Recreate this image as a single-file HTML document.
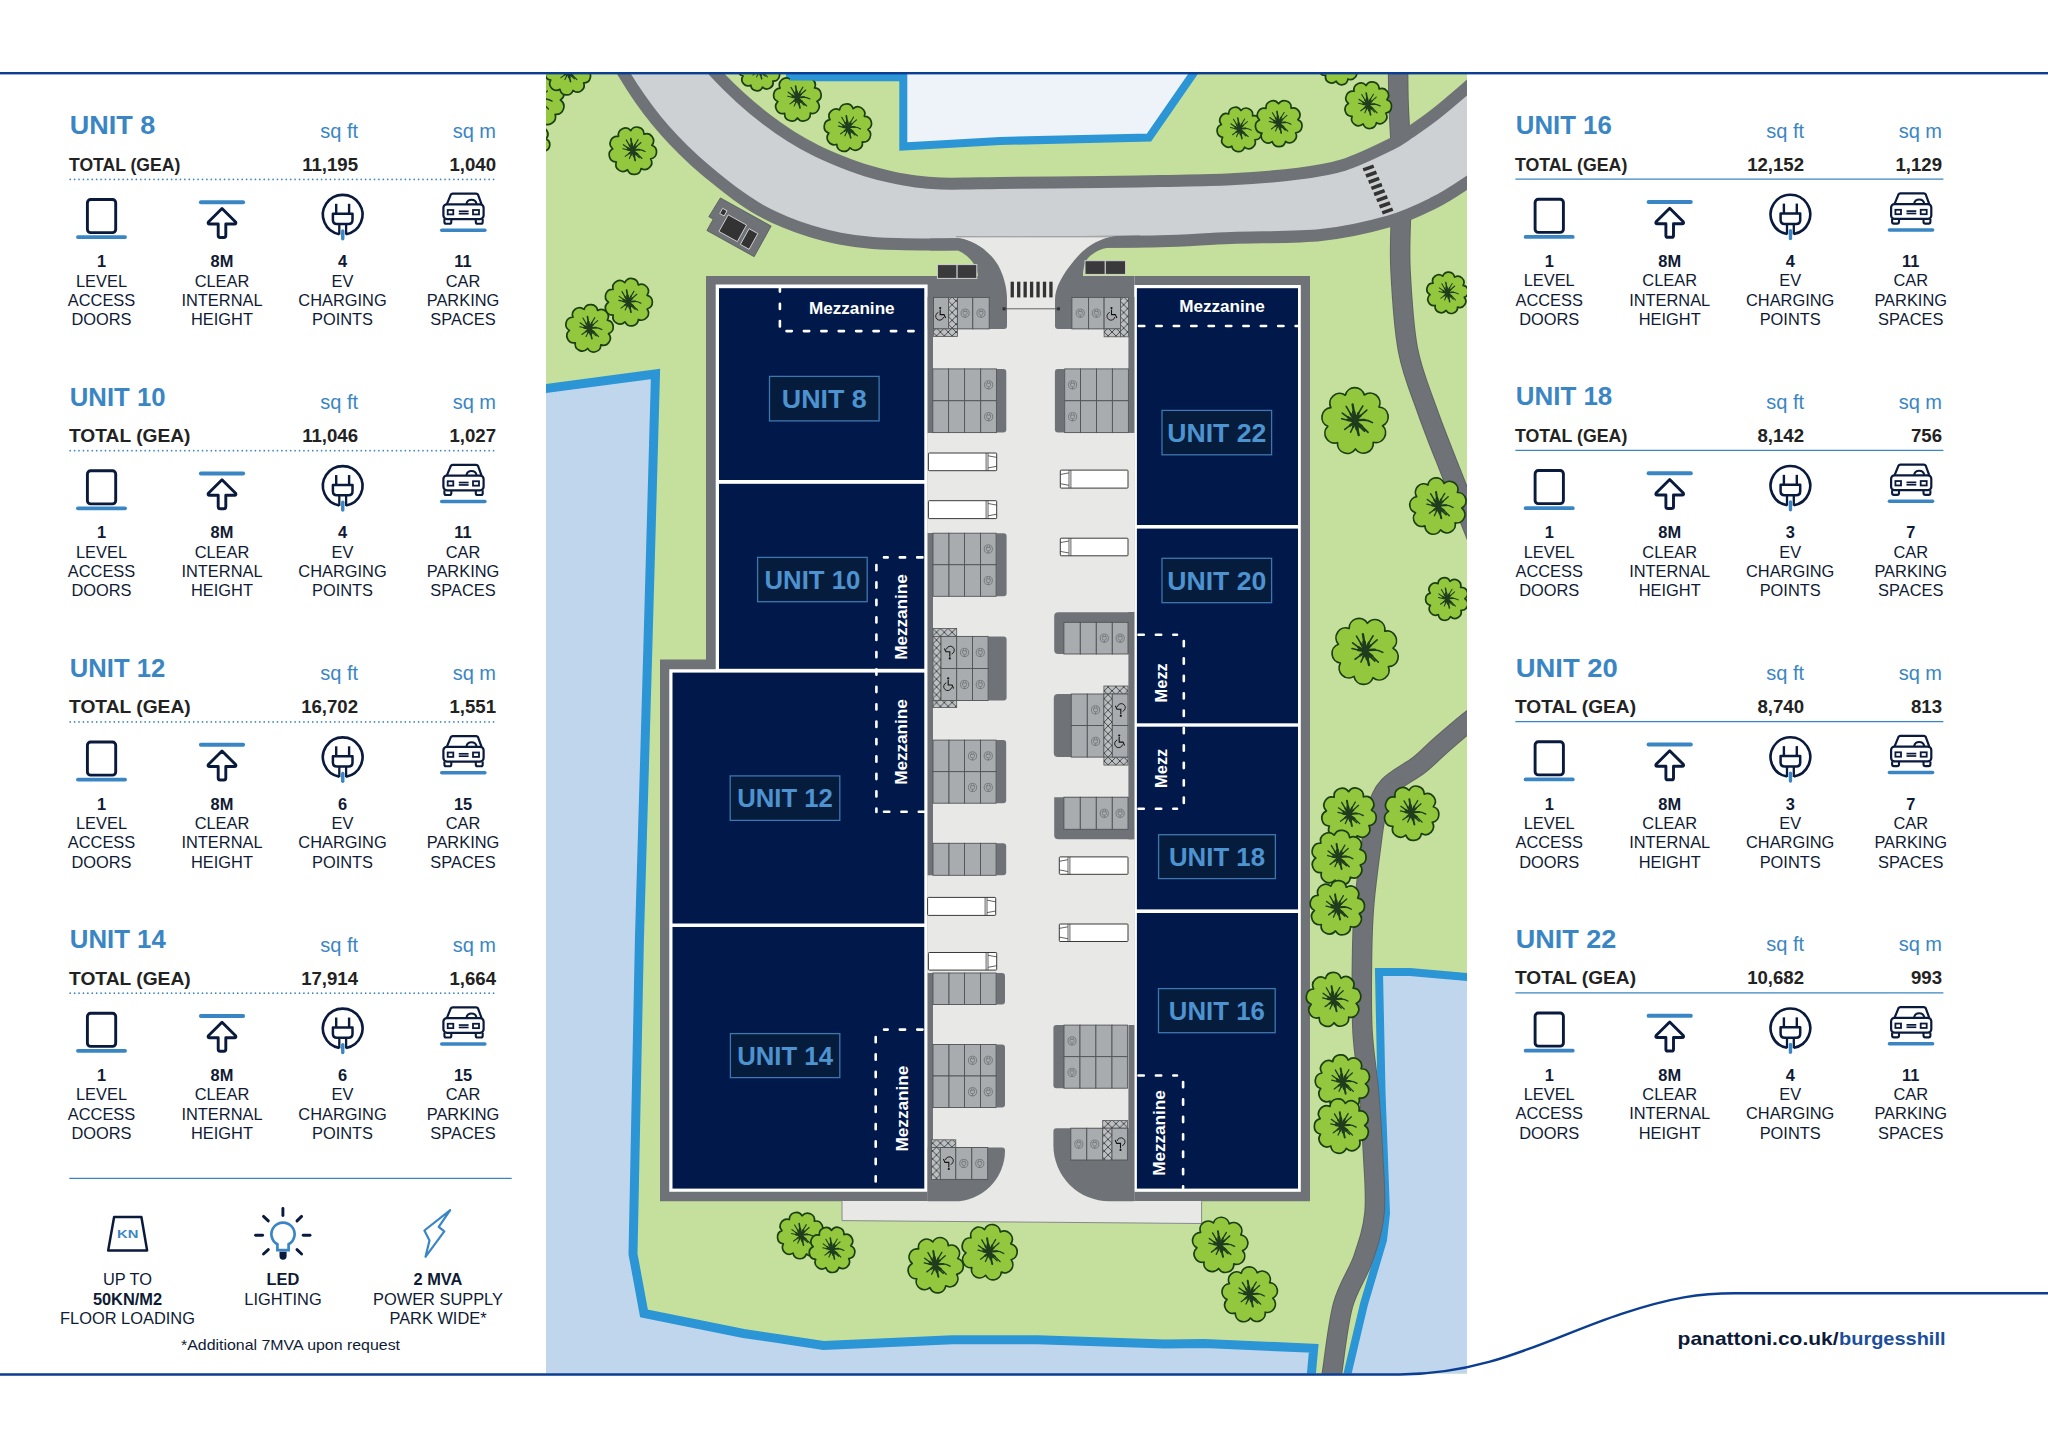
<!DOCTYPE html><html><head><meta charset="utf-8"><title>Panattoni Burgess Hill - Site Plan</title>
<style>html,body{margin:0;padding:0;background:#fff;}body{width:2048px;height:1448px;overflow:hidden;}svg{display:block;font-family:"Liberation Sans", sans-serif;}</style></head><body>
<svg width="2048" height="1448" viewBox="0 0 2048 1448">
<rect width="2048" height="1448" fill="#fff"/>
<defs><clipPath id="mapclip"><rect x="546" y="74" width="921" height="1299.5"/></clipPath><pattern id="hatch" patternUnits="userSpaceOnUse" width="7.8" height="7.8" x="0.5" y="0.5"><rect width="7.8" height="7.8" fill="#bdc0c2"/><path d="M0,0 L7.8,7.8 M7.8,0 L0,7.8" stroke="#3a3c3e" stroke-width="0.9"/></pattern></defs><g clip-path="url(#mapclip)"><rect x="546" y="74" width="921" height="1300" fill="#c5e09c"/><polygon points="520,392 655.5,374 647.5,660 639.4,940 633,1254 644,1313.4 743.5,1333.5 776.8,1338.4 823.5,1345.5 952.4,1339.8 1037.4,1339.8 1164.8,1344.1 1204.5,1343.5 1313.7,1348.3 1309,1400 520,1400" fill="#c0d6ec" stroke="#2b95d6" stroke-width="9" stroke-linejoin="miter"/><polygon points="1379,972 1410,972 1490,979 1490,1400 1345,1400 1346,1380 1364,1304 1383,1240 1386,1213 1381.5,1092" fill="#c0d6ec" stroke="#2b95d6" stroke-width="8" stroke-linejoin="miter"/><polygon points="790,40 790,77.2 903.3,77.2 903.3,146.5 1000,141 1149,137.5 1193,74 1215,40" fill="#eef3f9" stroke="#2b95d6" stroke-width="8" stroke-linejoin="miter"/><path d="M1398,50 C1398.08,58.33 1398,83.33 1398.5,100 C1399,116.67 1400.58,141.67 1401,150" fill="none" stroke="#5e6265" stroke-width="20.5"/><path d="M1398,50 C1398.08,58.33 1398,83.33 1398.5,100 C1399,116.67 1400.58,141.67 1401,150" fill="none" stroke="#6f7377" stroke-width="18.5"/><path d="M1401,215 C1400.92,224.17 1399.33,247.5 1400.5,270 C1401.67,292.5 1403.58,326.67 1408,350 C1412.42,373.33 1420,390 1427,410 C1434,430 1441.17,447.5 1450,470 C1458.83,492.5 1475,532.5 1480,545" fill="none" stroke="#5e6265" stroke-width="20.5"/><path d="M1401,215 C1400.92,224.17 1399.33,247.5 1400.5,270 C1401.67,292.5 1403.58,326.67 1408,350 C1412.42,373.33 1420,390 1427,410 C1434,430 1441.17,447.5 1450,470 C1458.83,492.5 1475,532.5 1480,545" fill="none" stroke="#6f7377" stroke-width="18.5"/><path d="M1490,706 C1486.17,708.83 1475.33,716.33 1467,723 C1458.67,729.67 1448,739 1440,746 C1432,753 1427.5,758.33 1419,765 C1410.5,771.67 1396,778.5 1389,786 C1382,793.5 1380,799.83 1377,810 C1374,820.17 1373.17,830.83 1371,847 C1368.83,863.17 1365.5,888.17 1364,907 C1362.5,925.83 1362.25,939.33 1362,960 C1361.75,980.67 1361.33,1009 1362.5,1031 C1363.67,1053 1367.25,1071.67 1369,1092 C1370.75,1112.33 1372.08,1132.83 1373,1153 C1373.92,1173.17 1376.17,1195.33 1374.5,1213 C1372.83,1230.67 1368.25,1243.67 1363,1259 C1357.75,1274.33 1348.17,1286 1343,1305 C1337.83,1324 1334.33,1358.5 1332,1373 C1329.67,1387.5 1329.5,1388.83 1329,1392" fill="none" stroke="#5e6265" stroke-width="20.5"/><path d="M1490,706 C1486.17,708.83 1475.33,716.33 1467,723 C1458.67,729.67 1448,739 1440,746 C1432,753 1427.5,758.33 1419,765 C1410.5,771.67 1396,778.5 1389,786 C1382,793.5 1380,799.83 1377,810 C1374,820.17 1373.17,830.83 1371,847 C1368.83,863.17 1365.5,888.17 1364,907 C1362.5,925.83 1362.25,939.33 1362,960 C1361.75,980.67 1361.33,1009 1362.5,1031 C1363.67,1053 1367.25,1071.67 1369,1092 C1370.75,1112.33 1372.08,1132.83 1373,1153 C1373.92,1173.17 1376.17,1195.33 1374.5,1213 C1372.83,1230.67 1368.25,1243.67 1363,1259 C1357.75,1274.33 1348.17,1286 1343,1305 C1337.83,1324 1334.33,1358.5 1332,1373 C1329.67,1387.5 1329.5,1388.83 1329,1392" fill="none" stroke="#6f7377" stroke-width="18.5"/><path d="M612,52 C614,55.67 619.42,66.33 624,74 C628.58,81.67 634.17,90.33 639.5,98 C644.83,105.67 650.25,112.93 656,120 C661.75,127.07 667.67,133.73 674,140.4 C680.33,147.07 687.17,153.75 694,160 C700.83,166.25 707.83,172.07 715,177.9 C722.17,183.73 729.5,189.65 737,195 C744.5,200.35 752,205.5 760,210 C768,214.5 776.67,218.5 785,222 C793.33,225.5 800.83,228.23 810,231 C819.17,233.77 829.5,236.6 840,238.6 C850.5,240.6 859.17,242.02 873,243 C886.83,243.98 909.17,244.28 923,244.5 C936.83,244.72 931.33,244.72 956,244.3 C980.67,243.88 1037,242.5 1071,242 C1105,241.5 1133.33,241.97 1160,241.3 C1186.67,240.63 1204.17,239.05 1231,238 C1257.83,236.95 1294.73,237.75 1321,235 C1347.27,232.25 1369.83,226.83 1388.6,221.5 C1407.37,216.17 1420.53,209.47 1433.6,203 C1446.67,196.53 1455.93,190.2 1467,182.7 C1478.07,175.2 1494.5,162.12 1500,158 L1500,58 C1494.5,62.92 1477.92,78.03 1467,87.5 C1456.08,96.97 1444,107.33 1434.5,114.8 C1425,122.27 1417.47,127.28 1410,132.3 C1402.53,137.32 1400.77,139.45 1389.7,144.9 C1378.63,150.35 1358.78,160.22 1343.6,165 C1328.42,169.78 1317.37,171.22 1298.6,173.6 C1279.83,175.98 1254.1,178.07 1231,179.3 C1207.9,180.53 1181.83,180.55 1160,181 C1138.17,181.45 1126.67,181.67 1100,182 C1073.33,182.33 1021.67,182.75 1000,183 C978.33,183.25 979.83,183.42 970,183.5 C960.17,183.58 950,183.83 941,183.5 C932,183.17 924.33,182.58 916,181.5 C907.67,180.42 899.33,178.83 891,177 C882.67,175.17 874.33,173.08 866,170.5 C857.67,167.92 849.33,164.83 841,161.5 C832.67,158.17 824.33,154.67 816,150.5 C807.67,146.33 799.33,141.75 791,136.5 C782.67,131.25 774.27,125.33 766,119 C757.73,112.67 749.67,106 741.4,98.5 C733.13,91 723.3,81.42 716.4,74 C709.5,66.58 702.73,57.33 700,54 Z" fill="#cdd1d4" stroke="#6f7377" stroke-width="12" stroke-linejoin="round"/><rect x="1362.9" y="166.2" width="11.2" height="3.6" fill="#333" transform="rotate(-20 1368.5 168)"/><rect x="1365.61" y="172.34" width="11.2" height="3.6" fill="#333" transform="rotate(-20 1371.21 174.14)"/><rect x="1368.33" y="178.49" width="11.2" height="3.6" fill="#333" transform="rotate(-20 1373.93 180.29)"/><rect x="1371.04" y="184.63" width="11.2" height="3.6" fill="#333" transform="rotate(-20 1376.64 186.43)"/><rect x="1373.76" y="190.77" width="11.2" height="3.6" fill="#333" transform="rotate(-20 1379.36 192.57)"/><rect x="1376.47" y="196.91" width="11.2" height="3.6" fill="#333" transform="rotate(-20 1382.07 198.71)"/><rect x="1379.19" y="203.06" width="11.2" height="3.6" fill="#333" transform="rotate(-20 1384.79 204.86)"/><rect x="1381.9" y="209.2" width="11.2" height="3.6" fill="#333" transform="rotate(-20 1387.5 211)"/><g transform="translate(738,226) rotate(29)"><path d="M-29,-16 L29,-16 L29,19 L-25,19 L-25,6 L-30,6 Z" fill="#6f7377" stroke="#5a5d60" stroke-width="0.8"/><rect x="-22" y="-8" width="5" height="6" fill="#333" stroke="#ddd" stroke-width="0.8"/><rect x="-14" y="-5" width="21" height="19" fill="#333" stroke="#ddd" stroke-width="0.8"/><rect x="11" y="-3" width="10" height="18" fill="#333" stroke="#ddd" stroke-width="0.8"/></g><polygon points="706,276 1310,276 1310,1201.3 660,1201.3 660,659.5 706,659.5" fill="#6f7377"/><path d="M842,1201 L1201.6,1201 L1201.6,1223.5 L842,1220.6 Z" fill="#e8e8e6"/><path d="M842,1201.3 L842,1220.6 L1201.6,1223.5 L1201.6,1201.3" fill="none" stroke="#7d8083" stroke-width="0.9"/><rect x="927.6" y="276" width="206.7" height="925.3" fill="#e8e8e6"/><path d="M954,237 C975,239.5 990,252 998,265 C1004,276 1007,288 1007,302 L1055,302 C1055,287 1063,274 1074.6,260 C1085,247 1100,238 1118,236 Z" fill="#e8e8e6"/><line x1="956" y1="236.8" x2="1116" y2="236.8" stroke="#8d9093" stroke-width="1"/><path d="M930,238.6 L956,238.2 C975,240 990,252 998,265 C1004,276 1007,288 1007,300 L1007,326 Q1007,329 1004,329 L927,329 L927,276 L978,276 C977,266 970,256 958,250.4 L930,250.6 Z" fill="#6f7377"/><path d="M1140,235.4 L1116,236.1 C1100,238 1085,247 1074.6,260 C1063,274 1055,287 1055,300 L1055,326 Q1055,329 1058,329 L1134,329 L1134,276 L1083,276 C1083,268 1085,262 1088,258 C1094,252 1100,249 1108,247.7 L1140,247.3 Z" fill="#6f7377"/><rect x="937.4" y="264.6" width="19.7" height="13.8" fill="#3a3a3c" stroke="#cfd0d0" stroke-width="1"/><rect x="957.1" y="264.6" width="19.7" height="13.8" fill="#3a3a3c" stroke="#cfd0d0" stroke-width="1"/><rect x="1085" y="260.7" width="20.3" height="13.7" fill="#3a3a3c" stroke="#cfd0d0" stroke-width="1"/><rect x="1105.3" y="260.7" width="20.3" height="13.7" fill="#3a3a3c" stroke="#cfd0d0" stroke-width="1"/><rect x="1010.6" y="281.7" width="3.3" height="15.7" fill="#333"/><rect x="1017.05" y="281.7" width="3.3" height="15.7" fill="#333"/><rect x="1023.5" y="281.7" width="3.3" height="15.7" fill="#333"/><rect x="1029.95" y="281.7" width="3.3" height="15.7" fill="#333"/><rect x="1036.4" y="281.7" width="3.3" height="15.7" fill="#333"/><rect x="1042.85" y="281.7" width="3.3" height="15.7" fill="#333"/><rect x="1049.3" y="281.7" width="3.3" height="15.7" fill="#333"/><line x1="1004" y1="308.8" x2="1058.5" y2="308.8" stroke="#555" stroke-width="0.9"/><rect x="1002.5" y="307.3" width="3.2" height="3" fill="#333"/><rect x="1056.8" y="307.3" width="3.2" height="3" fill="#333"/><polygon points="715.7,284.6 927.6,284.6 927.6,1191.8 669.3,1191.8 669.3,669.2 715.7,669.2" fill="#fff"/><rect x="1134.3" y="285" width="166.5" height="906.8" fill="#fff"/><rect x="719" y="288.2" width="205.3" height="191.8" fill="#01194a"/><rect x="719" y="483.8" width="205.3" height="185" fill="#01194a"/><rect x="672.5" y="672.6" width="251.8" height="250.9" fill="#01194a"/><rect x="672.5" y="927" width="251.8" height="261.6" fill="#01194a"/><rect x="1136.9" y="288.2" width="161.1" height="236.8" fill="#01194a"/><rect x="1136.9" y="528.6" width="161.1" height="194.7" fill="#01194a"/><rect x="1136.9" y="726.7" width="161.1" height="182.7" fill="#01194a"/><rect x="1136.9" y="913" width="161.1" height="275.6" fill="#01194a"/>
<rect x="927.6" y="297" width="5.4" height="136" fill="#6f7377"/><rect x="927.6" y="533" width="5.4" height="342.3" fill="#6f7377"/><rect x="927.6" y="973" width="5.4" height="228" fill="#6f7377"/><rect x="1128.4" y="297" width="6" height="136" fill="#6f7377"/><rect x="1128.4" y="612" width="6" height="227.3" fill="#6f7377"/><rect x="1128.4" y="1025" width="6" height="176" fill="#6f7377"/><rect x="933.5" y="297.4" width="15.1" height="31.5" fill="#a9acaf" stroke="#505356" stroke-width="0.9"/><rect x="948.6" y="297.4" width="8.8" height="31.5" fill="url(#hatch)" stroke="#555" stroke-width="0.8"/><rect x="933.5" y="328.9" width="23.9" height="7.5" fill="url(#hatch)" stroke="#555" stroke-width="0.8"/><rect x="957.4" y="297.4" width="15.4" height="31.5" fill="#a9acaf" stroke="#505356" stroke-width="0.9"/><rect x="972.8" y="297.4" width="16.4" height="31.5" fill="#a9acaf" stroke="#505356" stroke-width="0.9"/><g transform="translate(965.1,313.15) rotate(0)"><circle r="4.1" fill="none" stroke="#6b6e71" stroke-width="0.8"/><path d="M-2,-1.6 L2,-1.6 L2,0.6 Q2,2 0,2 Q-2,2 -2,0.6 Z M-1.1,-1.6 L-1.1,-3.2 M1.1,-1.6 L1.1,-3.2 M0,2 L0,4.6" fill="none" stroke="#6b6e71" stroke-width="0.7"/></g><g transform="translate(981,313.15) rotate(0)"><circle r="4.1" fill="none" stroke="#6b6e71" stroke-width="0.8"/><path d="M-2,-1.6 L2,-1.6 L2,0.6 Q2,2 0,2 Q-2,2 -2,0.6 Z M-1.1,-1.6 L-1.1,-3.2 M1.1,-1.6 L1.1,-3.2 M0,2 L0,4.6" fill="none" stroke="#6b6e71" stroke-width="0.7"/></g><g transform="translate(941,314) rotate(0)"><circle cx="-0.8" cy="-6" r="1.1" fill="#111"/><path d="M-0.8,-4.4 L-0.8,0.6 L3,0.6 L4.6,4" fill="none" stroke="#111" stroke-width="1.1"/><path d="M-2.6,-1.6 A4,4 0 1 0 2.6,3" fill="none" stroke="#111" stroke-width="0.9"/></g><path d="M996.5,368.9 L1003.3,368.9 Q1006.3,368.9 1006.3,371.9 L1006.3,429.6 Q1006.3,432.6 1003.3,432.6 L996.5,432.6 L996.5,368.9 Z" fill="#6f7377"/><rect x="932.8" y="368.9" width="15.8" height="31.85" fill="#a9acaf" stroke="#505356" stroke-width="0.9"/><rect x="932.8" y="400.75" width="15.8" height="31.85" fill="#a9acaf" stroke="#505356" stroke-width="0.9"/><rect x="948.6" y="368.9" width="16" height="31.85" fill="#a9acaf" stroke="#505356" stroke-width="0.9"/><rect x="948.6" y="400.75" width="16" height="31.85" fill="#a9acaf" stroke="#505356" stroke-width="0.9"/><rect x="964.6" y="368.9" width="16.1" height="31.85" fill="#a9acaf" stroke="#505356" stroke-width="0.9"/><rect x="964.6" y="400.75" width="16.1" height="31.85" fill="#a9acaf" stroke="#505356" stroke-width="0.9"/><rect x="980.7" y="368.9" width="15.8" height="31.85" fill="#a9acaf" stroke="#505356" stroke-width="0.9"/><rect x="980.7" y="400.75" width="15.8" height="31.85" fill="#a9acaf" stroke="#505356" stroke-width="0.9"/><g transform="translate(988.6,384.82) rotate(0)"><circle r="4.1" fill="none" stroke="#6b6e71" stroke-width="0.8"/><path d="M-2,-1.6 L2,-1.6 L2,0.6 Q2,2 0,2 Q-2,2 -2,0.6 Z M-1.1,-1.6 L-1.1,-3.2 M1.1,-1.6 L1.1,-3.2 M0,2 L0,4.6" fill="none" stroke="#6b6e71" stroke-width="0.7"/></g><g transform="translate(988.6,416.68) rotate(0)"><circle r="4.1" fill="none" stroke="#6b6e71" stroke-width="0.8"/><path d="M-2,-1.6 L2,-1.6 L2,0.6 Q2,2 0,2 Q-2,2 -2,0.6 Z M-1.1,-1.6 L-1.1,-3.2 M1.1,-1.6 L1.1,-3.2 M0,2 L0,4.6" fill="none" stroke="#6b6e71" stroke-width="0.7"/></g><rect x="928.4" y="453" width="68.3" height="17.7" rx="0.8" fill="#fff" stroke="#3a3a3a" stroke-width="1"/><path d="M986.1,453 L986.1,470.7 M988,453 L988,470.7 M988.1,455.8 L996.7,457.4 M988.1,467.9 L996.7,466.3" fill="none" stroke="#3a3a3a" stroke-width="0.8"/><rect x="928.4" y="500.7" width="68.3" height="17.9" rx="0.8" fill="#fff" stroke="#3a3a3a" stroke-width="1"/><path d="M986.1,500.7 L986.1,518.6 M988,500.7 L988,518.6 M988.1,503.5 L996.7,505.1 M988.1,515.8 L996.7,514.2" fill="none" stroke="#3a3a3a" stroke-width="0.8"/><path d="M996.1,533.2 L1003.6,533.2 Q1006.6,533.2 1006.6,536.2 L1006.6,593.3 Q1006.6,596.3 1003.6,596.3 L996.1,596.3 L996.1,533.2 Z" fill="#6f7377"/><rect x="933" y="533.2" width="16" height="31.55" fill="#a9acaf" stroke="#505356" stroke-width="0.9"/><rect x="933" y="564.75" width="16" height="31.55" fill="#a9acaf" stroke="#505356" stroke-width="0.9"/><rect x="949" y="533.2" width="15.5" height="31.55" fill="#a9acaf" stroke="#505356" stroke-width="0.9"/><rect x="949" y="564.75" width="15.5" height="31.55" fill="#a9acaf" stroke="#505356" stroke-width="0.9"/><rect x="964.5" y="533.2" width="16" height="31.55" fill="#a9acaf" stroke="#505356" stroke-width="0.9"/><rect x="964.5" y="564.75" width="16" height="31.55" fill="#a9acaf" stroke="#505356" stroke-width="0.9"/><rect x="980.5" y="533.2" width="15.6" height="31.55" fill="#a9acaf" stroke="#505356" stroke-width="0.9"/><rect x="980.5" y="564.75" width="15.6" height="31.55" fill="#a9acaf" stroke="#505356" stroke-width="0.9"/><g transform="translate(988.3,548.98) rotate(0)"><circle r="4.1" fill="none" stroke="#6b6e71" stroke-width="0.8"/><path d="M-2,-1.6 L2,-1.6 L2,0.6 Q2,2 0,2 Q-2,2 -2,0.6 Z M-1.1,-1.6 L-1.1,-3.2 M1.1,-1.6 L1.1,-3.2 M0,2 L0,4.6" fill="none" stroke="#6b6e71" stroke-width="0.7"/></g><g transform="translate(988.3,580.52) rotate(0)"><circle r="4.1" fill="none" stroke="#6b6e71" stroke-width="0.8"/><path d="M-2,-1.6 L2,-1.6 L2,0.6 Q2,2 0,2 Q-2,2 -2,0.6 Z M-1.1,-1.6 L-1.1,-3.2 M1.1,-1.6 L1.1,-3.2 M0,2 L0,4.6" fill="none" stroke="#6b6e71" stroke-width="0.7"/></g><path d="M988.1,636.4 L1003.6,636.4 Q1006.6,636.4 1006.6,639.4 L1006.6,697.5 Q1006.6,700.5 1003.6,700.5 L988.1,700.5 L988.1,636.4 Z" fill="#6f7377"/><rect x="933" y="628.4" width="23.7" height="8" fill="url(#hatch)" stroke="#555" stroke-width="0.8"/><rect x="933" y="636.4" width="8" height="64.1" fill="url(#hatch)" stroke="#555" stroke-width="0.8"/><rect x="933" y="700.5" width="23.7" height="7" fill="url(#hatch)" stroke="#555" stroke-width="0.8"/><rect x="941" y="636.4" width="15.7" height="32.05" fill="#a9acaf" stroke="#505356" stroke-width="0.9"/><rect x="941" y="668.45" width="15.7" height="32.05" fill="#a9acaf" stroke="#505356" stroke-width="0.9"/><rect x="956.7" y="636.4" width="15.8" height="32.05" fill="#a9acaf" stroke="#505356" stroke-width="0.9"/><rect x="956.7" y="668.45" width="15.8" height="32.05" fill="#a9acaf" stroke="#505356" stroke-width="0.9"/><rect x="972.5" y="636.4" width="15.6" height="32.05" fill="#a9acaf" stroke="#505356" stroke-width="0.9"/><rect x="972.5" y="668.45" width="15.6" height="32.05" fill="#a9acaf" stroke="#505356" stroke-width="0.9"/><g transform="translate(964.6,652.42) rotate(0)"><circle r="4.1" fill="none" stroke="#6b6e71" stroke-width="0.8"/><path d="M-2,-1.6 L2,-1.6 L2,0.6 Q2,2 0,2 Q-2,2 -2,0.6 Z M-1.1,-1.6 L-1.1,-3.2 M1.1,-1.6 L1.1,-3.2 M0,2 L0,4.6" fill="none" stroke="#6b6e71" stroke-width="0.7"/></g><g transform="translate(964.6,684.48) rotate(0)"><circle r="4.1" fill="none" stroke="#6b6e71" stroke-width="0.8"/><path d="M-2,-1.6 L2,-1.6 L2,0.6 Q2,2 0,2 Q-2,2 -2,0.6 Z M-1.1,-1.6 L-1.1,-3.2 M1.1,-1.6 L1.1,-3.2 M0,2 L0,4.6" fill="none" stroke="#6b6e71" stroke-width="0.7"/></g><g transform="translate(980.3,652.42) rotate(0)"><circle r="4.1" fill="none" stroke="#6b6e71" stroke-width="0.8"/><path d="M-2,-1.6 L2,-1.6 L2,0.6 Q2,2 0,2 Q-2,2 -2,0.6 Z M-1.1,-1.6 L-1.1,-3.2 M1.1,-1.6 L1.1,-3.2 M0,2 L0,4.6" fill="none" stroke="#6b6e71" stroke-width="0.7"/></g><g transform="translate(980.3,684.48) rotate(0)"><circle r="4.1" fill="none" stroke="#6b6e71" stroke-width="0.8"/><path d="M-2,-1.6 L2,-1.6 L2,0.6 Q2,2 0,2 Q-2,2 -2,0.6 Z M-1.1,-1.6 L-1.1,-3.2 M1.1,-1.6 L1.1,-3.2 M0,2 L0,4.6" fill="none" stroke="#6b6e71" stroke-width="0.7"/></g><g transform="translate(949,652.4) rotate(180)"><circle cx="-0.8" cy="-6" r="1.1" fill="#111"/><path d="M-0.8,-4.4 L-0.8,0.6 L3,0.6 L4.6,4" fill="none" stroke="#111" stroke-width="1.1"/><path d="M-2.6,-1.6 A4,4 0 1 0 2.6,3" fill="none" stroke="#111" stroke-width="0.9"/></g><g transform="translate(949,684.4) rotate(0)"><circle cx="-0.8" cy="-6" r="1.1" fill="#111"/><path d="M-0.8,-4.4 L-0.8,0.6 L3,0.6 L4.6,4" fill="none" stroke="#111" stroke-width="1.1"/><path d="M-2.6,-1.6 A4,4 0 1 0 2.6,3" fill="none" stroke="#111" stroke-width="0.9"/></g><path d="M996.1,740.1 L1003.2,740.1 Q1006.2,740.1 1006.2,743.1 L1006.2,800.2 Q1006.2,803.2 1003.2,803.2 L996.1,803.2 L996.1,740.1 Z" fill="#6f7377"/><rect x="933" y="740.1" width="16" height="31.55" fill="#a9acaf" stroke="#505356" stroke-width="0.9"/><rect x="933" y="771.65" width="16" height="31.55" fill="#a9acaf" stroke="#505356" stroke-width="0.9"/><rect x="949" y="740.1" width="15.5" height="31.55" fill="#a9acaf" stroke="#505356" stroke-width="0.9"/><rect x="949" y="771.65" width="15.5" height="31.55" fill="#a9acaf" stroke="#505356" stroke-width="0.9"/><rect x="964.5" y="740.1" width="16" height="31.55" fill="#a9acaf" stroke="#505356" stroke-width="0.9"/><rect x="964.5" y="771.65" width="16" height="31.55" fill="#a9acaf" stroke="#505356" stroke-width="0.9"/><rect x="980.5" y="740.1" width="15.6" height="31.55" fill="#a9acaf" stroke="#505356" stroke-width="0.9"/><rect x="980.5" y="771.65" width="15.6" height="31.55" fill="#a9acaf" stroke="#505356" stroke-width="0.9"/><g transform="translate(972.5,755.88) rotate(0)"><circle r="4.1" fill="none" stroke="#6b6e71" stroke-width="0.8"/><path d="M-2,-1.6 L2,-1.6 L2,0.6 Q2,2 0,2 Q-2,2 -2,0.6 Z M-1.1,-1.6 L-1.1,-3.2 M1.1,-1.6 L1.1,-3.2 M0,2 L0,4.6" fill="none" stroke="#6b6e71" stroke-width="0.7"/></g><g transform="translate(972.5,787.43) rotate(0)"><circle r="4.1" fill="none" stroke="#6b6e71" stroke-width="0.8"/><path d="M-2,-1.6 L2,-1.6 L2,0.6 Q2,2 0,2 Q-2,2 -2,0.6 Z M-1.1,-1.6 L-1.1,-3.2 M1.1,-1.6 L1.1,-3.2 M0,2 L0,4.6" fill="none" stroke="#6b6e71" stroke-width="0.7"/></g><g transform="translate(988.3,755.88) rotate(0)"><circle r="4.1" fill="none" stroke="#6b6e71" stroke-width="0.8"/><path d="M-2,-1.6 L2,-1.6 L2,0.6 Q2,2 0,2 Q-2,2 -2,0.6 Z M-1.1,-1.6 L-1.1,-3.2 M1.1,-1.6 L1.1,-3.2 M0,2 L0,4.6" fill="none" stroke="#6b6e71" stroke-width="0.7"/></g><g transform="translate(988.3,787.43) rotate(0)"><circle r="4.1" fill="none" stroke="#6b6e71" stroke-width="0.8"/><path d="M-2,-1.6 L2,-1.6 L2,0.6 Q2,2 0,2 Q-2,2 -2,0.6 Z M-1.1,-1.6 L-1.1,-3.2 M1.1,-1.6 L1.1,-3.2 M0,2 L0,4.6" fill="none" stroke="#6b6e71" stroke-width="0.7"/></g><path d="M996.1,843.3 L1003.2,843.3 Q1006.2,843.3 1006.2,846.3 L1006.2,872.3 Q1006.2,875.3 1003.2,875.3 L996.1,875.3 L996.1,843.3 Z" fill="#6f7377"/><rect x="933" y="843.3" width="16" height="32" fill="#a9acaf" stroke="#505356" stroke-width="0.9"/><rect x="949" y="843.3" width="15.5" height="32" fill="#a9acaf" stroke="#505356" stroke-width="0.9"/><rect x="964.5" y="843.3" width="16" height="32" fill="#a9acaf" stroke="#505356" stroke-width="0.9"/><rect x="980.5" y="843.3" width="15.6" height="32" fill="#a9acaf" stroke="#505356" stroke-width="0.9"/><rect x="927.6" y="897.4" width="68.1" height="18" rx="0.8" fill="#fff" stroke="#3a3a3a" stroke-width="1"/><path d="M985.1,897.4 L985.1,915.4 M987,897.4 L987,915.4 M987.1,900.2 L995.7,901.8 M987.1,912.6 L995.7,911" fill="none" stroke="#3a3a3a" stroke-width="0.8"/><rect x="928.4" y="952.5" width="68.3" height="17.6" rx="0.8" fill="#fff" stroke="#3a3a3a" stroke-width="1"/><path d="M986.1,952.5 L986.1,970.1 M988,952.5 L988,970.1 M988.1,955.3 L996.7,956.9 M988.1,967.3 L996.7,965.7" fill="none" stroke="#3a3a3a" stroke-width="0.8"/><path d="M996.1,973 L1002,973 Q1005,973 1005,976 L1005,1001.5 Q1005,1004.5 1002,1004.5 L996.1,1004.5 L996.1,973 Z" fill="#6f7377"/><rect x="933" y="973" width="16" height="31.5" fill="#a9acaf" stroke="#505356" stroke-width="0.9"/><rect x="949" y="973" width="15.5" height="31.5" fill="#a9acaf" stroke="#505356" stroke-width="0.9"/><rect x="964.5" y="973" width="16" height="31.5" fill="#a9acaf" stroke="#505356" stroke-width="0.9"/><rect x="980.5" y="973" width="15.6" height="31.5" fill="#a9acaf" stroke="#505356" stroke-width="0.9"/><path d="M996.1,1044.5 L1002,1044.5 Q1005,1044.5 1005,1047.5 L1005,1104.5 Q1005,1107.5 1002,1107.5 L996.1,1107.5 L996.1,1044.5 Z" fill="#6f7377"/><rect x="933" y="1044.5" width="16" height="31.5" fill="#a9acaf" stroke="#505356" stroke-width="0.9"/><rect x="933" y="1076" width="16" height="31.5" fill="#a9acaf" stroke="#505356" stroke-width="0.9"/><rect x="949" y="1044.5" width="15.5" height="31.5" fill="#a9acaf" stroke="#505356" stroke-width="0.9"/><rect x="949" y="1076" width="15.5" height="31.5" fill="#a9acaf" stroke="#505356" stroke-width="0.9"/><rect x="964.5" y="1044.5" width="16" height="31.5" fill="#a9acaf" stroke="#505356" stroke-width="0.9"/><rect x="964.5" y="1076" width="16" height="31.5" fill="#a9acaf" stroke="#505356" stroke-width="0.9"/><rect x="980.5" y="1044.5" width="15.6" height="31.5" fill="#a9acaf" stroke="#505356" stroke-width="0.9"/><rect x="980.5" y="1076" width="15.6" height="31.5" fill="#a9acaf" stroke="#505356" stroke-width="0.9"/><g transform="translate(972.5,1060.25) rotate(0)"><circle r="4.1" fill="none" stroke="#6b6e71" stroke-width="0.8"/><path d="M-2,-1.6 L2,-1.6 L2,0.6 Q2,2 0,2 Q-2,2 -2,0.6 Z M-1.1,-1.6 L-1.1,-3.2 M1.1,-1.6 L1.1,-3.2 M0,2 L0,4.6" fill="none" stroke="#6b6e71" stroke-width="0.7"/></g><g transform="translate(972.5,1091.75) rotate(0)"><circle r="4.1" fill="none" stroke="#6b6e71" stroke-width="0.8"/><path d="M-2,-1.6 L2,-1.6 L2,0.6 Q2,2 0,2 Q-2,2 -2,0.6 Z M-1.1,-1.6 L-1.1,-3.2 M1.1,-1.6 L1.1,-3.2 M0,2 L0,4.6" fill="none" stroke="#6b6e71" stroke-width="0.7"/></g><g transform="translate(988.3,1060.25) rotate(0)"><circle r="4.1" fill="none" stroke="#6b6e71" stroke-width="0.8"/><path d="M-2,-1.6 L2,-1.6 L2,0.6 Q2,2 0,2 Q-2,2 -2,0.6 Z M-1.1,-1.6 L-1.1,-3.2 M1.1,-1.6 L1.1,-3.2 M0,2 L0,4.6" fill="none" stroke="#6b6e71" stroke-width="0.7"/></g><g transform="translate(988.3,1091.75) rotate(0)"><circle r="4.1" fill="none" stroke="#6b6e71" stroke-width="0.8"/><path d="M-2,-1.6 L2,-1.6 L2,0.6 Q2,2 0,2 Q-2,2 -2,0.6 Z M-1.1,-1.6 L-1.1,-3.2 M1.1,-1.6 L1.1,-3.2 M0,2 L0,4.6" fill="none" stroke="#6b6e71" stroke-width="0.7"/></g><path d="M927.6,1147.5 L1002,1147.5 Q1005,1147.5 1005,1150.5 A50.8,50.8 0 0 1 954.2,1201.3 L927.6,1201.3 Z" fill="#6f7377"/><rect x="931.6" y="1139.8" width="24.2" height="7.7" fill="url(#hatch)" stroke="#555" stroke-width="0.8"/><rect x="931.6" y="1147.5" width="8.7" height="31.9" fill="url(#hatch)" stroke="#555" stroke-width="0.8"/><rect x="940.3" y="1147.5" width="15.5" height="31.9" fill="#a9acaf" stroke="#505356" stroke-width="0.9"/><rect x="955.8" y="1147.5" width="16" height="31.9" fill="#a9acaf" stroke="#505356" stroke-width="0.9"/><rect x="971.8" y="1147.5" width="15.9" height="31.9" fill="#a9acaf" stroke="#505356" stroke-width="0.9"/><g transform="translate(963.8,1163.45) rotate(0)"><circle r="4.1" fill="none" stroke="#6b6e71" stroke-width="0.8"/><path d="M-2,-1.6 L2,-1.6 L2,0.6 Q2,2 0,2 Q-2,2 -2,0.6 Z M-1.1,-1.6 L-1.1,-3.2 M1.1,-1.6 L1.1,-3.2 M0,2 L0,4.6" fill="none" stroke="#6b6e71" stroke-width="0.7"/></g><g transform="translate(979.75,1163.45) rotate(0)"><circle r="4.1" fill="none" stroke="#6b6e71" stroke-width="0.8"/><path d="M-2,-1.6 L2,-1.6 L2,0.6 Q2,2 0,2 Q-2,2 -2,0.6 Z M-1.1,-1.6 L-1.1,-3.2 M1.1,-1.6 L1.1,-3.2 M0,2 L0,4.6" fill="none" stroke="#6b6e71" stroke-width="0.7"/></g><g transform="translate(948,1163) rotate(180)"><circle cx="-0.8" cy="-6" r="1.1" fill="#111"/><path d="M-0.8,-4.4 L-0.8,0.6 L3,0.6 L4.6,4" fill="none" stroke="#111" stroke-width="1.1"/><path d="M-2.6,-1.6 A4,4 0 1 0 2.6,3" fill="none" stroke="#111" stroke-width="0.9"/></g><rect x="1071.9" y="297.4" width="16.7" height="31.5" fill="#a9acaf" stroke="#505356" stroke-width="0.9"/><rect x="1088.6" y="297.4" width="15.5" height="31.5" fill="#a9acaf" stroke="#505356" stroke-width="0.9"/><g transform="translate(1080.25,313.15) rotate(0)"><circle r="4.1" fill="none" stroke="#6b6e71" stroke-width="0.8"/><path d="M-2,-1.6 L2,-1.6 L2,0.6 Q2,2 0,2 Q-2,2 -2,0.6 Z M-1.1,-1.6 L-1.1,-3.2 M1.1,-1.6 L1.1,-3.2 M0,2 L0,4.6" fill="none" stroke="#6b6e71" stroke-width="0.7"/></g><g transform="translate(1096.35,313.15) rotate(0)"><circle r="4.1" fill="none" stroke="#6b6e71" stroke-width="0.8"/><path d="M-2,-1.6 L2,-1.6 L2,0.6 Q2,2 0,2 Q-2,2 -2,0.6 Z M-1.1,-1.6 L-1.1,-3.2 M1.1,-1.6 L1.1,-3.2 M0,2 L0,4.6" fill="none" stroke="#6b6e71" stroke-width="0.7"/></g><rect x="1104.1" y="297.4" width="16.4" height="31.5" fill="#a9acaf" stroke="#505356" stroke-width="0.9"/><rect x="1120.5" y="297.4" width="7.9" height="39.4" fill="url(#hatch)" stroke="#555" stroke-width="0.8"/><rect x="1104.1" y="328.9" width="16.4" height="7.9" fill="url(#hatch)" stroke="#555" stroke-width="0.8"/><g transform="translate(1112.3,314) rotate(0)"><circle cx="-0.8" cy="-6" r="1.1" fill="#111"/><path d="M-0.8,-4.4 L-0.8,0.6 L3,0.6 L4.6,4" fill="none" stroke="#111" stroke-width="1.1"/><path d="M-2.6,-1.6 A4,4 0 1 0 2.6,3" fill="none" stroke="#111" stroke-width="0.9"/></g><path d="M1057.9,368.9 L1064.7,368.9 L1064.7,432.6 L1057.9,432.6 Q1054.9,432.6 1054.9,429.6 L1054.9,371.9 Q1054.9,368.9 1057.9,368.9 Z" fill="#6f7377"/><rect x="1064.7" y="368.9" width="15.8" height="31.85" fill="#a9acaf" stroke="#505356" stroke-width="0.9"/><rect x="1064.7" y="400.75" width="15.8" height="31.85" fill="#a9acaf" stroke="#505356" stroke-width="0.9"/><rect x="1080.5" y="368.9" width="16" height="31.85" fill="#a9acaf" stroke="#505356" stroke-width="0.9"/><rect x="1080.5" y="400.75" width="16" height="31.85" fill="#a9acaf" stroke="#505356" stroke-width="0.9"/><rect x="1096.5" y="368.9" width="15.9" height="31.85" fill="#a9acaf" stroke="#505356" stroke-width="0.9"/><rect x="1096.5" y="400.75" width="15.9" height="31.85" fill="#a9acaf" stroke="#505356" stroke-width="0.9"/><rect x="1112.4" y="368.9" width="16" height="31.85" fill="#a9acaf" stroke="#505356" stroke-width="0.9"/><rect x="1112.4" y="400.75" width="16" height="31.85" fill="#a9acaf" stroke="#505356" stroke-width="0.9"/><g transform="translate(1072.6,384.82) rotate(0)"><circle r="4.1" fill="none" stroke="#6b6e71" stroke-width="0.8"/><path d="M-2,-1.6 L2,-1.6 L2,0.6 Q2,2 0,2 Q-2,2 -2,0.6 Z M-1.1,-1.6 L-1.1,-3.2 M1.1,-1.6 L1.1,-3.2 M0,2 L0,4.6" fill="none" stroke="#6b6e71" stroke-width="0.7"/></g><g transform="translate(1072.6,416.68) rotate(0)"><circle r="4.1" fill="none" stroke="#6b6e71" stroke-width="0.8"/><path d="M-2,-1.6 L2,-1.6 L2,0.6 Q2,2 0,2 Q-2,2 -2,0.6 Z M-1.1,-1.6 L-1.1,-3.2 M1.1,-1.6 L1.1,-3.2 M0,2 L0,4.6" fill="none" stroke="#6b6e71" stroke-width="0.7"/></g><rect x="1060.3" y="470.1" width="67.7" height="18" rx="0.8" fill="#fff" stroke="#3a3a3a" stroke-width="1"/><path d="M1070.9,470.1 L1070.9,488.1 M1069,470.1 L1069,488.1 M1068.9,472.9 L1060.3,474.5 M1068.9,485.3 L1060.3,483.7" fill="none" stroke="#3a3a3a" stroke-width="0.8"/><rect x="1060.3" y="538.2" width="67.7" height="17.6" rx="0.8" fill="#fff" stroke="#3a3a3a" stroke-width="1"/><path d="M1070.9,538.2 L1070.9,555.8 M1069,538.2 L1069,555.8 M1068.9,541 L1060.3,542.6 M1068.9,553 L1060.3,551.4" fill="none" stroke="#3a3a3a" stroke-width="0.8"/><path d="M1058.2,612.3 L1132.8,612.3 L1132.8,654 L1058.2,654 Q1054.2,654 1054.2,650 L1054.2,616.3 Q1054.2,612.3 1058.2,612.3 Z" fill="#6f7377"/><rect x="1063.9" y="622.3" width="16.4" height="31.7" fill="#a9acaf" stroke="#505356" stroke-width="0.9"/><rect x="1080.3" y="622.3" width="16" height="31.7" fill="#a9acaf" stroke="#505356" stroke-width="0.9"/><rect x="1096.3" y="622.3" width="16" height="31.7" fill="#a9acaf" stroke="#505356" stroke-width="0.9"/><rect x="1112.3" y="622.3" width="15.7" height="31.7" fill="#a9acaf" stroke="#505356" stroke-width="0.9"/><g transform="translate(1104.3,638.15) rotate(0)"><circle r="4.1" fill="none" stroke="#6b6e71" stroke-width="0.8"/><path d="M-2,-1.6 L2,-1.6 L2,0.6 Q2,2 0,2 Q-2,2 -2,0.6 Z M-1.1,-1.6 L-1.1,-3.2 M1.1,-1.6 L1.1,-3.2 M0,2 L0,4.6" fill="none" stroke="#6b6e71" stroke-width="0.7"/></g><g transform="translate(1120.15,638.15) rotate(0)"><circle r="4.1" fill="none" stroke="#6b6e71" stroke-width="0.8"/><path d="M-2,-1.6 L2,-1.6 L2,0.6 Q2,2 0,2 Q-2,2 -2,0.6 Z M-1.1,-1.6 L-1.1,-3.2 M1.1,-1.6 L1.1,-3.2 M0,2 L0,4.6" fill="none" stroke="#6b6e71" stroke-width="0.7"/></g><path d="M1057.8,694 L1071.3,694 L1071.3,757.1 L1057.8,757.1 Q1053.8,757.1 1053.8,753.1 L1053.8,698 Q1053.8,694 1057.8,694 Z" fill="#6f7377"/><rect x="1071.3" y="694" width="16" height="31.55" fill="#a9acaf" stroke="#505356" stroke-width="0.9"/><rect x="1071.3" y="725.55" width="16" height="31.55" fill="#a9acaf" stroke="#505356" stroke-width="0.9"/><rect x="1087.3" y="694" width="16.6" height="31.55" fill="#a9acaf" stroke="#505356" stroke-width="0.9"/><rect x="1087.3" y="725.55" width="16.6" height="31.55" fill="#a9acaf" stroke="#505356" stroke-width="0.9"/><g transform="translate(1095.6,709.77) rotate(0)"><circle r="4.1" fill="none" stroke="#6b6e71" stroke-width="0.8"/><path d="M-2,-1.6 L2,-1.6 L2,0.6 Q2,2 0,2 Q-2,2 -2,0.6 Z M-1.1,-1.6 L-1.1,-3.2 M1.1,-1.6 L1.1,-3.2 M0,2 L0,4.6" fill="none" stroke="#6b6e71" stroke-width="0.7"/></g><g transform="translate(1095.6,741.33) rotate(0)"><circle r="4.1" fill="none" stroke="#6b6e71" stroke-width="0.8"/><path d="M-2,-1.6 L2,-1.6 L2,0.6 Q2,2 0,2 Q-2,2 -2,0.6 Z M-1.1,-1.6 L-1.1,-3.2 M1.1,-1.6 L1.1,-3.2 M0,2 L0,4.6" fill="none" stroke="#6b6e71" stroke-width="0.7"/></g><rect x="1103.9" y="686" width="24.1" height="8" fill="url(#hatch)" stroke="#555" stroke-width="0.8"/><rect x="1103.9" y="694" width="8.4" height="63.1" fill="url(#hatch)" stroke="#555" stroke-width="0.8"/><rect x="1103.9" y="757.1" width="24.1" height="8" fill="url(#hatch)" stroke="#555" stroke-width="0.8"/><rect x="1112.3" y="694" width="15.7" height="31.55" fill="#a9acaf" stroke="#505356" stroke-width="0.9"/><rect x="1112.3" y="725.55" width="15.7" height="31.55" fill="#a9acaf" stroke="#505356" stroke-width="0.9"/><g transform="translate(1120,709.8) rotate(180)"><circle cx="-0.8" cy="-6" r="1.1" fill="#111"/><path d="M-0.8,-4.4 L-0.8,0.6 L3,0.6 L4.6,4" fill="none" stroke="#111" stroke-width="1.1"/><path d="M-2.6,-1.6 A4,4 0 1 0 2.6,3" fill="none" stroke="#111" stroke-width="0.9"/></g><g transform="translate(1120,741.5) rotate(0)"><circle cx="-0.8" cy="-6" r="1.1" fill="#111"/><path d="M-0.8,-4.4 L-0.8,0.6 L3,0.6 L4.6,4" fill="none" stroke="#111" stroke-width="1.1"/><path d="M-2.6,-1.6 A4,4 0 1 0 2.6,3" fill="none" stroke="#111" stroke-width="0.9"/></g><path d="M1054.2,797.2 L1132.8,797.2 L1132.8,839.3 L1058.2,839.3 Q1054.2,839.3 1054.2,835.3 L1054.2,797.2 Z" fill="#6f7377"/><rect x="1063.9" y="797.2" width="16.4" height="32.1" fill="#a9acaf" stroke="#505356" stroke-width="0.9"/><rect x="1080.3" y="797.2" width="16" height="32.1" fill="#a9acaf" stroke="#505356" stroke-width="0.9"/><rect x="1096.3" y="797.2" width="16" height="32.1" fill="#a9acaf" stroke="#505356" stroke-width="0.9"/><rect x="1112.3" y="797.2" width="15.7" height="32.1" fill="#a9acaf" stroke="#505356" stroke-width="0.9"/><g transform="translate(1104.3,813.25) rotate(0)"><circle r="4.1" fill="none" stroke="#6b6e71" stroke-width="0.8"/><path d="M-2,-1.6 L2,-1.6 L2,0.6 Q2,2 0,2 Q-2,2 -2,0.6 Z M-1.1,-1.6 L-1.1,-3.2 M1.1,-1.6 L1.1,-3.2 M0,2 L0,4.6" fill="none" stroke="#6b6e71" stroke-width="0.7"/></g><g transform="translate(1120.15,813.25) rotate(0)"><circle r="4.1" fill="none" stroke="#6b6e71" stroke-width="0.8"/><path d="M-2,-1.6 L2,-1.6 L2,0.6 Q2,2 0,2 Q-2,2 -2,0.6 Z M-1.1,-1.6 L-1.1,-3.2 M1.1,-1.6 L1.1,-3.2 M0,2 L0,4.6" fill="none" stroke="#6b6e71" stroke-width="0.7"/></g><rect x="1059.3" y="856.9" width="68.7" height="17.4" rx="0.8" fill="#fff" stroke="#3a3a3a" stroke-width="1"/><path d="M1069.9,856.9 L1069.9,874.3 M1068,856.9 L1068,874.3 M1067.9,859.7 L1059.3,861.3 M1067.9,871.5 L1059.3,869.9" fill="none" stroke="#3a3a3a" stroke-width="0.8"/><rect x="1059.3" y="924" width="68.7" height="17.5" rx="0.8" fill="#fff" stroke="#3a3a3a" stroke-width="1"/><path d="M1069.9,924 L1069.9,941.5 M1068,924 L1068,941.5 M1067.9,926.8 L1059.3,928.4 M1067.9,938.7 L1059.3,937.1" fill="none" stroke="#3a3a3a" stroke-width="0.8"/><path d="M1056.4,1025.1 L1064,1025.1 L1064,1088.2 L1056.4,1088.2 Q1053.4,1088.2 1053.4,1085.2 L1053.4,1028.1 Q1053.4,1025.1 1056.4,1025.1 Z" fill="#6f7377"/><rect x="1064" y="1025.1" width="16" height="31.55" fill="#a9acaf" stroke="#505356" stroke-width="0.9"/><rect x="1064" y="1056.65" width="16" height="31.55" fill="#a9acaf" stroke="#505356" stroke-width="0.9"/><rect x="1080" y="1025.1" width="15.9" height="31.55" fill="#a9acaf" stroke="#505356" stroke-width="0.9"/><rect x="1080" y="1056.65" width="15.9" height="31.55" fill="#a9acaf" stroke="#505356" stroke-width="0.9"/><rect x="1095.9" y="1025.1" width="16.1" height="31.55" fill="#a9acaf" stroke="#505356" stroke-width="0.9"/><rect x="1095.9" y="1056.65" width="16.1" height="31.55" fill="#a9acaf" stroke="#505356" stroke-width="0.9"/><rect x="1112" y="1025.1" width="15.4" height="31.55" fill="#a9acaf" stroke="#505356" stroke-width="0.9"/><rect x="1112" y="1056.65" width="15.4" height="31.55" fill="#a9acaf" stroke="#505356" stroke-width="0.9"/><g transform="translate(1072,1040.88) rotate(0)"><circle r="4.1" fill="none" stroke="#6b6e71" stroke-width="0.8"/><path d="M-2,-1.6 L2,-1.6 L2,0.6 Q2,2 0,2 Q-2,2 -2,0.6 Z M-1.1,-1.6 L-1.1,-3.2 M1.1,-1.6 L1.1,-3.2 M0,2 L0,4.6" fill="none" stroke="#6b6e71" stroke-width="0.7"/></g><g transform="translate(1072,1072.43) rotate(0)"><circle r="4.1" fill="none" stroke="#6b6e71" stroke-width="0.8"/><path d="M-2,-1.6 L2,-1.6 L2,0.6 Q2,2 0,2 Q-2,2 -2,0.6 Z M-1.1,-1.6 L-1.1,-3.2 M1.1,-1.6 L1.1,-3.2 M0,2 L0,4.6" fill="none" stroke="#6b6e71" stroke-width="0.7"/></g><path d="M1134,1128.2 L1056.4,1128.2 Q1053.4,1128.2 1053.4,1131.2 L1053.4,1145.3 A56,56 0 0 0 1109.4,1201.3 L1134,1201.3 Z" fill="#6f7377"/><rect x="1070.8" y="1128.2" width="16" height="31.8" fill="#a9acaf" stroke="#505356" stroke-width="0.9"/><rect x="1086.8" y="1128.2" width="15.9" height="31.8" fill="#a9acaf" stroke="#505356" stroke-width="0.9"/><g transform="translate(1078.8,1144.1) rotate(0)"><circle r="4.1" fill="none" stroke="#6b6e71" stroke-width="0.8"/><path d="M-2,-1.6 L2,-1.6 L2,0.6 Q2,2 0,2 Q-2,2 -2,0.6 Z M-1.1,-1.6 L-1.1,-3.2 M1.1,-1.6 L1.1,-3.2 M0,2 L0,4.6" fill="none" stroke="#6b6e71" stroke-width="0.7"/></g><g transform="translate(1094.75,1144.1) rotate(0)"><circle r="4.1" fill="none" stroke="#6b6e71" stroke-width="0.8"/><path d="M-2,-1.6 L2,-1.6 L2,0.6 Q2,2 0,2 Q-2,2 -2,0.6 Z M-1.1,-1.6 L-1.1,-3.2 M1.1,-1.6 L1.1,-3.2 M0,2 L0,4.6" fill="none" stroke="#6b6e71" stroke-width="0.7"/></g><rect x="1102.7" y="1120.4" width="24.7" height="7.8" fill="url(#hatch)" stroke="#555" stroke-width="0.8"/><rect x="1102.7" y="1128.2" width="9.3" height="31.8" fill="url(#hatch)" stroke="#555" stroke-width="0.8"/><rect x="1112" y="1128.2" width="15.4" height="31.8" fill="#a9acaf" stroke="#505356" stroke-width="0.9"/><g transform="translate(1119.7,1144) rotate(180)"><circle cx="-0.8" cy="-6" r="1.1" fill="#111"/><path d="M-0.8,-4.4 L-0.8,0.6 L3,0.6 L4.6,4" fill="none" stroke="#111" stroke-width="1.1"/><path d="M-2.6,-1.6 A4,4 0 1 0 2.6,3" fill="none" stroke="#111" stroke-width="0.9"/></g><rect x="769.5" y="376.4" width="109.6" height="44.5" fill="#061c3d" stroke="#3f76b0" stroke-width="1.3"/><text x="824.3" y="407.95" font-size="25.5" font-weight="bold" fill="#4d93d0" text-anchor="middle" textLength="85" lengthAdjust="spacingAndGlyphs">UNIT 8</text><rect x="757.6" y="557.4" width="109.6" height="44.3" fill="#061c3d" stroke="#3f76b0" stroke-width="1.3"/><text x="812.4" y="588.85" font-size="25.5" font-weight="bold" fill="#4d93d0" text-anchor="middle" textLength="95.7" lengthAdjust="spacingAndGlyphs">UNIT 10</text><rect x="730.2" y="775.9" width="109.6" height="44.5" fill="#061c3d" stroke="#3f76b0" stroke-width="1.3"/><text x="785" y="807.45" font-size="25.5" font-weight="bold" fill="#4d93d0" text-anchor="middle" textLength="95.7" lengthAdjust="spacingAndGlyphs">UNIT 12</text><rect x="730.4" y="1033.6" width="109.4" height="44" fill="#061c3d" stroke="#3f76b0" stroke-width="1.3"/><text x="785.1" y="1064.9" font-size="25.5" font-weight="bold" fill="#4d93d0" text-anchor="middle" textLength="95.7" lengthAdjust="spacingAndGlyphs">UNIT 14</text><rect x="1162" y="410.4" width="109.6" height="44.4" fill="#061c3d" stroke="#3f76b0" stroke-width="1.3"/><text x="1216.8" y="441.9" font-size="25.5" font-weight="bold" fill="#4d93d0" text-anchor="middle" textLength="99" lengthAdjust="spacingAndGlyphs">UNIT 22</text><rect x="1162" y="558.3" width="109.6" height="44.4" fill="#061c3d" stroke="#3f76b0" stroke-width="1.3"/><text x="1216.8" y="589.8" font-size="25.5" font-weight="bold" fill="#4d93d0" text-anchor="middle" textLength="99" lengthAdjust="spacingAndGlyphs">UNIT 20</text><rect x="1158.6" y="834.7" width="116.8" height="43.9" fill="#061c3d" stroke="#3f76b0" stroke-width="1.3"/><text x="1217" y="865.95" font-size="25.5" font-weight="bold" fill="#4d93d0" text-anchor="middle" textLength="96" lengthAdjust="spacingAndGlyphs">UNIT 18</text><rect x="1158.5" y="988.6" width="116.7" height="44.1" fill="#061c3d" stroke="#3f76b0" stroke-width="1.3"/><text x="1216.85" y="1019.95" font-size="25.5" font-weight="bold" fill="#4d93d0" text-anchor="middle" textLength="96" lengthAdjust="spacingAndGlyphs">UNIT 16</text><path d="M779.9,326.4 L779.9,286" stroke="#fff" stroke-width="2.6" stroke-dasharray="5.3 12.1" stroke-linecap="round" fill="none"/><path d="M786.5,331.1 L924,331.1" stroke="#fff" stroke-width="2.6" stroke-dasharray="5.3 12.1" stroke-linecap="round" fill="none"/><text x="851.8" y="313.8" font-size="16.4" font-weight="bold" fill="#fff" text-anchor="middle" textLength="85.7" lengthAdjust="spacingAndGlyphs">Mezzanine</text><path d="M1139,326 L1298,326" stroke="#fff" stroke-width="2.6" stroke-dasharray="5.3 12.1" stroke-linecap="round" fill="none"/><text x="1222" y="312" font-size="16.4" font-weight="bold" fill="#fff" text-anchor="middle" textLength="85.7" lengthAdjust="spacingAndGlyphs">Mezzanine</text><path d="M922.5,557.4 L884,557.4" stroke="#fff" stroke-width="2.6" stroke-dasharray="5.3 12.1" stroke-linecap="round" fill="none"/><path d="M876.4,565 L876.4,812" stroke="#fff" stroke-width="2.6" stroke-dasharray="5.3 12.1" stroke-linecap="round" fill="none"/><path d="M884,811.8 L924,811.8" stroke="#fff" stroke-width="2.6" stroke-dasharray="5.3 12.1" stroke-linecap="round" fill="none"/><text transform="translate(907,617) rotate(-90)" font-size="16.4" font-weight="bold" fill="#fff" text-anchor="middle" textLength="85.7" lengthAdjust="spacingAndGlyphs">Mezzanine</text><text transform="translate(907,742) rotate(-90)" font-size="16.4" font-weight="bold" fill="#fff" text-anchor="middle" textLength="85.7" lengthAdjust="spacingAndGlyphs">Mezzanine</text><path d="M922.5,1029.6 L884,1029.6" stroke="#fff" stroke-width="2.6" stroke-dasharray="5.3 12.1" stroke-linecap="round" fill="none"/><path d="M875.7,1037 L875.7,1188" stroke="#fff" stroke-width="2.6" stroke-dasharray="5.3 12.1" stroke-linecap="round" fill="none"/><text transform="translate(907.5,1108.6) rotate(-90)" font-size="16.4" font-weight="bold" fill="#fff" text-anchor="middle" textLength="85.7" lengthAdjust="spacingAndGlyphs">Mezzanine</text><path d="M1138.5,634.8 L1177,634.8" stroke="#fff" stroke-width="2.6" stroke-dasharray="5.3 12.1" stroke-linecap="round" fill="none"/><path d="M1183.8,641 L1183.8,805" stroke="#fff" stroke-width="2.6" stroke-dasharray="5.3 12.1" stroke-linecap="round" fill="none"/><path d="M1138.5,808.8 L1177,808.8" stroke="#fff" stroke-width="2.6" stroke-dasharray="5.3 12.1" stroke-linecap="round" fill="none"/><text transform="translate(1167.3,682.8) rotate(-90)" font-size="16.4" font-weight="bold" fill="#fff" text-anchor="middle">Mezz</text><text transform="translate(1167.3,768.3) rotate(-90)" font-size="16.4" font-weight="bold" fill="#fff" text-anchor="middle">Mezz</text><path d="M1138.5,1075.5 L1177,1075.5" stroke="#fff" stroke-width="2.6" stroke-dasharray="5.3 12.1" stroke-linecap="round" fill="none"/><path d="M1183.1,1082 L1183.1,1188" stroke="#fff" stroke-width="2.6" stroke-dasharray="5.3 12.1" stroke-linecap="round" fill="none"/><text transform="translate(1164.8,1133) rotate(-90)" font-size="16.4" font-weight="bold" fill="#fff" text-anchor="middle" textLength="85.7" lengthAdjust="spacingAndGlyphs">Mezzanine</text><path d="M560.41,100 A7.91,7.91 0 0 1 555.17,114.4 A7.91,7.91 0 0 1 541.89,122.07 A7.91,7.91 0 0 1 526.79,119.41 A7.91,7.91 0 0 1 516.94,107.66 A7.91,7.91 0 0 1 516.94,92.34 A7.91,7.91 0 0 1 526.79,80.59 A7.91,7.91 0 0 1 541.89,77.93 A7.91,7.91 0 0 1 555.17,85.6 A7.91,7.91 0 0 1 560.41,100 Z" fill="#93c83e" stroke="#1a3f10" stroke-width="1.7" stroke-linejoin="round"/><path d="M538,100 Q531.81,97.08 527.65,93.47 M538,100 Q534.4,94.26 530.8,88.08 M538,100 Q531.81,99.33 527.2,97.97 M538,100 Q541.94,95.61 547.45,91 M538,100 Q540.48,93.03 544.19,87.74 M538,100 Q546.33,97.41 552.06,101.12 M538,100 Q543.74,103.6 548.46,109 M538,100 Q541.6,104.95 545.65,108.1 M538,100 Q534.06,103.6 529.67,106.64 M538,100 Q536.65,104.72 534.4,108.89 " fill="none" stroke="#1f3d1c" stroke-width="1.29" stroke-linecap="round"/><path d="M538,100 Q534.91,98.54 532.32,96.91 M538,100 Q536.2,97.13 534.4,94.15 M538,100 Q534.91,99.66 532.21,99.16 M538,100 Q539.97,97.81 542.33,95.56 M538,100 Q539.24,96.51 540.78,93.45 M538,100 Q542.16,98.71 545.68,98.99 M538,100 Q540.87,101.8 543.48,104.05 M538,100 Q539.8,102.47 541.71,104.5 M538,100 Q536.03,101.8 533.95,103.46 M538,100 Q537.33,102.36 536.42,104.58 " fill="none" stroke="#1f3d1c" stroke-width="1.97" stroke-linecap="round"/><path d="M535.98,86.5 Q537.66,98.88 540.92,111.25" fill="none" stroke="#1f3d1c" stroke-width="1.91" stroke-linecap="round"/><path d="M536.88,92.69 Q537.77,99.44 539.58,106.19" fill="none" stroke="#1f3d1c" stroke-width="2.93" stroke-linecap="round"/><ellipse cx="538" cy="100" rx="2.59" ry="2.02" fill="#1f3d1c" transform="rotate(-20 538 100)"/><path d="M583.65,82.94 A6.74,6.74 0 0 1 572.96,90.44 A6.74,6.74 0 0 1 559.95,89.31 A6.74,6.74 0 0 1 550.71,80.08 A6.74,6.74 0 0 1 549.56,67.08 A6.74,6.74 0 0 1 557.04,56.37 A6.74,6.74 0 0 1 569.65,52.98 A6.74,6.74 0 0 1 581.49,58.49 A6.74,6.74 0 0 1 587.02,70.32 A6.74,6.74 0 0 1 583.65,82.94 Z" fill="#93c83e" stroke="#1a3f10" stroke-width="1.7" stroke-linejoin="round"/><path d="M568,72 Q562.73,69.51 559.18,66.44 M568,72 Q564.93,67.11 561.87,61.84 M568,72 Q562.73,71.42 558.8,70.28 M568,72 Q571.35,68.26 576.05,64.33 M568,72 Q570.11,66.06 573.27,61.55 M568,72 Q575.09,69.8 579.98,72.96 M568,72 Q572.89,75.07 576.91,79.67 M568,72 Q571.07,76.22 574.52,78.9 M568,72 Q564.65,75.07 560.91,77.65 M568,72 Q566.85,76.03 564.93,79.57 " fill="none" stroke="#1f3d1c" stroke-width="1.1" stroke-linecap="round"/><path d="M568,72 Q565.36,70.75 563.16,69.36 M568,72 Q566.47,69.56 564.93,67.02 M568,72 Q565.36,71.71 563.06,71.28 M568,72 Q569.68,70.13 571.69,68.21 M568,72 Q569.05,69.03 570.37,66.42 M568,72 Q571.55,70.9 574.54,71.14 M568,72 Q570.44,73.53 572.67,75.45 M568,72 Q569.53,74.11 571.16,75.83 M568,72 Q566.32,73.53 564.55,74.95 M568,72 Q567.42,74.01 566.66,75.91 " fill="none" stroke="#1f3d1c" stroke-width="1.68" stroke-linecap="round"/><path d="M566.27,60.5 Q567.71,71.04 570.49,81.58" fill="none" stroke="#1f3d1c" stroke-width="1.63" stroke-linecap="round"/><path d="M567.04,65.77 Q567.81,71.52 569.34,77.27" fill="none" stroke="#1f3d1c" stroke-width="2.49" stroke-linecap="round"/><ellipse cx="568" cy="72" rx="2.2" ry="1.73" fill="#1f3d1c" transform="rotate(-20 568 72)"/><path d="M543.83,151.1 A6.45,6.45 0 0 1 534.27,159.15 A6.45,6.45 0 0 1 521.78,159.17 A6.45,6.45 0 0 1 512.2,151.16 A6.45,6.45 0 0 1 510.01,138.86 A6.45,6.45 0 0 1 516.24,128.03 A6.45,6.45 0 0 1 527.97,123.74 A6.45,6.45 0 0 1 539.71,127.99 A6.45,6.45 0 0 1 545.98,138.8 A6.45,6.45 0 0 1 543.83,151.1 Z" fill="#93c83e" stroke="#1a3f10" stroke-width="1.7" stroke-linejoin="round"/><path d="M528,142 Q522.96,139.62 519.57,136.68 M528,142 Q525.07,137.32 522.13,132.28 M528,142 Q522.96,141.45 519.2,140.35 M528,142 Q531.21,138.43 535.7,134.67 M528,142 Q530.02,136.32 533.04,132.01 M528,142 Q534.78,139.89 539.46,142.92 M528,142 Q532.67,144.93 536.52,149.33 M528,142 Q530.93,146.03 534.23,148.6 M528,142 Q524.79,144.93 521.22,147.41 M528,142 Q526.9,145.85 525.07,149.24 " fill="none" stroke="#1f3d1c" stroke-width="1.05" stroke-linecap="round"/><path d="M528,142 Q525.48,140.81 523.37,139.48 M528,142 Q526.53,139.66 525.07,137.23 M528,142 Q525.48,141.72 523.28,141.31 M528,142 Q529.6,140.21 531.53,138.38 M528,142 Q529.01,139.16 530.27,136.66 M528,142 Q531.39,140.95 534.26,141.18 M528,142 Q530.34,143.47 532.47,145.3 M528,142 Q529.47,144.02 531.02,145.67 M528,142 Q526.4,143.47 524.7,144.82 M528,142 Q527.45,143.93 526.72,145.74 " fill="none" stroke="#1f3d1c" stroke-width="1.6" stroke-linecap="round"/><path d="M526.35,131 Q527.73,141.08 530.38,151.17" fill="none" stroke="#1f3d1c" stroke-width="1.56" stroke-linecap="round"/><path d="M527.08,136.04 Q527.82,141.54 529.28,147.04" fill="none" stroke="#1f3d1c" stroke-width="2.38" stroke-linecap="round"/><ellipse cx="528" cy="142" rx="2.11" ry="1.65" fill="#1f3d1c" transform="rotate(-20 528 142)"/><path d="M650.68,158.87 A7.04,7.04 0 0 1 641.07,168.53 A7.04,7.04 0 0 1 627.49,169.75 A7.04,7.04 0 0 1 616.31,161.97 A7.04,7.04 0 0 1 612.75,148.82 A7.04,7.04 0 0 1 618.48,136.45 A7.04,7.04 0 0 1 630.81,130.66 A7.04,7.04 0 0 1 643.98,134.15 A7.04,7.04 0 0 1 651.83,145.29 A7.04,7.04 0 0 1 650.68,158.87 Z" fill="#93c83e" stroke="#1a3f10" stroke-width="1.7" stroke-linejoin="round"/><path d="M632.6,150.5 Q627.1,147.9 623.4,144.7 M632.6,150.5 Q629.4,145.4 626.2,139.9 M632.6,150.5 Q627.1,149.9 623,148.7 M632.6,150.5 Q636.1,146.6 641,142.5 M632.6,150.5 Q634.8,144.3 638.1,139.6 M632.6,150.5 Q640,148.2 645.1,151.5 M632.6,150.5 Q637.7,153.7 641.9,158.5 M632.6,150.5 Q635.8,154.9 639.4,157.7 M632.6,150.5 Q629.1,153.7 625.2,156.4 M632.6,150.5 Q631.4,154.7 629.4,158.4 " fill="none" stroke="#1f3d1c" stroke-width="1.15" stroke-linecap="round"/><path d="M632.6,150.5 Q629.85,149.2 627.55,147.75 M632.6,150.5 Q631,147.95 629.4,145.3 M632.6,150.5 Q629.85,150.2 627.45,149.75 M632.6,150.5 Q634.35,148.55 636.45,146.55 M632.6,150.5 Q633.7,147.4 635.08,144.68 M632.6,150.5 Q636.3,149.35 639.43,149.6 M632.6,150.5 Q635.15,152.1 637.48,154.1 M632.6,150.5 Q634.2,152.7 635.9,154.5 M632.6,150.5 Q630.85,152.1 629,153.57 M632.6,150.5 Q632,152.6 631.2,154.57 " fill="none" stroke="#1f3d1c" stroke-width="1.75" stroke-linecap="round"/><path d="M630.8,138.5 Q632.3,149.5 635.2,160.5" fill="none" stroke="#1f3d1c" stroke-width="1.7" stroke-linecap="round"/><path d="M631.6,144 Q632.4,150 634,156" fill="none" stroke="#1f3d1c" stroke-width="2.6" stroke-linecap="round"/><ellipse cx="632.6" cy="150.5" rx="2.3" ry="1.8" fill="#1f3d1c" transform="rotate(-20 632.6 150.5)"/><path d="M647.14,308.95 A7.04,7.04 0 0 1 638.42,319.42 A7.04,7.04 0 0 1 625.01,321.83 A7.04,7.04 0 0 1 613.18,315.06 A7.04,7.04 0 0 1 608.48,302.27 A7.04,7.04 0 0 1 613.1,289.45 A7.04,7.04 0 0 1 624.87,282.59 A7.04,7.04 0 0 1 638.3,284.91 A7.04,7.04 0 0 1 647.09,295.32 A7.04,7.04 0 0 1 647.14,308.95 Z" fill="#93c83e" stroke="#1a3f10" stroke-width="1.7" stroke-linejoin="round"/><path d="M628.4,302.2 Q622.9,299.6 619.2,296.4 M628.4,302.2 Q625.2,297.1 622,291.6 M628.4,302.2 Q622.9,301.6 618.8,300.4 M628.4,302.2 Q631.9,298.3 636.8,294.2 M628.4,302.2 Q630.6,296 633.9,291.3 M628.4,302.2 Q635.8,299.9 640.9,303.2 M628.4,302.2 Q633.5,305.4 637.7,310.2 M628.4,302.2 Q631.6,306.6 635.2,309.4 M628.4,302.2 Q624.9,305.4 621,308.1 M628.4,302.2 Q627.2,306.4 625.2,310.1 " fill="none" stroke="#1f3d1c" stroke-width="1.15" stroke-linecap="round"/><path d="M628.4,302.2 Q625.65,300.9 623.35,299.45 M628.4,302.2 Q626.8,299.65 625.2,297 M628.4,302.2 Q625.65,301.9 623.25,301.45 M628.4,302.2 Q630.15,300.25 632.25,298.25 M628.4,302.2 Q629.5,299.1 630.88,296.38 M628.4,302.2 Q632.1,301.05 635.23,301.3 M628.4,302.2 Q630.95,303.8 633.27,305.8 M628.4,302.2 Q630,304.4 631.7,306.2 M628.4,302.2 Q626.65,303.8 624.8,305.27 M628.4,302.2 Q627.8,304.3 627,306.27 " fill="none" stroke="#1f3d1c" stroke-width="1.75" stroke-linecap="round"/><path d="M626.6,290.2 Q628.1,301.2 631,312.2" fill="none" stroke="#1f3d1c" stroke-width="1.7" stroke-linecap="round"/><path d="M627.4,295.7 Q628.2,301.7 629.8,307.7" fill="none" stroke="#1f3d1c" stroke-width="2.6" stroke-linecap="round"/><ellipse cx="628.4" cy="302.2" rx="2.3" ry="1.8" fill="#1f3d1c" transform="rotate(-20 628.4 302.2)"/><path d="M608.56,333.67 A7.04,7.04 0 0 1 600.8,344.87 A7.04,7.04 0 0 1 587.65,348.45 A7.04,7.04 0 0 1 575.28,342.75 A7.04,7.04 0 0 1 569.46,330.42 A7.04,7.04 0 0 1 572.93,317.25 A7.04,7.04 0 0 1 584.06,309.38 A7.04,7.04 0 0 1 597.64,310.51 A7.04,7.04 0 0 1 607.32,320.1 A7.04,7.04 0 0 1 608.56,333.67 Z" fill="#93c83e" stroke="#1a3f10" stroke-width="1.7" stroke-linejoin="round"/><path d="M589.3,328.6 Q583.8,326 580.1,322.8 M589.3,328.6 Q586.1,323.5 582.9,318 M589.3,328.6 Q583.8,328 579.7,326.8 M589.3,328.6 Q592.8,324.7 597.7,320.6 M589.3,328.6 Q591.5,322.4 594.8,317.7 M589.3,328.6 Q596.7,326.3 601.8,329.6 M589.3,328.6 Q594.4,331.8 598.6,336.6 M589.3,328.6 Q592.5,333 596.1,335.8 M589.3,328.6 Q585.8,331.8 581.9,334.5 M589.3,328.6 Q588.1,332.8 586.1,336.5 " fill="none" stroke="#1f3d1c" stroke-width="1.15" stroke-linecap="round"/><path d="M589.3,328.6 Q586.55,327.3 584.25,325.85 M589.3,328.6 Q587.7,326.05 586.1,323.4 M589.3,328.6 Q586.55,328.3 584.15,327.85 M589.3,328.6 Q591.05,326.65 593.15,324.65 M589.3,328.6 Q590.4,325.5 591.77,322.78 M589.3,328.6 Q593,327.45 596.12,327.7 M589.3,328.6 Q591.85,330.2 594.17,332.2 M589.3,328.6 Q590.9,330.8 592.6,332.6 M589.3,328.6 Q587.55,330.2 585.7,331.68 M589.3,328.6 Q588.7,330.7 587.9,332.68 " fill="none" stroke="#1f3d1c" stroke-width="1.75" stroke-linecap="round"/><path d="M587.5,316.6 Q589,327.6 591.9,338.6" fill="none" stroke="#1f3d1c" stroke-width="1.7" stroke-linecap="round"/><path d="M588.3,322.1 Q589.1,328.1 590.7,334.1" fill="none" stroke="#1f3d1c" stroke-width="2.6" stroke-linecap="round"/><ellipse cx="589.3" cy="328.6" rx="2.3" ry="1.8" fill="#1f3d1c" transform="rotate(-20 589.3 328.6)"/><path d="M817.04,101.36 A7.04,7.04 0 0 1 810.28,113.19 A7.04,7.04 0 0 1 797.5,117.92 A7.04,7.04 0 0 1 784.68,113.33 A7.04,7.04 0 0 1 777.8,101.56 A7.04,7.04 0 0 1 780.1,88.13 A7.04,7.04 0 0 1 790.49,79.32 A7.04,7.04 0 0 1 804.12,79.25 A7.04,7.04 0 0 1 814.6,87.95 A7.04,7.04 0 0 1 817.04,101.36 Z" fill="#93c83e" stroke="#1a3f10" stroke-width="1.7" stroke-linejoin="round"/><path d="M797.4,98 Q791.9,95.4 788.2,92.2 M797.4,98 Q794.2,92.9 791,87.4 M797.4,98 Q791.9,97.4 787.8,96.2 M797.4,98 Q800.9,94.1 805.8,90 M797.4,98 Q799.6,91.8 802.9,87.1 M797.4,98 Q804.8,95.7 809.9,99 M797.4,98 Q802.5,101.2 806.7,106 M797.4,98 Q800.6,102.4 804.2,105.2 M797.4,98 Q793.9,101.2 790,103.9 M797.4,98 Q796.2,102.2 794.2,105.9 " fill="none" stroke="#1f3d1c" stroke-width="1.15" stroke-linecap="round"/><path d="M797.4,98 Q794.65,96.7 792.35,95.25 M797.4,98 Q795.8,95.45 794.2,92.8 M797.4,98 Q794.65,97.7 792.25,97.25 M797.4,98 Q799.15,96.05 801.25,94.05 M797.4,98 Q798.5,94.9 799.88,92.17 M797.4,98 Q801.1,96.85 804.23,97.1 M797.4,98 Q799.95,99.6 802.27,101.6 M797.4,98 Q799,100.2 800.7,102 M797.4,98 Q795.65,99.6 793.8,101.08 M797.4,98 Q796.8,100.1 796,102.08 " fill="none" stroke="#1f3d1c" stroke-width="1.75" stroke-linecap="round"/><path d="M795.6,86 Q797.1,97 800,108" fill="none" stroke="#1f3d1c" stroke-width="1.7" stroke-linecap="round"/><path d="M796.4,91.5 Q797.2,97.5 798.8,103.5" fill="none" stroke="#1f3d1c" stroke-width="2.6" stroke-linecap="round"/><ellipse cx="797.4" cy="98" rx="2.3" ry="1.8" fill="#1f3d1c" transform="rotate(-20 797.4 98)"/><path d="M867.95,129.52 A7.04,7.04 0 0 1 862.27,141.9 A7.04,7.04 0 0 1 849.96,147.73 A7.04,7.04 0 0 1 836.77,144.29 A7.04,7.04 0 0 1 828.89,133.17 A7.04,7.04 0 0 1 830,119.59 A7.04,7.04 0 0 1 839.57,109.9 A7.04,7.04 0 0 1 853.14,108.63 A7.04,7.04 0 0 1 864.35,116.38 A7.04,7.04 0 0 1 867.95,129.52 Z" fill="#93c83e" stroke="#1a3f10" stroke-width="1.7" stroke-linejoin="round"/><path d="M848.1,127.9 Q842.6,125.3 838.9,122.1 M848.1,127.9 Q844.9,122.8 841.7,117.3 M848.1,127.9 Q842.6,127.3 838.5,126.1 M848.1,127.9 Q851.6,124 856.5,119.9 M848.1,127.9 Q850.3,121.7 853.6,117 M848.1,127.9 Q855.5,125.6 860.6,128.9 M848.1,127.9 Q853.2,131.1 857.4,135.9 M848.1,127.9 Q851.3,132.3 854.9,135.1 M848.1,127.9 Q844.6,131.1 840.7,133.8 M848.1,127.9 Q846.9,132.1 844.9,135.8 " fill="none" stroke="#1f3d1c" stroke-width="1.15" stroke-linecap="round"/><path d="M848.1,127.9 Q845.35,126.6 843.05,125.15 M848.1,127.9 Q846.5,125.35 844.9,122.7 M848.1,127.9 Q845.35,127.6 842.95,127.15 M848.1,127.9 Q849.85,125.95 851.95,123.95 M848.1,127.9 Q849.2,124.8 850.58,122.08 M848.1,127.9 Q851.8,126.75 854.93,127 M848.1,127.9 Q850.65,129.5 852.98,131.5 M848.1,127.9 Q849.7,130.1 851.4,131.9 M848.1,127.9 Q846.35,129.5 844.5,130.97 M848.1,127.9 Q847.5,130 846.7,131.97 " fill="none" stroke="#1f3d1c" stroke-width="1.75" stroke-linecap="round"/><path d="M846.3,115.9 Q847.8,126.9 850.7,137.9" fill="none" stroke="#1f3d1c" stroke-width="1.7" stroke-linecap="round"/><path d="M847.1,121.4 Q847.9,127.4 849.5,133.4" fill="none" stroke="#1f3d1c" stroke-width="2.6" stroke-linecap="round"/><ellipse cx="848.1" cy="127.9" rx="2.3" ry="1.8" fill="#1f3d1c" transform="rotate(-20 848.1 127.9)"/><path d="M772.83,81.11 A6.16,6.16 0 0 1 762.55,87.14 A6.16,6.16 0 0 1 750.79,85.15 A6.16,6.16 0 0 1 743.06,76.07 A6.16,6.16 0 0 1 742.98,64.15 A6.16,6.16 0 0 1 750.58,54.97 A6.16,6.16 0 0 1 762.31,52.81 A6.16,6.16 0 0 1 772.67,58.7 A6.16,6.16 0 0 1 776.83,69.88 A6.16,6.16 0 0 1 772.83,81.11 Z" fill="#93c83e" stroke="#1a3f10" stroke-width="1.7" stroke-linejoin="round"/><path d="M759.4,70 Q754.59,67.72 751.35,64.92 M759.4,70 Q756.6,65.54 753.8,60.73 M759.4,70 Q754.59,69.47 751,68.42 M759.4,70 Q762.46,66.59 766.75,63 M759.4,70 Q761.32,64.58 764.21,60.46 M759.4,70 Q765.88,67.99 770.34,70.88 M759.4,70 Q763.86,72.8 767.54,77 M759.4,70 Q762.2,73.85 765.35,76.3 M759.4,70 Q756.34,72.8 752.92,75.16 M759.4,70 Q758.35,73.67 756.6,76.91 " fill="none" stroke="#1f3d1c" stroke-width="1.01" stroke-linecap="round"/><path d="M759.4,70 Q756.99,68.86 754.98,67.59 M759.4,70 Q758,67.77 756.6,65.45 M759.4,70 Q756.99,69.74 754.89,69.34 M759.4,70 Q760.93,68.29 762.77,66.54 M759.4,70 Q760.36,67.29 761.57,64.9 M759.4,70 Q762.64,68.99 765.37,69.21 M759.4,70 Q761.63,71.4 763.67,73.15 M759.4,70 Q760.8,71.92 762.29,73.5 M759.4,70 Q757.87,71.4 756.25,72.69 M759.4,70 Q758.88,71.84 758.17,73.57 " fill="none" stroke="#1f3d1c" stroke-width="1.53" stroke-linecap="round"/><path d="M757.82,59.5 Q759.14,69.12 761.67,78.75" fill="none" stroke="#1f3d1c" stroke-width="1.49" stroke-linecap="round"/><path d="M758.52,64.31 Q759.23,69.56 760.62,74.81" fill="none" stroke="#1f3d1c" stroke-width="2.27" stroke-linecap="round"/><ellipse cx="759.4" cy="70" rx="2.01" ry="1.57" fill="#1f3d1c" transform="rotate(-20 759.4 70)"/><path d="M1254.88,139.79 A6.6,6.6 0 0 1 1244.47,147.2 A6.6,6.6 0 0 1 1231.74,146.19 A6.6,6.6 0 0 1 1222.64,137.22 A6.6,6.6 0 0 1 1221.42,124.51 A6.6,6.6 0 0 1 1228.67,113.99 A6.6,6.6 0 0 1 1240.98,110.58 A6.6,6.6 0 0 1 1252.6,115.89 A6.6,6.6 0 0 1 1258.09,127.43 A6.6,6.6 0 0 1 1254.88,139.79 Z" fill="#93c83e" stroke="#1a3f10" stroke-width="1.7" stroke-linejoin="round"/><path d="M1239.5,129.2 Q1234.34,126.76 1230.88,123.76 M1239.5,129.2 Q1236.5,124.42 1233.5,119.26 M1239.5,129.2 Q1234.34,128.64 1230.5,127.51 M1239.5,129.2 Q1242.78,125.54 1247.38,121.7 M1239.5,129.2 Q1241.56,123.39 1244.66,118.98 M1239.5,129.2 Q1246.44,127.04 1251.22,130.14 M1239.5,129.2 Q1244.28,132.2 1248.22,136.7 M1239.5,129.2 Q1242.5,133.32 1245.88,135.95 M1239.5,129.2 Q1236.22,132.2 1232.56,134.73 M1239.5,129.2 Q1238.38,133.14 1236.5,136.61 " fill="none" stroke="#1f3d1c" stroke-width="1.08" stroke-linecap="round"/><path d="M1239.5,129.2 Q1236.92,127.98 1234.77,126.62 M1239.5,129.2 Q1238,126.81 1236.5,124.32 M1239.5,129.2 Q1236.92,128.92 1234.67,128.5 M1239.5,129.2 Q1241.14,127.37 1243.11,125.5 M1239.5,129.2 Q1240.53,126.29 1241.82,123.74 M1239.5,129.2 Q1242.97,128.12 1245.9,128.36 M1239.5,129.2 Q1241.89,130.7 1244.07,132.57 M1239.5,129.2 Q1241,131.26 1242.59,132.95 M1239.5,129.2 Q1237.86,130.7 1236.12,132.08 M1239.5,129.2 Q1238.94,131.17 1238.19,133.02 " fill="none" stroke="#1f3d1c" stroke-width="1.64" stroke-linecap="round"/><path d="M1237.81,117.95 Q1239.22,128.26 1241.94,138.57" fill="none" stroke="#1f3d1c" stroke-width="1.59" stroke-linecap="round"/><path d="M1238.56,123.11 Q1239.31,128.73 1240.81,134.36" fill="none" stroke="#1f3d1c" stroke-width="2.44" stroke-linecap="round"/><ellipse cx="1239.5" cy="129.2" rx="2.16" ry="1.69" fill="#1f3d1c" transform="rotate(-20 1239.5 129.2)"/><path d="M1295.68,132.81 A6.89,6.89 0 0 1 1285.53,141.47 A6.89,6.89 0 0 1 1272.19,141.59 A6.89,6.89 0 0 1 1261.89,133.1 A6.89,6.89 0 0 1 1259.46,119.98 A6.89,6.89 0 0 1 1266.03,108.37 A6.89,6.89 0 0 1 1278.53,103.7 A6.89,6.89 0 0 1 1291.11,108.15 A6.89,6.89 0 0 1 1297.88,119.65 A6.89,6.89 0 0 1 1295.68,132.81 Z" fill="#93c83e" stroke="#1a3f10" stroke-width="1.7" stroke-linejoin="round"/><path d="M1278.7,123.2 Q1273.31,120.65 1269.69,117.52 M1278.7,123.2 Q1275.57,118.21 1272.43,112.82 M1278.7,123.2 Q1273.31,122.61 1269.3,121.44 M1278.7,123.2 Q1282.13,119.38 1286.92,115.37 M1278.7,123.2 Q1280.85,117.13 1284.09,112.53 M1278.7,123.2 Q1285.95,120.95 1290.94,124.18 M1278.7,123.2 Q1283.69,126.33 1287.81,131.03 M1278.7,123.2 Q1281.83,127.51 1285.36,130.25 M1278.7,123.2 Q1275.27,126.33 1271.45,128.98 M1278.7,123.2 Q1277.53,127.31 1275.57,130.94 " fill="none" stroke="#1f3d1c" stroke-width="1.13" stroke-linecap="round"/><path d="M1278.7,123.2 Q1276.01,121.93 1273.76,120.51 M1278.7,123.2 Q1277.13,120.7 1275.57,118.11 M1278.7,123.2 Q1276.01,122.91 1273.66,122.47 M1278.7,123.2 Q1280.41,121.29 1282.47,119.33 M1278.7,123.2 Q1279.78,120.16 1281.12,117.5 M1278.7,123.2 Q1282.32,122.07 1285.38,122.32 M1278.7,123.2 Q1281.2,124.77 1283.47,126.73 M1278.7,123.2 Q1280.27,125.35 1281.93,127.12 M1278.7,123.2 Q1276.99,124.77 1275.17,126.21 M1278.7,123.2 Q1278.11,125.26 1277.33,127.19 " fill="none" stroke="#1f3d1c" stroke-width="1.71" stroke-linecap="round"/><path d="M1276.94,111.45 Q1278.41,122.22 1281.25,132.99" fill="none" stroke="#1f3d1c" stroke-width="1.66" stroke-linecap="round"/><path d="M1277.72,116.84 Q1278.5,122.71 1280.07,128.59" fill="none" stroke="#1f3d1c" stroke-width="2.55" stroke-linecap="round"/><ellipse cx="1278.7" cy="123.2" rx="2.25" ry="1.76" fill="#1f3d1c" transform="rotate(-20 1278.7 123.2)"/><path d="M1385.83,113.11 A6.92,6.92 0 0 1 1376.45,122.67 A6.92,6.92 0 0 1 1363.11,123.97 A6.92,6.92 0 0 1 1352.06,116.39 A6.92,6.92 0 0 1 1348.47,103.48 A6.92,6.92 0 0 1 1354.02,91.28 A6.92,6.92 0 0 1 1366.11,85.5 A6.92,6.92 0 0 1 1379.08,88.85 A6.92,6.92 0 0 1 1386.87,99.75 A6.92,6.92 0 0 1 1385.83,113.11 Z" fill="#93c83e" stroke="#1a3f10" stroke-width="1.7" stroke-linejoin="round"/><path d="M1368,105 Q1362.59,102.44 1358.95,99.3 M1368,105 Q1364.85,99.98 1361.71,94.58 M1368,105 Q1362.59,104.41 1358.56,103.23 M1368,105 Q1371.44,101.17 1376.26,97.13 M1368,105 Q1370.16,98.9 1373.41,94.28 M1368,105 Q1375.28,102.74 1380.29,105.98 M1368,105 Q1373.02,108.15 1377.14,112.87 M1368,105 Q1371.15,109.33 1374.69,112.08 M1368,105 Q1364.56,108.15 1360.72,110.8 M1368,105 Q1366.82,109.13 1364.85,112.77 " fill="none" stroke="#1f3d1c" stroke-width="1.13" stroke-linecap="round"/><path d="M1368,105 Q1365.3,103.72 1363.03,102.3 M1368,105 Q1366.43,102.49 1364.85,99.89 M1368,105 Q1365.3,104.7 1362.94,104.26 M1368,105 Q1369.72,103.08 1371.79,101.12 M1368,105 Q1369.08,101.95 1370.43,99.27 M1368,105 Q1371.64,103.87 1374.71,104.11 M1368,105 Q1370.51,106.57 1372.79,108.54 M1368,105 Q1369.57,107.16 1371.24,108.93 M1368,105 Q1366.28,106.57 1364.46,108.02 M1368,105 Q1367.41,107.06 1366.62,109.01 " fill="none" stroke="#1f3d1c" stroke-width="1.72" stroke-linecap="round"/><path d="M1366.23,93.2 Q1367.7,104.02 1370.56,114.83" fill="none" stroke="#1f3d1c" stroke-width="1.67" stroke-linecap="round"/><path d="M1367.02,98.61 Q1367.8,104.51 1369.38,110.41" fill="none" stroke="#1f3d1c" stroke-width="2.56" stroke-linecap="round"/><ellipse cx="1368" cy="105" rx="2.26" ry="1.77" fill="#1f3d1c" transform="rotate(-20 1368 105)"/><path d="M1355.44,69.79 A6.16,6.16 0 0 1 1347.87,79 A6.16,6.16 0 0 1 1336.15,81.2 A6.16,6.16 0 0 1 1325.76,75.34 A6.16,6.16 0 0 1 1321.57,64.18 A6.16,6.16 0 0 1 1325.53,52.94 A6.16,6.16 0 0 1 1335.8,46.87 A6.16,6.16 0 0 1 1347.56,48.82 A6.16,6.16 0 0 1 1355.32,57.87 A6.16,6.16 0 0 1 1355.44,69.79 Z" fill="#93c83e" stroke="#1a3f10" stroke-width="1.7" stroke-linejoin="round"/><path d="M1339,64 Q1334.19,61.73 1330.95,58.92 M1339,64 Q1336.2,59.54 1333.4,54.73 M1339,64 Q1334.19,63.48 1330.6,62.42 M1339,64 Q1342.06,60.59 1346.35,57 M1339,64 Q1340.92,58.58 1343.81,54.46 M1339,64 Q1345.47,61.99 1349.94,64.88 M1339,64 Q1343.46,66.8 1347.14,71 M1339,64 Q1341.8,67.85 1344.95,70.3 M1339,64 Q1335.94,66.8 1332.53,69.16 M1339,64 Q1337.95,67.67 1336.2,70.91 " fill="none" stroke="#1f3d1c" stroke-width="1.01" stroke-linecap="round"/><path d="M1339,64 Q1336.59,62.86 1334.58,61.59 M1339,64 Q1337.6,61.77 1336.2,59.45 M1339,64 Q1336.59,63.74 1334.49,63.34 M1339,64 Q1340.53,62.29 1342.37,60.54 M1339,64 Q1339.96,61.29 1341.17,58.9 M1339,64 Q1342.24,62.99 1344.97,63.21 M1339,64 Q1341.23,65.4 1343.27,67.15 M1339,64 Q1340.4,65.92 1341.89,67.5 M1339,64 Q1337.47,65.4 1335.85,66.69 M1339,64 Q1338.47,65.84 1337.78,67.57 " fill="none" stroke="#1f3d1c" stroke-width="1.53" stroke-linecap="round"/><path d="M1337.42,53.5 Q1338.74,63.12 1341.28,72.75" fill="none" stroke="#1f3d1c" stroke-width="1.49" stroke-linecap="round"/><path d="M1338.12,58.31 Q1338.83,63.56 1340.22,68.81" fill="none" stroke="#1f3d1c" stroke-width="2.27" stroke-linecap="round"/><ellipse cx="1339" cy="64" rx="2.01" ry="1.57" fill="#1f3d1c" transform="rotate(-20 1339 64)"/><path d="M1464.29,297.32 A6.16,6.16 0 0 1 1457.56,307.16 A6.16,6.16 0 0 1 1446.08,310.38 A6.16,6.16 0 0 1 1435.21,305.46 A6.16,6.16 0 0 1 1430.05,294.71 A6.16,6.16 0 0 1 1433.01,283.16 A6.16,6.16 0 0 1 1442.7,276.22 A6.16,6.16 0 0 1 1454.59,277.12 A6.16,6.16 0 0 1 1463.11,285.46 A6.16,6.16 0 0 1 1464.29,297.32 Z" fill="#93c83e" stroke="#1a3f10" stroke-width="1.7" stroke-linejoin="round"/><path d="M1447.4,293 Q1442.59,290.73 1439.35,287.93 M1447.4,293 Q1444.6,288.54 1441.8,283.73 M1447.4,293 Q1442.59,292.48 1439,291.43 M1447.4,293 Q1450.46,289.59 1454.75,286 M1447.4,293 Q1449.33,287.57 1452.21,283.46 M1447.4,293 Q1453.88,290.99 1458.34,293.88 M1447.4,293 Q1451.86,295.8 1455.54,300 M1447.4,293 Q1450.2,296.85 1453.35,299.3 M1447.4,293 Q1444.34,295.8 1440.93,298.16 M1447.4,293 Q1446.35,296.68 1444.6,299.91 " fill="none" stroke="#1f3d1c" stroke-width="1.01" stroke-linecap="round"/><path d="M1447.4,293 Q1444.99,291.86 1442.98,290.59 M1447.4,293 Q1446,290.77 1444.6,288.45 M1447.4,293 Q1444.99,292.74 1442.89,292.34 M1447.4,293 Q1448.93,291.29 1450.77,289.54 M1447.4,293 Q1448.36,290.29 1449.57,287.9 M1447.4,293 Q1450.64,291.99 1453.37,292.21 M1447.4,293 Q1449.63,294.4 1451.67,296.15 M1447.4,293 Q1448.8,294.93 1450.29,296.5 M1447.4,293 Q1445.87,294.4 1444.25,295.69 M1447.4,293 Q1446.88,294.84 1446.18,296.57 " fill="none" stroke="#1f3d1c" stroke-width="1.53" stroke-linecap="round"/><path d="M1445.83,282.5 Q1447.14,292.12 1449.68,301.75" fill="none" stroke="#1f3d1c" stroke-width="1.49" stroke-linecap="round"/><path d="M1446.53,287.31 Q1447.23,292.56 1448.62,297.81" fill="none" stroke="#1f3d1c" stroke-width="2.27" stroke-linecap="round"/><ellipse cx="1447.4" cy="293" rx="2.01" ry="1.57" fill="#1f3d1c" transform="rotate(-20 1447.4 293)"/><path d="M1382.54,425.7 A9.82,9.82 0 0 1 1373.23,442.28 A9.82,9.82 0 0 1 1355.44,449 A9.82,9.82 0 0 1 1337.49,442.71 A9.82,9.82 0 0 1 1327.78,426.36 A9.82,9.82 0 0 1 1330.85,407.59 A9.82,9.82 0 0 1 1345.27,395.19 A9.82,9.82 0 0 1 1364.29,394.96 A9.82,9.82 0 0 1 1379.01,407.01 A9.82,9.82 0 0 1 1382.54,425.7 Z" fill="#93c83e" stroke="#1a3f10" stroke-width="1.7" stroke-linejoin="round"/><path d="M1355.1,421.2 Q1347.42,417.57 1342.26,413.1 M1355.1,421.2 Q1350.63,414.08 1346.17,406.4 M1355.1,421.2 Q1347.42,420.36 1341.7,418.69 M1355.1,421.2 Q1359.99,415.76 1366.82,410.03 M1355.1,421.2 Q1358.17,412.55 1362.78,405.99 M1355.1,421.2 Q1365.43,417.99 1372.55,422.6 M1355.1,421.2 Q1362.22,425.67 1368.08,432.37 M1355.1,421.2 Q1359.57,427.34 1364.59,431.25 M1355.1,421.2 Q1350.21,425.67 1344.77,429.44 M1355.1,421.2 Q1353.42,427.06 1350.63,432.23 " fill="none" stroke="#1f3d1c" stroke-width="1.61" stroke-linecap="round"/><path d="M1355.1,421.2 Q1351.26,419.39 1348.05,417.36 M1355.1,421.2 Q1352.87,417.64 1350.63,413.94 M1355.1,421.2 Q1351.26,420.78 1347.91,420.15 M1355.1,421.2 Q1357.54,418.48 1360.47,415.69 M1355.1,421.2 Q1356.64,416.87 1358.55,413.07 M1355.1,421.2 Q1360.26,419.59 1364.63,419.94 M1355.1,421.2 Q1358.66,423.43 1361.9,426.22 M1355.1,421.2 Q1357.33,424.27 1359.71,426.78 M1355.1,421.2 Q1352.66,423.43 1350.07,425.49 M1355.1,421.2 Q1354.26,424.13 1353.15,426.89 " fill="none" stroke="#1f3d1c" stroke-width="2.44" stroke-linecap="round"/><path d="M1352.59,404.45 Q1354.68,419.8 1358.73,435.16" fill="none" stroke="#1f3d1c" stroke-width="2.37" stroke-linecap="round"/><path d="M1353.7,412.13 Q1354.82,420.5 1357.05,428.88" fill="none" stroke="#1f3d1c" stroke-width="3.63" stroke-linecap="round"/><ellipse cx="1355.1" cy="421.2" rx="3.21" ry="2.51" fill="#1f3d1c" transform="rotate(-20 1355.1 421.2)"/><path d="M1461.79,508.06 A8.35,8.35 0 0 1 1455.14,522.81 A8.35,8.35 0 0 1 1440.57,529.84 A8.35,8.35 0 0 1 1424.88,525.85 A8.35,8.35 0 0 1 1415.43,512.72 A8.35,8.35 0 0 1 1416.63,496.58 A8.35,8.35 0 0 1 1427.93,484.99 A8.35,8.35 0 0 1 1444.03,483.37 A8.35,8.35 0 0 1 1457.4,492.48 A8.35,8.35 0 0 1 1461.79,508.06 Z" fill="#93c83e" stroke="#1a3f10" stroke-width="1.7" stroke-linejoin="round"/><path d="M1438.2,506.3 Q1431.67,503.21 1427.28,499.41 M1438.2,506.3 Q1434.4,500.24 1430.6,493.71 M1438.2,506.3 Q1431.67,505.59 1426.8,504.16 M1438.2,506.3 Q1442.36,501.67 1448.17,496.8 M1438.2,506.3 Q1440.81,498.94 1444.73,493.36 M1438.2,506.3 Q1446.99,503.57 1453.04,507.49 M1438.2,506.3 Q1444.26,510.1 1449.24,515.8 M1438.2,506.3 Q1442,511.53 1446.28,514.85 M1438.2,506.3 Q1434.04,510.1 1429.41,513.31 M1438.2,506.3 Q1436.78,511.29 1434.4,515.68 " fill="none" stroke="#1f3d1c" stroke-width="1.37" stroke-linecap="round"/><path d="M1438.2,506.3 Q1434.93,504.76 1432.2,503.03 M1438.2,506.3 Q1436.3,503.27 1434.4,500.12 M1438.2,506.3 Q1434.93,505.94 1432.08,505.41 M1438.2,506.3 Q1440.28,503.98 1442.77,501.61 M1438.2,506.3 Q1439.51,502.62 1441.14,499.38 M1438.2,506.3 Q1442.59,504.93 1446.3,505.23 M1438.2,506.3 Q1441.23,508.2 1443.99,510.57 M1438.2,506.3 Q1440.1,508.91 1442.12,511.05 M1438.2,506.3 Q1436.12,508.2 1433.92,509.95 M1438.2,506.3 Q1437.49,508.79 1436.54,511.14 " fill="none" stroke="#1f3d1c" stroke-width="2.08" stroke-linecap="round"/><path d="M1436.06,492.05 Q1437.84,505.11 1441.29,518.17" fill="none" stroke="#1f3d1c" stroke-width="2.02" stroke-linecap="round"/><path d="M1437.01,498.58 Q1437.96,505.71 1439.86,512.83" fill="none" stroke="#1f3d1c" stroke-width="3.09" stroke-linecap="round"/><ellipse cx="1438.2" cy="506.3" rx="2.73" ry="2.14" fill="#1f3d1c" transform="rotate(-20 1438.2 506.3)"/><path d="M1460.93,610.28 A6.3,6.3 0 0 1 1450.44,616.53 A6.3,6.3 0 0 1 1438.39,614.58 A6.3,6.3 0 0 1 1430.42,605.33 A6.3,6.3 0 0 1 1430.25,593.13 A6.3,6.3 0 0 1 1437.96,583.67 A6.3,6.3 0 0 1 1449.96,581.38 A6.3,6.3 0 0 1 1460.61,587.34 A6.3,6.3 0 0 1 1464.94,598.75 A6.3,6.3 0 0 1 1460.93,610.28 Z" fill="#93c83e" stroke="#1a3f10" stroke-width="1.7" stroke-linejoin="round"/><path d="M1447.1,599 Q1442.17,596.67 1438.86,593.8 M1447.1,599 Q1444.23,594.43 1441.37,589.5 M1447.1,599 Q1442.17,598.46 1438.5,597.39 M1447.1,599 Q1450.24,595.51 1454.62,591.83 M1447.1,599 Q1449.07,593.45 1452.03,589.24 M1447.1,599 Q1453.73,596.94 1458.3,599.9 M1447.1,599 Q1451.67,601.87 1455.43,606.17 M1447.1,599 Q1449.97,602.94 1453.19,605.45 M1447.1,599 Q1443.96,601.87 1440.47,604.29 M1447.1,599 Q1446.02,602.76 1444.23,606.08 " fill="none" stroke="#1f3d1c" stroke-width="1.03" stroke-linecap="round"/><path d="M1447.1,599 Q1444.64,597.84 1442.58,596.54 M1447.1,599 Q1445.67,596.72 1444.23,594.34 M1447.1,599 Q1444.64,598.73 1442.49,598.33 M1447.1,599 Q1448.67,597.25 1450.55,595.46 M1447.1,599 Q1448.09,596.22 1449.32,593.78 M1447.1,599 Q1450.41,597.97 1453.21,598.19 M1447.1,599 Q1449.38,600.43 1451.47,602.23 M1447.1,599 Q1448.53,600.97 1450.06,602.58 M1447.1,599 Q1445.53,600.43 1443.88,601.75 M1447.1,599 Q1446.56,600.88 1445.85,602.65 " fill="none" stroke="#1f3d1c" stroke-width="1.57" stroke-linecap="round"/><path d="M1445.49,588.25 Q1446.83,598.1 1449.43,607.96" fill="none" stroke="#1f3d1c" stroke-width="1.52" stroke-linecap="round"/><path d="M1446.2,593.18 Q1446.92,598.55 1448.35,603.93" fill="none" stroke="#1f3d1c" stroke-width="2.33" stroke-linecap="round"/><ellipse cx="1447.1" cy="599" rx="2.06" ry="1.61" fill="#1f3d1c" transform="rotate(-20 1447.1 599)"/><path d="M1388.41,666.61 A9.82,9.82 0 0 1 1372.99,677.75 A9.82,9.82 0 0 1 1354.02,676.37 A9.82,9.82 0 0 1 1340.38,663.12 A9.82,9.82 0 0 1 1338.44,644.2 A9.82,9.82 0 0 1 1349.12,628.46 A9.82,9.82 0 0 1 1367.42,623.27 A9.82,9.82 0 0 1 1384.77,631.05 A9.82,9.82 0 0 1 1393.06,648.17 A9.82,9.82 0 0 1 1388.41,666.61 Z" fill="#93c83e" stroke="#1a3f10" stroke-width="1.7" stroke-linejoin="round"/><path d="M1365.4,651 Q1357.72,647.37 1352.56,642.9 M1365.4,651 Q1360.93,643.88 1356.47,636.2 M1365.4,651 Q1357.72,650.16 1352,648.49 M1365.4,651 Q1370.29,645.56 1377.12,639.83 M1365.4,651 Q1368.47,642.35 1373.08,635.79 M1365.4,651 Q1375.73,647.79 1382.85,652.4 M1365.4,651 Q1372.52,655.47 1378.38,662.17 M1365.4,651 Q1369.87,657.14 1374.89,661.05 M1365.4,651 Q1360.51,655.47 1355.07,659.24 M1365.4,651 Q1363.73,656.86 1360.93,662.03 " fill="none" stroke="#1f3d1c" stroke-width="1.61" stroke-linecap="round"/><path d="M1365.4,651 Q1361.56,649.19 1358.35,647.16 M1365.4,651 Q1363.17,647.44 1360.93,643.74 M1365.4,651 Q1361.56,650.58 1358.21,649.95 M1365.4,651 Q1367.84,648.28 1370.77,645.49 M1365.4,651 Q1366.94,646.67 1368.85,642.87 M1365.4,651 Q1370.56,649.39 1374.93,649.74 M1365.4,651 Q1368.96,653.23 1372.2,656.02 M1365.4,651 Q1367.63,654.07 1370.01,656.58 M1365.4,651 Q1362.96,653.23 1360.38,655.29 M1365.4,651 Q1364.56,653.93 1363.45,656.69 " fill="none" stroke="#1f3d1c" stroke-width="2.44" stroke-linecap="round"/><path d="M1362.89,634.25 Q1364.98,649.6 1369.03,664.96" fill="none" stroke="#1f3d1c" stroke-width="2.37" stroke-linecap="round"/><path d="M1364,641.93 Q1365.12,650.3 1367.35,658.68" fill="none" stroke="#1f3d1c" stroke-width="3.63" stroke-linecap="round"/><ellipse cx="1365.4" cy="651" rx="3.21" ry="2.51" fill="#1f3d1c" transform="rotate(-20 1365.4 651)"/><path d="M1368.94,825.6 A8.06,8.06 0 0 1 1357.14,835.82 A8.06,8.06 0 0 1 1341.53,836.07 A8.06,8.06 0 0 1 1329.41,826.22 A8.06,8.06 0 0 1 1326.46,810.89 A8.06,8.06 0 0 1 1334.06,797.25 A8.06,8.06 0 0 1 1348.64,791.68 A8.06,8.06 0 0 1 1363.4,796.79 A8.06,8.06 0 0 1 1371.41,810.19 A8.06,8.06 0 0 1 1368.94,825.6 Z" fill="#93c83e" stroke="#1a3f10" stroke-width="1.7" stroke-linejoin="round"/><path d="M1349,814.5 Q1342.7,811.52 1338.46,807.85 M1349,814.5 Q1345.33,808.66 1341.67,802.35 M1349,814.5 Q1342.7,813.81 1338,812.44 M1349,814.5 Q1353.01,810.03 1358.62,805.33 M1349,814.5 Q1351.52,807.4 1355.3,802.01 M1349,814.5 Q1357.48,811.86 1363.32,815.65 M1349,814.5 Q1354.84,818.17 1359.66,823.67 M1349,814.5 Q1352.67,819.54 1356.79,822.75 M1349,814.5 Q1344.99,818.17 1340.52,821.26 M1349,814.5 Q1347.62,819.31 1345.33,823.55 " fill="none" stroke="#1f3d1c" stroke-width="1.32" stroke-linecap="round"/><path d="M1349,814.5 Q1345.85,813.01 1343.21,811.35 M1349,814.5 Q1347.17,811.58 1345.33,808.54 M1349,814.5 Q1345.85,814.16 1343.1,813.64 M1349,814.5 Q1351.01,812.27 1353.41,809.97 M1349,814.5 Q1350.26,810.95 1351.84,807.83 M1349,814.5 Q1353.24,813.18 1356.82,813.47 M1349,814.5 Q1351.92,816.33 1354.59,818.62 M1349,814.5 Q1350.83,817.02 1352.78,819.08 M1349,814.5 Q1346.99,816.33 1344.88,818.02 M1349,814.5 Q1348.31,816.91 1347.4,819.17 " fill="none" stroke="#1f3d1c" stroke-width="2.01" stroke-linecap="round"/><path d="M1346.94,800.75 Q1348.66,813.35 1351.98,825.96" fill="none" stroke="#1f3d1c" stroke-width="1.95" stroke-linecap="round"/><path d="M1347.85,807.05 Q1348.77,813.93 1350.6,820.8" fill="none" stroke="#1f3d1c" stroke-width="2.98" stroke-linecap="round"/><ellipse cx="1349" cy="814.5" rx="2.64" ry="2.06" fill="#1f3d1c" transform="rotate(-20 1349 814.5)"/><path d="M1432.24,822.3 A8.06,8.06 0 0 1 1421.39,833.53 A8.06,8.06 0 0 1 1405.86,835.14 A8.06,8.06 0 0 1 1392.92,826.4 A8.06,8.06 0 0 1 1388.63,811.38 A8.06,8.06 0 0 1 1395,797.13 A8.06,8.06 0 0 1 1409.04,790.3 A8.06,8.06 0 0 1 1424.18,794.09 A8.06,8.06 0 0 1 1433.35,806.73 A8.06,8.06 0 0 1 1432.24,822.3 Z" fill="#93c83e" stroke="#1a3f10" stroke-width="1.7" stroke-linejoin="round"/><path d="M1411.4,813 Q1405.1,810.02 1400.86,806.35 M1411.4,813 Q1407.73,807.16 1404.07,800.85 M1411.4,813 Q1405.1,812.31 1400.4,810.94 M1411.4,813 Q1415.41,808.53 1421.03,803.83 M1411.4,813 Q1413.92,805.9 1417.7,800.51 M1411.4,813 Q1419.88,810.36 1425.72,814.15 M1411.4,813 Q1417.24,816.67 1422.06,822.17 M1411.4,813 Q1415.07,818.04 1419.19,821.25 M1411.4,813 Q1407.39,816.67 1402.92,819.76 M1411.4,813 Q1410.03,817.81 1407.73,822.05 " fill="none" stroke="#1f3d1c" stroke-width="1.32" stroke-linecap="round"/><path d="M1411.4,813 Q1408.25,811.51 1405.61,809.85 M1411.4,813 Q1409.57,810.08 1407.73,807.04 M1411.4,813 Q1408.25,812.66 1405.5,812.14 M1411.4,813 Q1413.41,810.77 1415.81,808.47 M1411.4,813 Q1412.66,809.45 1414.24,806.33 M1411.4,813 Q1415.64,811.68 1419.22,811.97 M1411.4,813 Q1414.32,814.83 1416.99,817.12 M1411.4,813 Q1413.23,815.52 1415.18,817.58 M1411.4,813 Q1409.39,814.83 1407.28,816.52 M1411.4,813 Q1410.71,815.41 1409.8,817.67 " fill="none" stroke="#1f3d1c" stroke-width="2.01" stroke-linecap="round"/><path d="M1409.34,799.25 Q1411.06,811.85 1414.38,824.46" fill="none" stroke="#1f3d1c" stroke-width="1.95" stroke-linecap="round"/><path d="M1410.25,805.55 Q1411.17,812.43 1413,819.3" fill="none" stroke="#1f3d1c" stroke-width="2.98" stroke-linecap="round"/><ellipse cx="1411.4" cy="813" rx="2.64" ry="2.06" fill="#1f3d1c" transform="rotate(-20 1411.4 813)"/><path d="M1360.18,865.03 A8.06,8.06 0 0 1 1350.35,877.17 A8.06,8.06 0 0 1 1335.03,880.14 A8.06,8.06 0 0 1 1321.37,872.57 A8.06,8.06 0 0 1 1315.78,857.99 A8.06,8.06 0 0 1 1320.86,843.23 A8.06,8.06 0 0 1 1334.25,835.19 A8.06,8.06 0 0 1 1349.67,837.64 A8.06,8.06 0 0 1 1359.91,849.42 A8.06,8.06 0 0 1 1360.18,865.03 Z" fill="#93c83e" stroke="#1a3f10" stroke-width="1.7" stroke-linejoin="round"/><path d="M1338.6,857.6 Q1332.3,854.62 1328.06,850.95 M1338.6,857.6 Q1334.93,851.76 1331.27,845.45 M1338.6,857.6 Q1332.3,856.91 1327.6,855.54 M1338.6,857.6 Q1342.61,853.13 1348.22,848.43 M1338.6,857.6 Q1341.12,850.5 1344.9,845.11 M1338.6,857.6 Q1347.08,854.96 1352.92,858.75 M1338.6,857.6 Q1344.44,861.27 1349.26,866.77 M1338.6,857.6 Q1342.27,862.64 1346.39,865.85 M1338.6,857.6 Q1334.59,861.27 1330.12,864.36 M1338.6,857.6 Q1337.22,862.41 1334.93,866.65 " fill="none" stroke="#1f3d1c" stroke-width="1.32" stroke-linecap="round"/><path d="M1338.6,857.6 Q1335.45,856.11 1332.81,854.45 M1338.6,857.6 Q1336.77,854.68 1334.93,851.64 M1338.6,857.6 Q1335.45,857.26 1332.7,856.74 M1338.6,857.6 Q1340.61,855.37 1343.01,853.07 M1338.6,857.6 Q1339.86,854.05 1341.44,850.93 M1338.6,857.6 Q1342.84,856.28 1346.42,856.57 M1338.6,857.6 Q1341.52,859.43 1344.19,861.73 M1338.6,857.6 Q1340.43,860.12 1342.38,862.18 M1338.6,857.6 Q1336.59,859.43 1334.47,861.12 M1338.6,857.6 Q1337.91,860.01 1337,862.27 " fill="none" stroke="#1f3d1c" stroke-width="2.01" stroke-linecap="round"/><path d="M1336.54,843.85 Q1338.26,856.45 1341.58,869.06" fill="none" stroke="#1f3d1c" stroke-width="1.95" stroke-linecap="round"/><path d="M1337.45,850.15 Q1338.37,857.03 1340.2,863.9" fill="none" stroke="#1f3d1c" stroke-width="2.98" stroke-linecap="round"/><ellipse cx="1338.6" cy="857.6" rx="2.64" ry="2.06" fill="#1f3d1c" transform="rotate(-20 1338.6 857.6)"/><path d="M1359.25,913.61 A8.06,8.06 0 0 1 1350.53,926.56 A8.06,8.06 0 0 1 1335.52,930.87 A8.06,8.06 0 0 1 1321.26,924.53 A8.06,8.06 0 0 1 1314.4,910.5 A8.06,8.06 0 0 1 1318.17,895.35 A8.06,8.06 0 0 1 1330.79,886.16 A8.06,8.06 0 0 1 1346.37,887.24 A8.06,8.06 0 0 1 1357.61,898.08 A8.06,8.06 0 0 1 1359.25,913.61 Z" fill="#93c83e" stroke="#1a3f10" stroke-width="1.7" stroke-linejoin="round"/><path d="M1337.1,908.1 Q1330.8,905.12 1326.56,901.45 M1337.1,908.1 Q1333.43,902.26 1329.77,895.95 M1337.1,908.1 Q1330.8,907.41 1326.1,906.04 M1337.1,908.1 Q1341.11,903.63 1346.72,898.93 M1337.1,908.1 Q1339.62,901 1343.4,895.61 M1337.1,908.1 Q1345.58,905.46 1351.42,909.25 M1337.1,908.1 Q1342.94,911.77 1347.76,917.27 M1337.1,908.1 Q1340.77,913.14 1344.89,916.35 M1337.1,908.1 Q1333.09,911.77 1328.62,914.86 M1337.1,908.1 Q1335.72,912.91 1333.43,917.15 " fill="none" stroke="#1f3d1c" stroke-width="1.32" stroke-linecap="round"/><path d="M1337.1,908.1 Q1333.95,906.61 1331.31,904.95 M1337.1,908.1 Q1335.27,905.18 1333.43,902.14 M1337.1,908.1 Q1333.95,907.76 1331.2,907.24 M1337.1,908.1 Q1339.11,905.87 1341.51,903.57 M1337.1,908.1 Q1338.36,904.55 1339.94,901.43 M1337.1,908.1 Q1341.34,906.78 1344.92,907.07 M1337.1,908.1 Q1340.02,909.93 1342.69,912.23 M1337.1,908.1 Q1338.93,910.62 1340.88,912.68 M1337.1,908.1 Q1335.09,909.93 1332.97,911.62 M1337.1,908.1 Q1336.41,910.51 1335.5,912.77 " fill="none" stroke="#1f3d1c" stroke-width="2.01" stroke-linecap="round"/><path d="M1335.04,894.35 Q1336.76,906.95 1340.08,919.56" fill="none" stroke="#1f3d1c" stroke-width="1.95" stroke-linecap="round"/><path d="M1335.95,900.65 Q1336.87,907.53 1338.7,914.4" fill="none" stroke="#1f3d1c" stroke-width="2.98" stroke-linecap="round"/><ellipse cx="1337.1" cy="908.1" rx="2.64" ry="2.06" fill="#1f3d1c" transform="rotate(-20 1337.1 908.1)"/><path d="M1356.15,1003.43 A8.06,8.06 0 0 1 1348.6,1017.1 A8.06,8.06 0 0 1 1334.03,1022.72 A8.06,8.06 0 0 1 1319.26,1017.66 A8.06,8.06 0 0 1 1311.2,1004.29 A8.06,8.06 0 0 1 1313.62,988.87 A8.06,8.06 0 0 1 1325.39,978.6 A8.06,8.06 0 0 1 1341,978.31 A8.06,8.06 0 0 1 1353.15,988.11 A8.06,8.06 0 0 1 1356.15,1003.43 Z" fill="#93c83e" stroke="#1a3f10" stroke-width="1.7" stroke-linejoin="round"/><path d="M1333.6,999.9 Q1327.3,996.92 1323.06,993.25 M1333.6,999.9 Q1329.93,994.06 1326.27,987.75 M1333.6,999.9 Q1327.3,999.21 1322.6,997.84 M1333.6,999.9 Q1337.61,995.43 1343.22,990.73 M1333.6,999.9 Q1336.12,992.8 1339.9,987.41 M1333.6,999.9 Q1342.08,997.26 1347.92,1001.05 M1333.6,999.9 Q1339.44,1003.57 1344.26,1009.07 M1333.6,999.9 Q1337.27,1004.94 1341.39,1008.15 M1333.6,999.9 Q1329.59,1003.57 1325.12,1006.66 M1333.6,999.9 Q1332.22,1004.71 1329.93,1008.95 " fill="none" stroke="#1f3d1c" stroke-width="1.32" stroke-linecap="round"/><path d="M1333.6,999.9 Q1330.45,998.41 1327.81,996.75 M1333.6,999.9 Q1331.77,996.98 1329.93,993.94 M1333.6,999.9 Q1330.45,999.56 1327.7,999.04 M1333.6,999.9 Q1335.61,997.67 1338.01,995.37 M1333.6,999.9 Q1334.86,996.35 1336.44,993.23 M1333.6,999.9 Q1337.84,998.58 1341.42,998.87 M1333.6,999.9 Q1336.52,1001.73 1339.19,1004.02 M1333.6,999.9 Q1335.43,1002.42 1337.38,1004.48 M1333.6,999.9 Q1331.59,1001.73 1329.47,1003.42 M1333.6,999.9 Q1332.91,1002.31 1332,1004.57 " fill="none" stroke="#1f3d1c" stroke-width="2.01" stroke-linecap="round"/><path d="M1331.54,986.15 Q1333.26,998.75 1336.58,1011.36" fill="none" stroke="#1f3d1c" stroke-width="1.95" stroke-linecap="round"/><path d="M1332.45,992.45 Q1333.37,999.33 1335.2,1006.2" fill="none" stroke="#1f3d1c" stroke-width="2.98" stroke-linecap="round"/><ellipse cx="1333.6" cy="999.9" rx="2.64" ry="2.06" fill="#1f3d1c" transform="rotate(-20 1333.6 999.9)"/><path d="M1365.47,1083.74 A8.06,8.06 0 0 1 1359.16,1098.02 A8.06,8.06 0 0 1 1345.14,1104.89 A8.06,8.06 0 0 1 1329.98,1101.15 A8.06,8.06 0 0 1 1320.77,1088.55 A8.06,8.06 0 0 1 1321.83,1072.97 A8.06,8.06 0 0 1 1332.64,1061.71 A8.06,8.06 0 0 1 1348.17,1060.04 A8.06,8.06 0 0 1 1361.13,1068.74 A8.06,8.06 0 0 1 1365.47,1083.74 Z" fill="#93c83e" stroke="#1a3f10" stroke-width="1.7" stroke-linejoin="round"/><path d="M1342.7,1082.2 Q1336.4,1079.22 1332.16,1075.55 M1342.7,1082.2 Q1339.03,1076.36 1335.37,1070.05 M1342.7,1082.2 Q1336.4,1081.51 1331.7,1080.14 M1342.7,1082.2 Q1346.71,1077.73 1352.33,1073.03 M1342.7,1082.2 Q1345.22,1075.1 1349,1069.71 M1342.7,1082.2 Q1351.18,1079.56 1357.02,1083.35 M1342.7,1082.2 Q1348.54,1085.87 1353.36,1091.37 M1342.7,1082.2 Q1346.37,1087.24 1350.49,1090.45 M1342.7,1082.2 Q1338.69,1085.87 1334.22,1088.96 M1342.7,1082.2 Q1341.33,1087.01 1339.03,1091.25 " fill="none" stroke="#1f3d1c" stroke-width="1.32" stroke-linecap="round"/><path d="M1342.7,1082.2 Q1339.55,1080.71 1336.91,1079.05 M1342.7,1082.2 Q1340.87,1079.28 1339.03,1076.24 M1342.7,1082.2 Q1339.55,1081.86 1336.8,1081.34 M1342.7,1082.2 Q1344.71,1079.97 1347.11,1077.67 M1342.7,1082.2 Q1343.96,1078.65 1345.54,1075.53 M1342.7,1082.2 Q1346.94,1080.88 1350.52,1081.17 M1342.7,1082.2 Q1345.62,1084.03 1348.29,1086.33 M1342.7,1082.2 Q1344.53,1084.72 1346.48,1086.78 M1342.7,1082.2 Q1340.69,1084.03 1338.58,1085.72 M1342.7,1082.2 Q1342.01,1084.61 1341.1,1086.87 " fill="none" stroke="#1f3d1c" stroke-width="2.01" stroke-linecap="round"/><path d="M1340.64,1068.45 Q1342.36,1081.05 1345.68,1093.66" fill="none" stroke="#1f3d1c" stroke-width="1.95" stroke-linecap="round"/><path d="M1341.55,1074.75 Q1342.47,1081.63 1344.3,1088.5" fill="none" stroke="#1f3d1c" stroke-width="2.98" stroke-linecap="round"/><ellipse cx="1342.7" cy="1082.2" rx="2.64" ry="2.06" fill="#1f3d1c" transform="rotate(-20 1342.7 1082.2)"/><path d="M1359.59,1140.31 A8.06,8.06 0 0 1 1346.23,1148.39 A8.06,8.06 0 0 1 1330.8,1146 A8.06,8.06 0 0 1 1320.52,1134.25 A8.06,8.06 0 0 1 1320.19,1118.64 A8.06,8.06 0 0 1 1329.98,1106.47 A8.06,8.06 0 0 1 1345.3,1103.44 A8.06,8.06 0 0 1 1358.98,1110.97 A8.06,8.06 0 0 1 1364.62,1125.53 A8.06,8.06 0 0 1 1359.59,1140.31 Z" fill="#93c83e" stroke="#1a3f10" stroke-width="1.7" stroke-linejoin="round"/><path d="M1341.8,1126 Q1335.5,1123.02 1331.26,1119.35 M1341.8,1126 Q1338.13,1120.16 1334.47,1113.85 M1341.8,1126 Q1335.5,1125.31 1330.8,1123.94 M1341.8,1126 Q1345.81,1121.53 1351.42,1116.83 M1341.8,1126 Q1344.32,1118.9 1348.1,1113.51 M1341.8,1126 Q1350.28,1123.36 1356.12,1127.15 M1341.8,1126 Q1347.64,1129.67 1352.46,1135.17 M1341.8,1126 Q1345.47,1131.04 1349.59,1134.25 M1341.8,1126 Q1337.79,1129.67 1333.32,1132.76 M1341.8,1126 Q1340.42,1130.81 1338.13,1135.05 " fill="none" stroke="#1f3d1c" stroke-width="1.32" stroke-linecap="round"/><path d="M1341.8,1126 Q1338.65,1124.51 1336.01,1122.85 M1341.8,1126 Q1339.97,1123.08 1338.13,1120.04 M1341.8,1126 Q1338.65,1125.66 1335.9,1125.14 M1341.8,1126 Q1343.81,1123.77 1346.21,1121.47 M1341.8,1126 Q1343.06,1122.45 1344.64,1119.33 M1341.8,1126 Q1346.04,1124.68 1349.62,1124.97 M1341.8,1126 Q1344.72,1127.83 1347.39,1130.12 M1341.8,1126 Q1343.63,1128.52 1345.58,1130.58 M1341.8,1126 Q1339.79,1127.83 1337.67,1129.52 M1341.8,1126 Q1341.11,1128.41 1340.2,1130.67 " fill="none" stroke="#1f3d1c" stroke-width="2.01" stroke-linecap="round"/><path d="M1339.74,1112.25 Q1341.46,1124.85 1344.78,1137.46" fill="none" stroke="#1f3d1c" stroke-width="1.95" stroke-linecap="round"/><path d="M1340.65,1118.55 Q1341.57,1125.43 1343.4,1132.3" fill="none" stroke="#1f3d1c" stroke-width="2.98" stroke-linecap="round"/><ellipse cx="1341.8" cy="1126" rx="2.64" ry="2.06" fill="#1f3d1c" transform="rotate(-20 1341.8 1126)"/><path d="M817.12,1246.14 A6.89,6.89 0 0 1 806.35,1254.03 A6.89,6.89 0 0 1 793.04,1253.15 A6.89,6.89 0 0 1 783.4,1243.92 A6.89,6.89 0 0 1 781.95,1230.66 A6.89,6.89 0 0 1 789.37,1219.57 A6.89,6.89 0 0 1 802.18,1215.84 A6.89,6.89 0 0 1 814.39,1221.21 A6.89,6.89 0 0 1 820.29,1233.18 A6.89,6.89 0 0 1 817.12,1246.14 Z" fill="#93c83e" stroke="#1a3f10" stroke-width="1.7" stroke-linejoin="round"/><path d="M800.9,1235.3 Q795.51,1232.75 791.89,1229.62 M800.9,1235.3 Q797.77,1230.31 794.63,1224.92 M800.9,1235.3 Q795.51,1234.71 791.5,1233.54 M800.9,1235.3 Q804.33,1231.48 809.12,1227.47 M800.9,1235.3 Q803.05,1229.23 806.29,1224.63 M800.9,1235.3 Q808.15,1233.05 813.14,1236.28 M800.9,1235.3 Q805.89,1238.43 810.01,1243.13 M800.9,1235.3 Q804.03,1239.61 807.56,1242.35 M800.9,1235.3 Q797.47,1238.43 793.65,1241.08 M800.9,1235.3 Q799.73,1239.41 797.77,1243.04 " fill="none" stroke="#1f3d1c" stroke-width="1.13" stroke-linecap="round"/><path d="M800.9,1235.3 Q798.21,1234.03 795.96,1232.61 M800.9,1235.3 Q799.33,1232.8 797.77,1230.21 M800.9,1235.3 Q798.21,1235.01 795.86,1234.57 M800.9,1235.3 Q802.61,1233.39 804.67,1231.43 M800.9,1235.3 Q801.98,1232.26 803.32,1229.6 M800.9,1235.3 Q804.52,1234.17 807.58,1234.42 M800.9,1235.3 Q803.4,1236.87 805.67,1238.83 M800.9,1235.3 Q802.47,1237.45 804.13,1239.22 M800.9,1235.3 Q799.19,1236.87 797.38,1238.31 M800.9,1235.3 Q800.31,1237.36 799.53,1239.29 " fill="none" stroke="#1f3d1c" stroke-width="1.71" stroke-linecap="round"/><path d="M799.14,1223.55 Q800.61,1234.32 803.45,1245.09" fill="none" stroke="#1f3d1c" stroke-width="1.66" stroke-linecap="round"/><path d="M799.92,1228.94 Q800.7,1234.81 802.27,1240.69" fill="none" stroke="#1f3d1c" stroke-width="2.55" stroke-linecap="round"/><ellipse cx="800.9" cy="1235.3" rx="2.25" ry="1.76" fill="#1f3d1c" transform="rotate(-20 800.9 1235.3)"/><path d="M848.74,1258.67 A6.74,6.74 0 0 1 838.93,1267.29 A6.74,6.74 0 0 1 825.88,1267.58 A6.74,6.74 0 0 1 815.69,1259.41 A6.74,6.74 0 0 1 813.13,1246.61 A6.74,6.74 0 0 1 819.4,1235.16 A6.74,6.74 0 0 1 831.57,1230.41 A6.74,6.74 0 0 1 843.94,1234.6 A6.74,6.74 0 0 1 850.72,1245.76 A6.74,6.74 0 0 1 848.74,1258.67 Z" fill="#93c83e" stroke="#1a3f10" stroke-width="1.7" stroke-linejoin="round"/><path d="M832,1249.5 Q826.73,1247.01 823.18,1243.94 M832,1249.5 Q828.93,1244.61 825.87,1239.34 M832,1249.5 Q826.73,1248.92 822.8,1247.78 M832,1249.5 Q835.35,1245.76 840.05,1241.83 M832,1249.5 Q834.11,1243.56 837.27,1239.05 M832,1249.5 Q839.09,1247.3 843.98,1250.46 M832,1249.5 Q836.89,1252.57 840.91,1257.17 M832,1249.5 Q835.07,1253.72 838.52,1256.4 M832,1249.5 Q828.65,1252.57 824.91,1255.15 M832,1249.5 Q830.85,1253.53 828.93,1257.07 " fill="none" stroke="#1f3d1c" stroke-width="1.1" stroke-linecap="round"/><path d="M832,1249.5 Q829.36,1248.25 827.16,1246.86 M832,1249.5 Q830.47,1247.06 828.93,1244.52 M832,1249.5 Q829.36,1249.21 827.06,1248.78 M832,1249.5 Q833.68,1247.63 835.69,1245.71 M832,1249.5 Q833.05,1246.53 834.37,1243.92 M832,1249.5 Q835.55,1248.4 838.54,1248.64 M832,1249.5 Q834.44,1251.03 836.67,1252.95 M832,1249.5 Q833.53,1251.61 835.16,1253.33 M832,1249.5 Q830.32,1251.03 828.55,1252.45 M832,1249.5 Q831.42,1251.51 830.66,1253.41 " fill="none" stroke="#1f3d1c" stroke-width="1.68" stroke-linecap="round"/><path d="M830.27,1238 Q831.71,1248.54 834.49,1259.08" fill="none" stroke="#1f3d1c" stroke-width="1.63" stroke-linecap="round"/><path d="M831.04,1243.27 Q831.81,1249.02 833.34,1254.77" fill="none" stroke="#1f3d1c" stroke-width="2.49" stroke-linecap="round"/><ellipse cx="832" cy="1249.5" rx="2.2" ry="1.73" fill="#1f3d1c" transform="rotate(-20 832 1249.5)"/><path d="M956.69,1274.33 A8.21,8.21 0 0 1 945.71,1285.83 A8.21,8.21 0 0 1 929.91,1287.58 A8.21,8.21 0 0 1 916.68,1278.77 A8.21,8.21 0 0 1 912.21,1263.52 A8.21,8.21 0 0 1 918.59,1248.96 A8.21,8.21 0 0 1 932.83,1241.9 A8.21,8.21 0 0 1 948.28,1245.66 A8.21,8.21 0 0 1 957.7,1258.46 A8.21,8.21 0 0 1 956.69,1274.33 Z" fill="#93c83e" stroke="#1a3f10" stroke-width="1.7" stroke-linejoin="round"/><path d="M935.4,1265 Q928.98,1261.97 924.67,1258.23 M935.4,1265 Q931.67,1259.05 927.93,1252.63 M935.4,1265 Q928.98,1264.3 924.2,1262.9 M935.4,1265 Q939.48,1260.45 945.2,1255.67 M935.4,1265 Q937.97,1257.77 941.82,1252.28 M935.4,1265 Q944.03,1262.32 949.98,1266.17 M935.4,1265 Q941.35,1268.73 946.25,1274.33 M935.4,1265 Q939.13,1270.13 943.33,1273.4 M935.4,1265 Q931.32,1268.73 926.77,1271.88 M935.4,1265 Q934,1269.9 931.67,1274.22 " fill="none" stroke="#1f3d1c" stroke-width="1.34" stroke-linecap="round"/><path d="M935.4,1265 Q932.19,1263.48 929.51,1261.79 M935.4,1265 Q933.53,1262.03 931.67,1258.93 M935.4,1265 Q932.19,1264.65 929.39,1264.12 M935.4,1265 Q937.44,1262.72 939.89,1260.39 M935.4,1265 Q936.68,1261.38 938.29,1258.2 M935.4,1265 Q939.72,1263.66 943.36,1263.95 M935.4,1265 Q938.38,1266.87 941.09,1269.2 M935.4,1265 Q937.27,1267.57 939.25,1269.67 M935.4,1265 Q933.36,1266.87 931.2,1268.59 M935.4,1265 Q934.7,1267.45 933.77,1269.75 " fill="none" stroke="#1f3d1c" stroke-width="2.04" stroke-linecap="round"/><path d="M933.3,1251 Q935.05,1263.83 938.43,1276.67" fill="none" stroke="#1f3d1c" stroke-width="1.98" stroke-linecap="round"/><path d="M934.23,1257.42 Q935.17,1264.42 937.03,1271.42" fill="none" stroke="#1f3d1c" stroke-width="3.03" stroke-linecap="round"/><ellipse cx="935.4" cy="1265" rx="2.68" ry="2.1" fill="#1f3d1c" transform="rotate(-20 935.4 1265)"/><path d="M1011.22,1259.72 A8.21,8.21 0 0 1 1001.3,1272.14 A8.21,8.21 0 0 1 985.72,1275.28 A8.21,8.21 0 0 1 971.76,1267.67 A8.21,8.21 0 0 1 965.97,1252.86 A8.21,8.21 0 0 1 971.04,1237.8 A8.21,8.21 0 0 1 984.61,1229.52 A8.21,8.21 0 0 1 1000.33,1231.9 A8.21,8.21 0 0 1 1010.84,1243.82 A8.21,8.21 0 0 1 1011.22,1259.72 Z" fill="#93c83e" stroke="#1a3f10" stroke-width="1.7" stroke-linejoin="round"/><path d="M989.2,1252.3 Q982.78,1249.27 978.47,1245.53 M989.2,1252.3 Q985.47,1246.35 981.73,1239.93 M989.2,1252.3 Q982.78,1251.6 978,1250.2 M989.2,1252.3 Q993.28,1247.75 999,1242.97 M989.2,1252.3 Q991.77,1245.07 995.62,1239.58 M989.2,1252.3 Q997.83,1249.62 1003.78,1253.47 M989.2,1252.3 Q995.15,1256.03 1000.05,1261.63 M989.2,1252.3 Q992.93,1257.43 997.13,1260.7 M989.2,1252.3 Q985.12,1256.03 980.57,1259.18 M989.2,1252.3 Q987.8,1257.2 985.47,1261.52 " fill="none" stroke="#1f3d1c" stroke-width="1.34" stroke-linecap="round"/><path d="M989.2,1252.3 Q985.99,1250.78 983.31,1249.09 M989.2,1252.3 Q987.33,1249.33 985.47,1246.23 M989.2,1252.3 Q985.99,1251.95 983.19,1251.42 M989.2,1252.3 Q991.24,1250.02 993.69,1247.69 M989.2,1252.3 Q990.48,1248.68 992.09,1245.5 M989.2,1252.3 Q993.52,1250.96 997.16,1251.25 M989.2,1252.3 Q992.18,1254.17 994.89,1256.5 M989.2,1252.3 Q991.07,1254.87 993.05,1256.97 M989.2,1252.3 Q987.16,1254.17 985,1255.89 M989.2,1252.3 Q988.5,1254.75 987.57,1257.05 " fill="none" stroke="#1f3d1c" stroke-width="2.04" stroke-linecap="round"/><path d="M987.1,1238.3 Q988.85,1251.13 992.23,1263.97" fill="none" stroke="#1f3d1c" stroke-width="1.98" stroke-linecap="round"/><path d="M988.03,1244.72 Q988.97,1251.72 990.83,1258.72" fill="none" stroke="#1f3d1c" stroke-width="3.03" stroke-linecap="round"/><ellipse cx="989.2" cy="1252.3" rx="2.68" ry="2.1" fill="#1f3d1c" transform="rotate(-20 989.2 1252.3)"/><path d="M1242.59,1250.65 A8.21,8.21 0 0 1 1233.8,1263.9 A8.21,8.21 0 0 1 1218.56,1268.4 A8.21,8.21 0 0 1 1203.98,1262.04 A8.21,8.21 0 0 1 1196.91,1247.81 A8.21,8.21 0 0 1 1200.63,1232.35 A8.21,8.21 0 0 1 1213.42,1222.91 A8.21,8.21 0 0 1 1229.29,1223.9 A8.21,8.21 0 0 1 1240.81,1234.85 A8.21,8.21 0 0 1 1242.59,1250.65 Z" fill="#93c83e" stroke="#1a3f10" stroke-width="1.7" stroke-linejoin="round"/><path d="M1220,1245.2 Q1213.58,1242.17 1209.27,1238.43 M1220,1245.2 Q1216.27,1239.25 1212.53,1232.83 M1220,1245.2 Q1213.58,1244.5 1208.8,1243.1 M1220,1245.2 Q1224.08,1240.65 1229.8,1235.87 M1220,1245.2 Q1222.57,1237.97 1226.42,1232.48 M1220,1245.2 Q1228.63,1242.52 1234.58,1246.37 M1220,1245.2 Q1225.95,1248.93 1230.85,1254.53 M1220,1245.2 Q1223.73,1250.33 1227.93,1253.6 M1220,1245.2 Q1215.92,1248.93 1211.37,1252.08 M1220,1245.2 Q1218.6,1250.1 1216.27,1254.42 " fill="none" stroke="#1f3d1c" stroke-width="1.34" stroke-linecap="round"/><path d="M1220,1245.2 Q1216.79,1243.68 1214.11,1241.99 M1220,1245.2 Q1218.13,1242.23 1216.27,1239.13 M1220,1245.2 Q1216.79,1244.85 1213.99,1244.33 M1220,1245.2 Q1222.04,1242.92 1224.49,1240.59 M1220,1245.2 Q1221.28,1241.58 1222.89,1238.4 M1220,1245.2 Q1224.32,1243.86 1227.96,1244.15 M1220,1245.2 Q1222.97,1247.07 1225.69,1249.4 M1220,1245.2 Q1221.87,1247.77 1223.85,1249.87 M1220,1245.2 Q1217.96,1247.07 1215.8,1248.79 M1220,1245.2 Q1219.3,1247.65 1218.37,1249.95 " fill="none" stroke="#1f3d1c" stroke-width="2.04" stroke-linecap="round"/><path d="M1217.9,1231.2 Q1219.65,1244.03 1223.03,1256.87" fill="none" stroke="#1f3d1c" stroke-width="1.98" stroke-linecap="round"/><path d="M1218.83,1237.62 Q1219.77,1244.62 1221.63,1251.62" fill="none" stroke="#1f3d1c" stroke-width="3.03" stroke-linecap="round"/><ellipse cx="1220" cy="1245.2" rx="2.68" ry="2.1" fill="#1f3d1c" transform="rotate(-20 1220 1245.2)"/><path d="M1272.78,1298.24 A8.21,8.21 0 0 1 1265.2,1312.21 A8.21,8.21 0 0 1 1250.4,1318.03 A8.21,8.21 0 0 1 1235.33,1312.98 A8.21,8.21 0 0 1 1227.03,1299.43 A8.21,8.21 0 0 1 1229.38,1283.71 A8.21,8.21 0 0 1 1241.29,1273.18 A8.21,8.21 0 0 1 1257.18,1272.76 A8.21,8.21 0 0 1 1269.62,1282.66 A8.21,8.21 0 0 1 1272.78,1298.24 Z" fill="#93c83e" stroke="#1a3f10" stroke-width="1.7" stroke-linejoin="round"/><path d="M1249.8,1294.8 Q1243.38,1291.77 1239.07,1288.03 M1249.8,1294.8 Q1246.07,1288.85 1242.33,1282.43 M1249.8,1294.8 Q1243.38,1294.1 1238.6,1292.7 M1249.8,1294.8 Q1253.88,1290.25 1259.6,1285.47 M1249.8,1294.8 Q1252.37,1287.57 1256.22,1282.08 M1249.8,1294.8 Q1258.43,1292.12 1264.38,1295.97 M1249.8,1294.8 Q1255.75,1298.53 1260.65,1304.13 M1249.8,1294.8 Q1253.53,1299.93 1257.73,1303.2 M1249.8,1294.8 Q1245.72,1298.53 1241.17,1301.68 M1249.8,1294.8 Q1248.4,1299.7 1246.07,1304.02 " fill="none" stroke="#1f3d1c" stroke-width="1.34" stroke-linecap="round"/><path d="M1249.8,1294.8 Q1246.59,1293.28 1243.91,1291.59 M1249.8,1294.8 Q1247.93,1291.83 1246.07,1288.73 M1249.8,1294.8 Q1246.59,1294.45 1243.79,1293.92 M1249.8,1294.8 Q1251.84,1292.52 1254.29,1290.19 M1249.8,1294.8 Q1251.08,1291.18 1252.69,1288 M1249.8,1294.8 Q1254.12,1293.46 1257.76,1293.75 M1249.8,1294.8 Q1252.77,1296.67 1255.49,1299 M1249.8,1294.8 Q1251.67,1297.37 1253.65,1299.47 M1249.8,1294.8 Q1247.76,1296.67 1245.6,1298.39 M1249.8,1294.8 Q1249.1,1297.25 1248.17,1299.55 " fill="none" stroke="#1f3d1c" stroke-width="2.04" stroke-linecap="round"/><path d="M1247.7,1280.8 Q1249.45,1293.63 1252.83,1306.47" fill="none" stroke="#1f3d1c" stroke-width="1.98" stroke-linecap="round"/><path d="M1248.63,1287.22 Q1249.57,1294.22 1251.43,1301.22" fill="none" stroke="#1f3d1c" stroke-width="3.03" stroke-linecap="round"/><ellipse cx="1249.8" cy="1294.8" rx="2.68" ry="2.1" fill="#1f3d1c" transform="rotate(-20 1249.8 1294.8)"/><rect x="789.8" y="73.8" width="113" height="6.8" fill="#2b95d6"/></g>
<rect x="0" y="72" width="2048" height="2.4" fill="#0b3d91"/>
<path d="M0,1374.5 L1400,1374.5 C1490,1374.5 1551.5,1336.8 1621.5,1313.8 C1671.5,1297.4 1700,1293.2 1735,1293.2 L2048,1293.2" fill="none" stroke="#0b3d91" stroke-width="2.4"/>
<text x="69.8" y="134.4" font-size="26" fill="#3a86c4" font-weight="bold" text-anchor="start" textLength="85.6" lengthAdjust="spacingAndGlyphs">UNIT 8</text><text x="358" y="137.9" font-size="20" fill="#3a86c4" font-weight="normal" text-anchor="end" >sq ft</text><text x="496" y="137.9" font-size="20" fill="#3a86c4" font-weight="normal" text-anchor="end" >sq m</text><text x="69" y="170.9" font-size="18.7" fill="#222222" font-weight="bold" text-anchor="start" textLength="111.3" lengthAdjust="spacingAndGlyphs">TOTAL (GEA)</text><text x="358" y="170.9" font-size="18.6" fill="#222222" font-weight="bold" text-anchor="end" >11,195</text><text x="496" y="170.9" font-size="18.6" fill="#222222" font-weight="bold" text-anchor="end" >1,040</text><line x1="70.2" y1="179.4" x2="496.4" y2="179.4" stroke="#3a86c4" stroke-width="1.7" stroke-dasharray="0.01 4.4" stroke-linecap="round"/><rect x="87.4" y="199.5" width="28.3" height="33.1" rx="3.2" fill="none" stroke="#0a1a3c" stroke-width="2.9"/><line x1="77.9" y1="237.1" x2="125.1" y2="237.1" stroke="#3a86c4" stroke-width="3.7" stroke-linecap="round"/><line x1="200.9" y1="202.3" x2="243.1" y2="202.3" stroke="#3a86c4" stroke-width="4" stroke-linecap="round"/><path d="M222,208.5 L235.6,222 Q236.6,224 234.4,224 L225.8,224 L225.8,235.6 Q225.8,237.5 223.9,237.5 L220.1,237.5 Q218.2,237.5 218.2,235.6 L218.2,224 L209.6,224 Q207.4,224 208.4,222 Z" fill="none" stroke="#0a1a3c" stroke-width="2.9" stroke-linejoin="round"/><path d="M346.1,234.21 A19.8,19.8 0 1 0 339.3,234.21" fill="none" stroke="#0a1a3c" stroke-width="2.6"/><line x1="336.2" y1="203.8" x2="336.2" y2="213.4" stroke="#0a1a3c" stroke-width="2.4"/><line x1="349.1" y1="203.8" x2="349.1" y2="213.4" stroke="#0a1a3c" stroke-width="2.4"/><path d="M332.9,213.8 L352.5,213.8 L352.5,220.1 Q352.5,224.1 348.5,224.1 L336.9,224.1 Q332.9,224.1 332.9,220.1 Z" fill="none" stroke="#0a1a3c" stroke-width="2.5" stroke-linejoin="round"/><line x1="339.3" y1="224.1" x2="339.3" y2="234.71" stroke="#0a1a3c" stroke-width="2.3"/><line x1="346.1" y1="224.1" x2="346.1" y2="234.71" stroke="#0a1a3c" stroke-width="2.3"/><line x1="342.75" y1="231" x2="342.75" y2="238.8" stroke="#3a86c4" stroke-width="3.4" stroke-linecap="round"/><path d="M446.8,204.3 L450.8,194.6 Q451.4,193.6 452.6,193.6 L476.2,193.6 Q477.4,193.6 478,194.6 L481.6,204.3" fill="none" stroke="#0a1a3c" stroke-width="2.2" stroke-linejoin="round"/><rect x="443.4" y="204.3" width="40.2" height="14.8" rx="3.5" fill="none" stroke="#0a1a3c" stroke-width="2.2"/><path d="M444.4,219.1 L444.4,222 Q444.4,223.8 446.2,223.8 L449.5,223.8 Q451.3,223.8 451.3,222 L451.3,219.1" fill="none" stroke="#0a1a3c" stroke-width="2.1"/><path d="M475.8,219.1 L475.8,222 Q475.8,223.8 477.6,223.8 L480.9,223.8 Q482.7,223.8 482.7,222 L482.7,219.1" fill="none" stroke="#0a1a3c" stroke-width="2.1"/><rect x="447.7" y="210" width="5.6" height="4.4" fill="none" stroke="#0a1a3c" stroke-width="1.8"/><rect x="473" y="210" width="6" height="4.4" fill="none" stroke="#0a1a3c" stroke-width="1.8"/><line x1="458.8" y1="211.3" x2="468.6" y2="211.3" stroke="#0a1a3c" stroke-width="1.7"/><line x1="458.8" y1="213.7" x2="468.6" y2="213.7" stroke="#0a1a3c" stroke-width="1.7"/><path d="M466.4,204 A5.2,5.2 0 0 1 476.6,204" fill="none" stroke="#0a1a3c" stroke-width="2"/><line x1="441.7" y1="230.2" x2="484.9" y2="230.2" stroke="#3a86c4" stroke-width="3.5" stroke-linecap="round"/><text x="101.5" y="267.2" font-size="16.4" fill="#0f1b35" font-weight="bold" text-anchor="middle" >1</text><text x="101.5" y="286.6" font-size="16.4" fill="#0f1b35" font-weight="normal" text-anchor="middle" >LEVEL</text><text x="101.5" y="305.9" font-size="16.4" fill="#0f1b35" font-weight="normal" text-anchor="middle" >ACCESS</text><text x="101.5" y="325.2" font-size="16.4" fill="#0f1b35" font-weight="normal" text-anchor="middle" >DOORS</text><text x="222" y="267.2" font-size="16.4" fill="#0f1b35" font-weight="bold" text-anchor="middle" >8M</text><text x="222" y="286.6" font-size="16.4" fill="#0f1b35" font-weight="normal" text-anchor="middle" >CLEAR</text><text x="222" y="305.9" font-size="16.4" fill="#0f1b35" font-weight="normal" text-anchor="middle" >INTERNAL</text><text x="222" y="325.2" font-size="16.4" fill="#0f1b35" font-weight="normal" text-anchor="middle" >HEIGHT</text><text x="342.5" y="267.2" font-size="16.4" fill="#0f1b35" font-weight="bold" text-anchor="middle" >4</text><text x="342.5" y="286.6" font-size="16.4" fill="#0f1b35" font-weight="normal" text-anchor="middle" >EV</text><text x="342.5" y="305.9" font-size="16.4" fill="#0f1b35" font-weight="normal" text-anchor="middle" >CHARGING</text><text x="342.5" y="325.2" font-size="16.4" fill="#0f1b35" font-weight="normal" text-anchor="middle" >POINTS</text><text x="463" y="267.2" font-size="16.4" fill="#0f1b35" font-weight="bold" text-anchor="middle" >11</text><text x="463" y="286.6" font-size="16.4" fill="#0f1b35" font-weight="normal" text-anchor="middle" >CAR</text><text x="463" y="305.9" font-size="16.4" fill="#0f1b35" font-weight="normal" text-anchor="middle" >PARKING</text><text x="463" y="325.2" font-size="16.4" fill="#0f1b35" font-weight="normal" text-anchor="middle" >SPACES</text>
<text x="69.8" y="405.65" font-size="26" fill="#3a86c4" font-weight="bold" text-anchor="start" textLength="95.7" lengthAdjust="spacingAndGlyphs">UNIT 10</text><text x="358" y="409.15" font-size="20" fill="#3a86c4" font-weight="normal" text-anchor="end" >sq ft</text><text x="496" y="409.15" font-size="20" fill="#3a86c4" font-weight="normal" text-anchor="end" >sq m</text><text x="69" y="442.15" font-size="18.7" fill="#222222" font-weight="bold" text-anchor="start" textLength="121.5" lengthAdjust="spacingAndGlyphs">TOTAL (GEA)</text><text x="358" y="442.15" font-size="18.6" fill="#222222" font-weight="bold" text-anchor="end" >11,046</text><text x="496" y="442.15" font-size="18.6" fill="#222222" font-weight="bold" text-anchor="end" >1,027</text><line x1="70.2" y1="450.65" x2="496.4" y2="450.65" stroke="#3a86c4" stroke-width="1.7" stroke-dasharray="0.01 4.4" stroke-linecap="round"/><rect x="87.4" y="470.75" width="28.3" height="33.1" rx="3.2" fill="none" stroke="#0a1a3c" stroke-width="2.9"/><line x1="77.9" y1="508.35" x2="125.1" y2="508.35" stroke="#3a86c4" stroke-width="3.7" stroke-linecap="round"/><line x1="200.9" y1="473.55" x2="243.1" y2="473.55" stroke="#3a86c4" stroke-width="4" stroke-linecap="round"/><path d="M222,479.75 L235.6,493.25 Q236.6,495.25 234.4,495.25 L225.8,495.25 L225.8,506.85 Q225.8,508.75 223.9,508.75 L220.1,508.75 Q218.2,508.75 218.2,506.85 L218.2,495.25 L209.6,495.25 Q207.4,495.25 208.4,493.25 Z" fill="none" stroke="#0a1a3c" stroke-width="2.9" stroke-linejoin="round"/><path d="M346.1,505.46 A19.8,19.8 0 1 0 339.3,505.46" fill="none" stroke="#0a1a3c" stroke-width="2.6"/><line x1="336.2" y1="475.05" x2="336.2" y2="484.65" stroke="#0a1a3c" stroke-width="2.4"/><line x1="349.1" y1="475.05" x2="349.1" y2="484.65" stroke="#0a1a3c" stroke-width="2.4"/><path d="M332.9,485.05 L352.5,485.05 L352.5,491.35 Q352.5,495.35 348.5,495.35 L336.9,495.35 Q332.9,495.35 332.9,491.35 Z" fill="none" stroke="#0a1a3c" stroke-width="2.5" stroke-linejoin="round"/><line x1="339.3" y1="495.35" x2="339.3" y2="505.96" stroke="#0a1a3c" stroke-width="2.3"/><line x1="346.1" y1="495.35" x2="346.1" y2="505.96" stroke="#0a1a3c" stroke-width="2.3"/><line x1="342.75" y1="502.25" x2="342.75" y2="510.05" stroke="#3a86c4" stroke-width="3.4" stroke-linecap="round"/><path d="M446.8,475.55 L450.8,465.85 Q451.4,464.85 452.6,464.85 L476.2,464.85 Q477.4,464.85 478,465.85 L481.6,475.55" fill="none" stroke="#0a1a3c" stroke-width="2.2" stroke-linejoin="round"/><rect x="443.4" y="475.55" width="40.2" height="14.8" rx="3.5" fill="none" stroke="#0a1a3c" stroke-width="2.2"/><path d="M444.4,490.35 L444.4,493.25 Q444.4,495.05 446.2,495.05 L449.5,495.05 Q451.3,495.05 451.3,493.25 L451.3,490.35" fill="none" stroke="#0a1a3c" stroke-width="2.1"/><path d="M475.8,490.35 L475.8,493.25 Q475.8,495.05 477.6,495.05 L480.9,495.05 Q482.7,495.05 482.7,493.25 L482.7,490.35" fill="none" stroke="#0a1a3c" stroke-width="2.1"/><rect x="447.7" y="481.25" width="5.6" height="4.4" fill="none" stroke="#0a1a3c" stroke-width="1.8"/><rect x="473" y="481.25" width="6" height="4.4" fill="none" stroke="#0a1a3c" stroke-width="1.8"/><line x1="458.8" y1="482.55" x2="468.6" y2="482.55" stroke="#0a1a3c" stroke-width="1.7"/><line x1="458.8" y1="484.95" x2="468.6" y2="484.95" stroke="#0a1a3c" stroke-width="1.7"/><path d="M466.4,475.25 A5.2,5.2 0 0 1 476.6,475.25" fill="none" stroke="#0a1a3c" stroke-width="2"/><line x1="441.7" y1="501.45" x2="484.9" y2="501.45" stroke="#3a86c4" stroke-width="3.5" stroke-linecap="round"/><text x="101.5" y="538.45" font-size="16.4" fill="#0f1b35" font-weight="bold" text-anchor="middle" >1</text><text x="101.5" y="557.85" font-size="16.4" fill="#0f1b35" font-weight="normal" text-anchor="middle" >LEVEL</text><text x="101.5" y="577.15" font-size="16.4" fill="#0f1b35" font-weight="normal" text-anchor="middle" >ACCESS</text><text x="101.5" y="596.45" font-size="16.4" fill="#0f1b35" font-weight="normal" text-anchor="middle" >DOORS</text><text x="222" y="538.45" font-size="16.4" fill="#0f1b35" font-weight="bold" text-anchor="middle" >8M</text><text x="222" y="557.85" font-size="16.4" fill="#0f1b35" font-weight="normal" text-anchor="middle" >CLEAR</text><text x="222" y="577.15" font-size="16.4" fill="#0f1b35" font-weight="normal" text-anchor="middle" >INTERNAL</text><text x="222" y="596.45" font-size="16.4" fill="#0f1b35" font-weight="normal" text-anchor="middle" >HEIGHT</text><text x="342.5" y="538.45" font-size="16.4" fill="#0f1b35" font-weight="bold" text-anchor="middle" >4</text><text x="342.5" y="557.85" font-size="16.4" fill="#0f1b35" font-weight="normal" text-anchor="middle" >EV</text><text x="342.5" y="577.15" font-size="16.4" fill="#0f1b35" font-weight="normal" text-anchor="middle" >CHARGING</text><text x="342.5" y="596.45" font-size="16.4" fill="#0f1b35" font-weight="normal" text-anchor="middle" >POINTS</text><text x="463" y="538.45" font-size="16.4" fill="#0f1b35" font-weight="bold" text-anchor="middle" >11</text><text x="463" y="557.85" font-size="16.4" fill="#0f1b35" font-weight="normal" text-anchor="middle" >CAR</text><text x="463" y="577.15" font-size="16.4" fill="#0f1b35" font-weight="normal" text-anchor="middle" >PARKING</text><text x="463" y="596.45" font-size="16.4" fill="#0f1b35" font-weight="normal" text-anchor="middle" >SPACES</text>
<text x="69.8" y="676.9" font-size="26" fill="#3a86c4" font-weight="bold" text-anchor="start" textLength="95.4" lengthAdjust="spacingAndGlyphs">UNIT 12</text><text x="358" y="680.4" font-size="20" fill="#3a86c4" font-weight="normal" text-anchor="end" >sq ft</text><text x="496" y="680.4" font-size="20" fill="#3a86c4" font-weight="normal" text-anchor="end" >sq m</text><text x="69" y="713.4" font-size="18.7" fill="#222222" font-weight="bold" text-anchor="start" textLength="121.7" lengthAdjust="spacingAndGlyphs">TOTAL (GEA)</text><text x="358" y="713.4" font-size="18.6" fill="#222222" font-weight="bold" text-anchor="end" >16,702</text><text x="496" y="713.4" font-size="18.6" fill="#222222" font-weight="bold" text-anchor="end" >1,551</text><line x1="70.2" y1="721.9" x2="496.4" y2="721.9" stroke="#3a86c4" stroke-width="1.7" stroke-dasharray="0.01 4.4" stroke-linecap="round"/><rect x="87.4" y="742" width="28.3" height="33.1" rx="3.2" fill="none" stroke="#0a1a3c" stroke-width="2.9"/><line x1="77.9" y1="779.6" x2="125.1" y2="779.6" stroke="#3a86c4" stroke-width="3.7" stroke-linecap="round"/><line x1="200.9" y1="744.8" x2="243.1" y2="744.8" stroke="#3a86c4" stroke-width="4" stroke-linecap="round"/><path d="M222,751 L235.6,764.5 Q236.6,766.5 234.4,766.5 L225.8,766.5 L225.8,778.1 Q225.8,780 223.9,780 L220.1,780 Q218.2,780 218.2,778.1 L218.2,766.5 L209.6,766.5 Q207.4,766.5 208.4,764.5 Z" fill="none" stroke="#0a1a3c" stroke-width="2.9" stroke-linejoin="round"/><path d="M346.1,776.71 A19.8,19.8 0 1 0 339.3,776.71" fill="none" stroke="#0a1a3c" stroke-width="2.6"/><line x1="336.2" y1="746.3" x2="336.2" y2="755.9" stroke="#0a1a3c" stroke-width="2.4"/><line x1="349.1" y1="746.3" x2="349.1" y2="755.9" stroke="#0a1a3c" stroke-width="2.4"/><path d="M332.9,756.3 L352.5,756.3 L352.5,762.6 Q352.5,766.6 348.5,766.6 L336.9,766.6 Q332.9,766.6 332.9,762.6 Z" fill="none" stroke="#0a1a3c" stroke-width="2.5" stroke-linejoin="round"/><line x1="339.3" y1="766.6" x2="339.3" y2="777.21" stroke="#0a1a3c" stroke-width="2.3"/><line x1="346.1" y1="766.6" x2="346.1" y2="777.21" stroke="#0a1a3c" stroke-width="2.3"/><line x1="342.75" y1="773.5" x2="342.75" y2="781.3" stroke="#3a86c4" stroke-width="3.4" stroke-linecap="round"/><path d="M446.8,746.8 L450.8,737.1 Q451.4,736.1 452.6,736.1 L476.2,736.1 Q477.4,736.1 478,737.1 L481.6,746.8" fill="none" stroke="#0a1a3c" stroke-width="2.2" stroke-linejoin="round"/><rect x="443.4" y="746.8" width="40.2" height="14.8" rx="3.5" fill="none" stroke="#0a1a3c" stroke-width="2.2"/><path d="M444.4,761.6 L444.4,764.5 Q444.4,766.3 446.2,766.3 L449.5,766.3 Q451.3,766.3 451.3,764.5 L451.3,761.6" fill="none" stroke="#0a1a3c" stroke-width="2.1"/><path d="M475.8,761.6 L475.8,764.5 Q475.8,766.3 477.6,766.3 L480.9,766.3 Q482.7,766.3 482.7,764.5 L482.7,761.6" fill="none" stroke="#0a1a3c" stroke-width="2.1"/><rect x="447.7" y="752.5" width="5.6" height="4.4" fill="none" stroke="#0a1a3c" stroke-width="1.8"/><rect x="473" y="752.5" width="6" height="4.4" fill="none" stroke="#0a1a3c" stroke-width="1.8"/><line x1="458.8" y1="753.8" x2="468.6" y2="753.8" stroke="#0a1a3c" stroke-width="1.7"/><line x1="458.8" y1="756.2" x2="468.6" y2="756.2" stroke="#0a1a3c" stroke-width="1.7"/><path d="M466.4,746.5 A5.2,5.2 0 0 1 476.6,746.5" fill="none" stroke="#0a1a3c" stroke-width="2"/><line x1="441.7" y1="772.7" x2="484.9" y2="772.7" stroke="#3a86c4" stroke-width="3.5" stroke-linecap="round"/><text x="101.5" y="809.7" font-size="16.4" fill="#0f1b35" font-weight="bold" text-anchor="middle" >1</text><text x="101.5" y="829.1" font-size="16.4" fill="#0f1b35" font-weight="normal" text-anchor="middle" >LEVEL</text><text x="101.5" y="848.4" font-size="16.4" fill="#0f1b35" font-weight="normal" text-anchor="middle" >ACCESS</text><text x="101.5" y="867.7" font-size="16.4" fill="#0f1b35" font-weight="normal" text-anchor="middle" >DOORS</text><text x="222" y="809.7" font-size="16.4" fill="#0f1b35" font-weight="bold" text-anchor="middle" >8M</text><text x="222" y="829.1" font-size="16.4" fill="#0f1b35" font-weight="normal" text-anchor="middle" >CLEAR</text><text x="222" y="848.4" font-size="16.4" fill="#0f1b35" font-weight="normal" text-anchor="middle" >INTERNAL</text><text x="222" y="867.7" font-size="16.4" fill="#0f1b35" font-weight="normal" text-anchor="middle" >HEIGHT</text><text x="342.5" y="809.7" font-size="16.4" fill="#0f1b35" font-weight="bold" text-anchor="middle" >6</text><text x="342.5" y="829.1" font-size="16.4" fill="#0f1b35" font-weight="normal" text-anchor="middle" >EV</text><text x="342.5" y="848.4" font-size="16.4" fill="#0f1b35" font-weight="normal" text-anchor="middle" >CHARGING</text><text x="342.5" y="867.7" font-size="16.4" fill="#0f1b35" font-weight="normal" text-anchor="middle" >POINTS</text><text x="463" y="809.7" font-size="16.4" fill="#0f1b35" font-weight="bold" text-anchor="middle" >15</text><text x="463" y="829.1" font-size="16.4" fill="#0f1b35" font-weight="normal" text-anchor="middle" >CAR</text><text x="463" y="848.4" font-size="16.4" fill="#0f1b35" font-weight="normal" text-anchor="middle" >PARKING</text><text x="463" y="867.7" font-size="16.4" fill="#0f1b35" font-weight="normal" text-anchor="middle" >SPACES</text>
<text x="69.8" y="948.15" font-size="26" fill="#3a86c4" font-weight="bold" text-anchor="start" textLength="96" lengthAdjust="spacingAndGlyphs">UNIT 14</text><text x="358" y="951.65" font-size="20" fill="#3a86c4" font-weight="normal" text-anchor="end" >sq ft</text><text x="496" y="951.65" font-size="20" fill="#3a86c4" font-weight="normal" text-anchor="end" >sq m</text><text x="69" y="984.65" font-size="18.7" fill="#222222" font-weight="bold" text-anchor="start" textLength="121.7" lengthAdjust="spacingAndGlyphs">TOTAL (GEA)</text><text x="358" y="984.65" font-size="18.6" fill="#222222" font-weight="bold" text-anchor="end" >17,914</text><text x="496" y="984.65" font-size="18.6" fill="#222222" font-weight="bold" text-anchor="end" >1,664</text><line x1="70.2" y1="993.15" x2="496.4" y2="993.15" stroke="#3a86c4" stroke-width="1.7" stroke-dasharray="0.01 4.4" stroke-linecap="round"/><rect x="87.4" y="1013.25" width="28.3" height="33.1" rx="3.2" fill="none" stroke="#0a1a3c" stroke-width="2.9"/><line x1="77.9" y1="1050.85" x2="125.1" y2="1050.85" stroke="#3a86c4" stroke-width="3.7" stroke-linecap="round"/><line x1="200.9" y1="1016.05" x2="243.1" y2="1016.05" stroke="#3a86c4" stroke-width="4" stroke-linecap="round"/><path d="M222,1022.25 L235.6,1035.75 Q236.6,1037.75 234.4,1037.75 L225.8,1037.75 L225.8,1049.35 Q225.8,1051.25 223.9,1051.25 L220.1,1051.25 Q218.2,1051.25 218.2,1049.35 L218.2,1037.75 L209.6,1037.75 Q207.4,1037.75 208.4,1035.75 Z" fill="none" stroke="#0a1a3c" stroke-width="2.9" stroke-linejoin="round"/><path d="M346.1,1047.96 A19.8,19.8 0 1 0 339.3,1047.96" fill="none" stroke="#0a1a3c" stroke-width="2.6"/><line x1="336.2" y1="1017.55" x2="336.2" y2="1027.15" stroke="#0a1a3c" stroke-width="2.4"/><line x1="349.1" y1="1017.55" x2="349.1" y2="1027.15" stroke="#0a1a3c" stroke-width="2.4"/><path d="M332.9,1027.55 L352.5,1027.55 L352.5,1033.85 Q352.5,1037.85 348.5,1037.85 L336.9,1037.85 Q332.9,1037.85 332.9,1033.85 Z" fill="none" stroke="#0a1a3c" stroke-width="2.5" stroke-linejoin="round"/><line x1="339.3" y1="1037.85" x2="339.3" y2="1048.46" stroke="#0a1a3c" stroke-width="2.3"/><line x1="346.1" y1="1037.85" x2="346.1" y2="1048.46" stroke="#0a1a3c" stroke-width="2.3"/><line x1="342.75" y1="1044.75" x2="342.75" y2="1052.55" stroke="#3a86c4" stroke-width="3.4" stroke-linecap="round"/><path d="M446.8,1018.05 L450.8,1008.35 Q451.4,1007.35 452.6,1007.35 L476.2,1007.35 Q477.4,1007.35 478,1008.35 L481.6,1018.05" fill="none" stroke="#0a1a3c" stroke-width="2.2" stroke-linejoin="round"/><rect x="443.4" y="1018.05" width="40.2" height="14.8" rx="3.5" fill="none" stroke="#0a1a3c" stroke-width="2.2"/><path d="M444.4,1032.85 L444.4,1035.75 Q444.4,1037.55 446.2,1037.55 L449.5,1037.55 Q451.3,1037.55 451.3,1035.75 L451.3,1032.85" fill="none" stroke="#0a1a3c" stroke-width="2.1"/><path d="M475.8,1032.85 L475.8,1035.75 Q475.8,1037.55 477.6,1037.55 L480.9,1037.55 Q482.7,1037.55 482.7,1035.75 L482.7,1032.85" fill="none" stroke="#0a1a3c" stroke-width="2.1"/><rect x="447.7" y="1023.75" width="5.6" height="4.4" fill="none" stroke="#0a1a3c" stroke-width="1.8"/><rect x="473" y="1023.75" width="6" height="4.4" fill="none" stroke="#0a1a3c" stroke-width="1.8"/><line x1="458.8" y1="1025.05" x2="468.6" y2="1025.05" stroke="#0a1a3c" stroke-width="1.7"/><line x1="458.8" y1="1027.45" x2="468.6" y2="1027.45" stroke="#0a1a3c" stroke-width="1.7"/><path d="M466.4,1017.75 A5.2,5.2 0 0 1 476.6,1017.75" fill="none" stroke="#0a1a3c" stroke-width="2"/><line x1="441.7" y1="1043.95" x2="484.9" y2="1043.95" stroke="#3a86c4" stroke-width="3.5" stroke-linecap="round"/><text x="101.5" y="1080.95" font-size="16.4" fill="#0f1b35" font-weight="bold" text-anchor="middle" >1</text><text x="101.5" y="1100.35" font-size="16.4" fill="#0f1b35" font-weight="normal" text-anchor="middle" >LEVEL</text><text x="101.5" y="1119.65" font-size="16.4" fill="#0f1b35" font-weight="normal" text-anchor="middle" >ACCESS</text><text x="101.5" y="1138.95" font-size="16.4" fill="#0f1b35" font-weight="normal" text-anchor="middle" >DOORS</text><text x="222" y="1080.95" font-size="16.4" fill="#0f1b35" font-weight="bold" text-anchor="middle" >8M</text><text x="222" y="1100.35" font-size="16.4" fill="#0f1b35" font-weight="normal" text-anchor="middle" >CLEAR</text><text x="222" y="1119.65" font-size="16.4" fill="#0f1b35" font-weight="normal" text-anchor="middle" >INTERNAL</text><text x="222" y="1138.95" font-size="16.4" fill="#0f1b35" font-weight="normal" text-anchor="middle" >HEIGHT</text><text x="342.5" y="1080.95" font-size="16.4" fill="#0f1b35" font-weight="bold" text-anchor="middle" >6</text><text x="342.5" y="1100.35" font-size="16.4" fill="#0f1b35" font-weight="normal" text-anchor="middle" >EV</text><text x="342.5" y="1119.65" font-size="16.4" fill="#0f1b35" font-weight="normal" text-anchor="middle" >CHARGING</text><text x="342.5" y="1138.95" font-size="16.4" fill="#0f1b35" font-weight="normal" text-anchor="middle" >POINTS</text><text x="463" y="1080.95" font-size="16.4" fill="#0f1b35" font-weight="bold" text-anchor="middle" >15</text><text x="463" y="1100.35" font-size="16.4" fill="#0f1b35" font-weight="normal" text-anchor="middle" >CAR</text><text x="463" y="1119.65" font-size="16.4" fill="#0f1b35" font-weight="normal" text-anchor="middle" >PARKING</text><text x="463" y="1138.95" font-size="16.4" fill="#0f1b35" font-weight="normal" text-anchor="middle" >SPACES</text>
<text x="1515.8" y="134.2" font-size="26" fill="#3a86c4" font-weight="bold" text-anchor="start" textLength="96" lengthAdjust="spacingAndGlyphs">UNIT 16</text><text x="1804" y="137.7" font-size="20" fill="#3a86c4" font-weight="normal" text-anchor="end" >sq ft</text><text x="1942" y="137.7" font-size="20" fill="#3a86c4" font-weight="normal" text-anchor="end" >sq m</text><text x="1515" y="170.7" font-size="18.7" fill="#222222" font-weight="bold" text-anchor="start" textLength="112.3" lengthAdjust="spacingAndGlyphs">TOTAL (GEA)</text><text x="1804" y="170.7" font-size="18.6" fill="#222222" font-weight="bold" text-anchor="end" >12,152</text><text x="1942" y="170.7" font-size="18.6" fill="#222222" font-weight="bold" text-anchor="end" >1,129</text><line x1="1515.4" y1="179.1" x2="1943.4" y2="179.1" stroke="#3a86c4" stroke-width="1.3"/><rect x="1535.1" y="199.3" width="28.3" height="33.1" rx="3.2" fill="none" stroke="#0a1a3c" stroke-width="2.9"/><line x1="1525.6" y1="236.9" x2="1572.8" y2="236.9" stroke="#3a86c4" stroke-width="3.7" stroke-linecap="round"/><line x1="1648.6" y1="202.1" x2="1690.8" y2="202.1" stroke="#3a86c4" stroke-width="4" stroke-linecap="round"/><path d="M1669.7,208.3 L1683.3,221.8 Q1684.3,223.8 1682.1,223.8 L1673.5,223.8 L1673.5,235.4 Q1673.5,237.3 1671.6,237.3 L1667.8,237.3 Q1665.9,237.3 1665.9,235.4 L1665.9,223.8 L1657.3,223.8 Q1655.1,223.8 1656.1,221.8 Z" fill="none" stroke="#0a1a3c" stroke-width="2.9" stroke-linejoin="round"/><path d="M1793.8,234.01 A19.8,19.8 0 1 0 1787,234.01" fill="none" stroke="#0a1a3c" stroke-width="2.6"/><line x1="1783.9" y1="203.6" x2="1783.9" y2="213.2" stroke="#0a1a3c" stroke-width="2.4"/><line x1="1796.8" y1="203.6" x2="1796.8" y2="213.2" stroke="#0a1a3c" stroke-width="2.4"/><path d="M1780.6,213.6 L1800.2,213.6 L1800.2,219.9 Q1800.2,223.9 1796.2,223.9 L1784.6,223.9 Q1780.6,223.9 1780.6,219.9 Z" fill="none" stroke="#0a1a3c" stroke-width="2.5" stroke-linejoin="round"/><line x1="1787" y1="223.9" x2="1787" y2="234.51" stroke="#0a1a3c" stroke-width="2.3"/><line x1="1793.8" y1="223.9" x2="1793.8" y2="234.51" stroke="#0a1a3c" stroke-width="2.3"/><line x1="1790.45" y1="230.8" x2="1790.45" y2="238.6" stroke="#3a86c4" stroke-width="3.4" stroke-linecap="round"/><path d="M1894.5,204.1 L1898.5,194.4 Q1899.1,193.4 1900.3,193.4 L1923.9,193.4 Q1925.1,193.4 1925.7,194.4 L1929.3,204.1" fill="none" stroke="#0a1a3c" stroke-width="2.2" stroke-linejoin="round"/><rect x="1891.1" y="204.1" width="40.2" height="14.8" rx="3.5" fill="none" stroke="#0a1a3c" stroke-width="2.2"/><path d="M1892.1,218.9 L1892.1,221.8 Q1892.1,223.6 1893.9,223.6 L1897.2,223.6 Q1899,223.6 1899,221.8 L1899,218.9" fill="none" stroke="#0a1a3c" stroke-width="2.1"/><path d="M1923.5,218.9 L1923.5,221.8 Q1923.5,223.6 1925.3,223.6 L1928.6,223.6 Q1930.4,223.6 1930.4,221.8 L1930.4,218.9" fill="none" stroke="#0a1a3c" stroke-width="2.1"/><rect x="1895.4" y="209.8" width="5.6" height="4.4" fill="none" stroke="#0a1a3c" stroke-width="1.8"/><rect x="1920.7" y="209.8" width="6" height="4.4" fill="none" stroke="#0a1a3c" stroke-width="1.8"/><line x1="1906.5" y1="211.1" x2="1916.3" y2="211.1" stroke="#0a1a3c" stroke-width="1.7"/><line x1="1906.5" y1="213.5" x2="1916.3" y2="213.5" stroke="#0a1a3c" stroke-width="1.7"/><path d="M1914.1,203.8 A5.2,5.2 0 0 1 1924.3,203.8" fill="none" stroke="#0a1a3c" stroke-width="2"/><line x1="1889.4" y1="230" x2="1932.6" y2="230" stroke="#3a86c4" stroke-width="3.5" stroke-linecap="round"/><text x="1549.2" y="267" font-size="16.4" fill="#0f1b35" font-weight="bold" text-anchor="middle" >1</text><text x="1549.2" y="286.4" font-size="16.4" fill="#0f1b35" font-weight="normal" text-anchor="middle" >LEVEL</text><text x="1549.2" y="305.7" font-size="16.4" fill="#0f1b35" font-weight="normal" text-anchor="middle" >ACCESS</text><text x="1549.2" y="325" font-size="16.4" fill="#0f1b35" font-weight="normal" text-anchor="middle" >DOORS</text><text x="1669.7" y="267" font-size="16.4" fill="#0f1b35" font-weight="bold" text-anchor="middle" >8M</text><text x="1669.7" y="286.4" font-size="16.4" fill="#0f1b35" font-weight="normal" text-anchor="middle" >CLEAR</text><text x="1669.7" y="305.7" font-size="16.4" fill="#0f1b35" font-weight="normal" text-anchor="middle" >INTERNAL</text><text x="1669.7" y="325" font-size="16.4" fill="#0f1b35" font-weight="normal" text-anchor="middle" >HEIGHT</text><text x="1790.2" y="267" font-size="16.4" fill="#0f1b35" font-weight="bold" text-anchor="middle" >4</text><text x="1790.2" y="286.4" font-size="16.4" fill="#0f1b35" font-weight="normal" text-anchor="middle" >EV</text><text x="1790.2" y="305.7" font-size="16.4" fill="#0f1b35" font-weight="normal" text-anchor="middle" >CHARGING</text><text x="1790.2" y="325" font-size="16.4" fill="#0f1b35" font-weight="normal" text-anchor="middle" >POINTS</text><text x="1910.7" y="267" font-size="16.4" fill="#0f1b35" font-weight="bold" text-anchor="middle" >11</text><text x="1910.7" y="286.4" font-size="16.4" fill="#0f1b35" font-weight="normal" text-anchor="middle" >CAR</text><text x="1910.7" y="305.7" font-size="16.4" fill="#0f1b35" font-weight="normal" text-anchor="middle" >PARKING</text><text x="1910.7" y="325" font-size="16.4" fill="#0f1b35" font-weight="normal" text-anchor="middle" >SPACES</text>
<text x="1515.8" y="405.45" font-size="26" fill="#3a86c4" font-weight="bold" text-anchor="start" textLength="96.4" lengthAdjust="spacingAndGlyphs">UNIT 18</text><text x="1804" y="408.95" font-size="20" fill="#3a86c4" font-weight="normal" text-anchor="end" >sq ft</text><text x="1942" y="408.95" font-size="20" fill="#3a86c4" font-weight="normal" text-anchor="end" >sq m</text><text x="1515" y="441.95" font-size="18.7" fill="#222222" font-weight="bold" text-anchor="start" textLength="112.3" lengthAdjust="spacingAndGlyphs">TOTAL (GEA)</text><text x="1804" y="441.95" font-size="18.6" fill="#222222" font-weight="bold" text-anchor="end" >8,142</text><text x="1942" y="441.95" font-size="18.6" fill="#222222" font-weight="bold" text-anchor="end" >756</text><line x1="1515.4" y1="450.35" x2="1943.4" y2="450.35" stroke="#3a86c4" stroke-width="1.3"/><rect x="1535.1" y="470.55" width="28.3" height="33.1" rx="3.2" fill="none" stroke="#0a1a3c" stroke-width="2.9"/><line x1="1525.6" y1="508.15" x2="1572.8" y2="508.15" stroke="#3a86c4" stroke-width="3.7" stroke-linecap="round"/><line x1="1648.6" y1="473.35" x2="1690.8" y2="473.35" stroke="#3a86c4" stroke-width="4" stroke-linecap="round"/><path d="M1669.7,479.55 L1683.3,493.05 Q1684.3,495.05 1682.1,495.05 L1673.5,495.05 L1673.5,506.65 Q1673.5,508.55 1671.6,508.55 L1667.8,508.55 Q1665.9,508.55 1665.9,506.65 L1665.9,495.05 L1657.3,495.05 Q1655.1,495.05 1656.1,493.05 Z" fill="none" stroke="#0a1a3c" stroke-width="2.9" stroke-linejoin="round"/><path d="M1793.8,505.26 A19.8,19.8 0 1 0 1787,505.26" fill="none" stroke="#0a1a3c" stroke-width="2.6"/><line x1="1783.9" y1="474.85" x2="1783.9" y2="484.45" stroke="#0a1a3c" stroke-width="2.4"/><line x1="1796.8" y1="474.85" x2="1796.8" y2="484.45" stroke="#0a1a3c" stroke-width="2.4"/><path d="M1780.6,484.85 L1800.2,484.85 L1800.2,491.15 Q1800.2,495.15 1796.2,495.15 L1784.6,495.15 Q1780.6,495.15 1780.6,491.15 Z" fill="none" stroke="#0a1a3c" stroke-width="2.5" stroke-linejoin="round"/><line x1="1787" y1="495.15" x2="1787" y2="505.76" stroke="#0a1a3c" stroke-width="2.3"/><line x1="1793.8" y1="495.15" x2="1793.8" y2="505.76" stroke="#0a1a3c" stroke-width="2.3"/><line x1="1790.45" y1="502.05" x2="1790.45" y2="509.85" stroke="#3a86c4" stroke-width="3.4" stroke-linecap="round"/><path d="M1894.5,475.35 L1898.5,465.65 Q1899.1,464.65 1900.3,464.65 L1923.9,464.65 Q1925.1,464.65 1925.7,465.65 L1929.3,475.35" fill="none" stroke="#0a1a3c" stroke-width="2.2" stroke-linejoin="round"/><rect x="1891.1" y="475.35" width="40.2" height="14.8" rx="3.5" fill="none" stroke="#0a1a3c" stroke-width="2.2"/><path d="M1892.1,490.15 L1892.1,493.05 Q1892.1,494.85 1893.9,494.85 L1897.2,494.85 Q1899,494.85 1899,493.05 L1899,490.15" fill="none" stroke="#0a1a3c" stroke-width="2.1"/><path d="M1923.5,490.15 L1923.5,493.05 Q1923.5,494.85 1925.3,494.85 L1928.6,494.85 Q1930.4,494.85 1930.4,493.05 L1930.4,490.15" fill="none" stroke="#0a1a3c" stroke-width="2.1"/><rect x="1895.4" y="481.05" width="5.6" height="4.4" fill="none" stroke="#0a1a3c" stroke-width="1.8"/><rect x="1920.7" y="481.05" width="6" height="4.4" fill="none" stroke="#0a1a3c" stroke-width="1.8"/><line x1="1906.5" y1="482.35" x2="1916.3" y2="482.35" stroke="#0a1a3c" stroke-width="1.7"/><line x1="1906.5" y1="484.75" x2="1916.3" y2="484.75" stroke="#0a1a3c" stroke-width="1.7"/><path d="M1914.1,475.05 A5.2,5.2 0 0 1 1924.3,475.05" fill="none" stroke="#0a1a3c" stroke-width="2"/><line x1="1889.4" y1="501.25" x2="1932.6" y2="501.25" stroke="#3a86c4" stroke-width="3.5" stroke-linecap="round"/><text x="1549.2" y="538.25" font-size="16.4" fill="#0f1b35" font-weight="bold" text-anchor="middle" >1</text><text x="1549.2" y="557.65" font-size="16.4" fill="#0f1b35" font-weight="normal" text-anchor="middle" >LEVEL</text><text x="1549.2" y="576.95" font-size="16.4" fill="#0f1b35" font-weight="normal" text-anchor="middle" >ACCESS</text><text x="1549.2" y="596.25" font-size="16.4" fill="#0f1b35" font-weight="normal" text-anchor="middle" >DOORS</text><text x="1669.7" y="538.25" font-size="16.4" fill="#0f1b35" font-weight="bold" text-anchor="middle" >8M</text><text x="1669.7" y="557.65" font-size="16.4" fill="#0f1b35" font-weight="normal" text-anchor="middle" >CLEAR</text><text x="1669.7" y="576.95" font-size="16.4" fill="#0f1b35" font-weight="normal" text-anchor="middle" >INTERNAL</text><text x="1669.7" y="596.25" font-size="16.4" fill="#0f1b35" font-weight="normal" text-anchor="middle" >HEIGHT</text><text x="1790.2" y="538.25" font-size="16.4" fill="#0f1b35" font-weight="bold" text-anchor="middle" >3</text><text x="1790.2" y="557.65" font-size="16.4" fill="#0f1b35" font-weight="normal" text-anchor="middle" >EV</text><text x="1790.2" y="576.95" font-size="16.4" fill="#0f1b35" font-weight="normal" text-anchor="middle" >CHARGING</text><text x="1790.2" y="596.25" font-size="16.4" fill="#0f1b35" font-weight="normal" text-anchor="middle" >POINTS</text><text x="1910.7" y="538.25" font-size="16.4" fill="#0f1b35" font-weight="bold" text-anchor="middle" >7</text><text x="1910.7" y="557.65" font-size="16.4" fill="#0f1b35" font-weight="normal" text-anchor="middle" >CAR</text><text x="1910.7" y="576.95" font-size="16.4" fill="#0f1b35" font-weight="normal" text-anchor="middle" >PARKING</text><text x="1910.7" y="596.25" font-size="16.4" fill="#0f1b35" font-weight="normal" text-anchor="middle" >SPACES</text>
<text x="1515.8" y="676.7" font-size="26" fill="#3a86c4" font-weight="bold" text-anchor="start" textLength="102" lengthAdjust="spacingAndGlyphs">UNIT 20</text><text x="1804" y="680.2" font-size="20" fill="#3a86c4" font-weight="normal" text-anchor="end" >sq ft</text><text x="1942" y="680.2" font-size="20" fill="#3a86c4" font-weight="normal" text-anchor="end" >sq m</text><text x="1515" y="713.2" font-size="18.7" fill="#222222" font-weight="bold" text-anchor="start" textLength="121" lengthAdjust="spacingAndGlyphs">TOTAL (GEA)</text><text x="1804" y="713.2" font-size="18.6" fill="#222222" font-weight="bold" text-anchor="end" >8,740</text><text x="1942" y="713.2" font-size="18.6" fill="#222222" font-weight="bold" text-anchor="end" >813</text><line x1="1515.4" y1="721.6" x2="1943.4" y2="721.6" stroke="#3a86c4" stroke-width="1.3"/><rect x="1535.1" y="741.8" width="28.3" height="33.1" rx="3.2" fill="none" stroke="#0a1a3c" stroke-width="2.9"/><line x1="1525.6" y1="779.4" x2="1572.8" y2="779.4" stroke="#3a86c4" stroke-width="3.7" stroke-linecap="round"/><line x1="1648.6" y1="744.6" x2="1690.8" y2="744.6" stroke="#3a86c4" stroke-width="4" stroke-linecap="round"/><path d="M1669.7,750.8 L1683.3,764.3 Q1684.3,766.3 1682.1,766.3 L1673.5,766.3 L1673.5,777.9 Q1673.5,779.8 1671.6,779.8 L1667.8,779.8 Q1665.9,779.8 1665.9,777.9 L1665.9,766.3 L1657.3,766.3 Q1655.1,766.3 1656.1,764.3 Z" fill="none" stroke="#0a1a3c" stroke-width="2.9" stroke-linejoin="round"/><path d="M1793.8,776.51 A19.8,19.8 0 1 0 1787,776.51" fill="none" stroke="#0a1a3c" stroke-width="2.6"/><line x1="1783.9" y1="746.1" x2="1783.9" y2="755.7" stroke="#0a1a3c" stroke-width="2.4"/><line x1="1796.8" y1="746.1" x2="1796.8" y2="755.7" stroke="#0a1a3c" stroke-width="2.4"/><path d="M1780.6,756.1 L1800.2,756.1 L1800.2,762.4 Q1800.2,766.4 1796.2,766.4 L1784.6,766.4 Q1780.6,766.4 1780.6,762.4 Z" fill="none" stroke="#0a1a3c" stroke-width="2.5" stroke-linejoin="round"/><line x1="1787" y1="766.4" x2="1787" y2="777.01" stroke="#0a1a3c" stroke-width="2.3"/><line x1="1793.8" y1="766.4" x2="1793.8" y2="777.01" stroke="#0a1a3c" stroke-width="2.3"/><line x1="1790.45" y1="773.3" x2="1790.45" y2="781.1" stroke="#3a86c4" stroke-width="3.4" stroke-linecap="round"/><path d="M1894.5,746.6 L1898.5,736.9 Q1899.1,735.9 1900.3,735.9 L1923.9,735.9 Q1925.1,735.9 1925.7,736.9 L1929.3,746.6" fill="none" stroke="#0a1a3c" stroke-width="2.2" stroke-linejoin="round"/><rect x="1891.1" y="746.6" width="40.2" height="14.8" rx="3.5" fill="none" stroke="#0a1a3c" stroke-width="2.2"/><path d="M1892.1,761.4 L1892.1,764.3 Q1892.1,766.1 1893.9,766.1 L1897.2,766.1 Q1899,766.1 1899,764.3 L1899,761.4" fill="none" stroke="#0a1a3c" stroke-width="2.1"/><path d="M1923.5,761.4 L1923.5,764.3 Q1923.5,766.1 1925.3,766.1 L1928.6,766.1 Q1930.4,766.1 1930.4,764.3 L1930.4,761.4" fill="none" stroke="#0a1a3c" stroke-width="2.1"/><rect x="1895.4" y="752.3" width="5.6" height="4.4" fill="none" stroke="#0a1a3c" stroke-width="1.8"/><rect x="1920.7" y="752.3" width="6" height="4.4" fill="none" stroke="#0a1a3c" stroke-width="1.8"/><line x1="1906.5" y1="753.6" x2="1916.3" y2="753.6" stroke="#0a1a3c" stroke-width="1.7"/><line x1="1906.5" y1="756" x2="1916.3" y2="756" stroke="#0a1a3c" stroke-width="1.7"/><path d="M1914.1,746.3 A5.2,5.2 0 0 1 1924.3,746.3" fill="none" stroke="#0a1a3c" stroke-width="2"/><line x1="1889.4" y1="772.5" x2="1932.6" y2="772.5" stroke="#3a86c4" stroke-width="3.5" stroke-linecap="round"/><text x="1549.2" y="809.5" font-size="16.4" fill="#0f1b35" font-weight="bold" text-anchor="middle" >1</text><text x="1549.2" y="828.9" font-size="16.4" fill="#0f1b35" font-weight="normal" text-anchor="middle" >LEVEL</text><text x="1549.2" y="848.2" font-size="16.4" fill="#0f1b35" font-weight="normal" text-anchor="middle" >ACCESS</text><text x="1549.2" y="867.5" font-size="16.4" fill="#0f1b35" font-weight="normal" text-anchor="middle" >DOORS</text><text x="1669.7" y="809.5" font-size="16.4" fill="#0f1b35" font-weight="bold" text-anchor="middle" >8M</text><text x="1669.7" y="828.9" font-size="16.4" fill="#0f1b35" font-weight="normal" text-anchor="middle" >CLEAR</text><text x="1669.7" y="848.2" font-size="16.4" fill="#0f1b35" font-weight="normal" text-anchor="middle" >INTERNAL</text><text x="1669.7" y="867.5" font-size="16.4" fill="#0f1b35" font-weight="normal" text-anchor="middle" >HEIGHT</text><text x="1790.2" y="809.5" font-size="16.4" fill="#0f1b35" font-weight="bold" text-anchor="middle" >3</text><text x="1790.2" y="828.9" font-size="16.4" fill="#0f1b35" font-weight="normal" text-anchor="middle" >EV</text><text x="1790.2" y="848.2" font-size="16.4" fill="#0f1b35" font-weight="normal" text-anchor="middle" >CHARGING</text><text x="1790.2" y="867.5" font-size="16.4" fill="#0f1b35" font-weight="normal" text-anchor="middle" >POINTS</text><text x="1910.7" y="809.5" font-size="16.4" fill="#0f1b35" font-weight="bold" text-anchor="middle" >7</text><text x="1910.7" y="828.9" font-size="16.4" fill="#0f1b35" font-weight="normal" text-anchor="middle" >CAR</text><text x="1910.7" y="848.2" font-size="16.4" fill="#0f1b35" font-weight="normal" text-anchor="middle" >PARKING</text><text x="1910.7" y="867.5" font-size="16.4" fill="#0f1b35" font-weight="normal" text-anchor="middle" >SPACES</text>
<text x="1515.8" y="947.95" font-size="26" fill="#3a86c4" font-weight="bold" text-anchor="start" textLength="100.5" lengthAdjust="spacingAndGlyphs">UNIT 22</text><text x="1804" y="951.45" font-size="20" fill="#3a86c4" font-weight="normal" text-anchor="end" >sq ft</text><text x="1942" y="951.45" font-size="20" fill="#3a86c4" font-weight="normal" text-anchor="end" >sq m</text><text x="1515" y="984.45" font-size="18.7" fill="#222222" font-weight="bold" text-anchor="start" textLength="121" lengthAdjust="spacingAndGlyphs">TOTAL (GEA)</text><text x="1804" y="984.45" font-size="18.6" fill="#222222" font-weight="bold" text-anchor="end" >10,682</text><text x="1942" y="984.45" font-size="18.6" fill="#222222" font-weight="bold" text-anchor="end" >993</text><line x1="1515.4" y1="992.85" x2="1943.4" y2="992.85" stroke="#3a86c4" stroke-width="1.3"/><rect x="1535.1" y="1013.05" width="28.3" height="33.1" rx="3.2" fill="none" stroke="#0a1a3c" stroke-width="2.9"/><line x1="1525.6" y1="1050.65" x2="1572.8" y2="1050.65" stroke="#3a86c4" stroke-width="3.7" stroke-linecap="round"/><line x1="1648.6" y1="1015.85" x2="1690.8" y2="1015.85" stroke="#3a86c4" stroke-width="4" stroke-linecap="round"/><path d="M1669.7,1022.05 L1683.3,1035.55 Q1684.3,1037.55 1682.1,1037.55 L1673.5,1037.55 L1673.5,1049.15 Q1673.5,1051.05 1671.6,1051.05 L1667.8,1051.05 Q1665.9,1051.05 1665.9,1049.15 L1665.9,1037.55 L1657.3,1037.55 Q1655.1,1037.55 1656.1,1035.55 Z" fill="none" stroke="#0a1a3c" stroke-width="2.9" stroke-linejoin="round"/><path d="M1793.8,1047.76 A19.8,19.8 0 1 0 1787,1047.76" fill="none" stroke="#0a1a3c" stroke-width="2.6"/><line x1="1783.9" y1="1017.35" x2="1783.9" y2="1026.95" stroke="#0a1a3c" stroke-width="2.4"/><line x1="1796.8" y1="1017.35" x2="1796.8" y2="1026.95" stroke="#0a1a3c" stroke-width="2.4"/><path d="M1780.6,1027.35 L1800.2,1027.35 L1800.2,1033.65 Q1800.2,1037.65 1796.2,1037.65 L1784.6,1037.65 Q1780.6,1037.65 1780.6,1033.65 Z" fill="none" stroke="#0a1a3c" stroke-width="2.5" stroke-linejoin="round"/><line x1="1787" y1="1037.65" x2="1787" y2="1048.26" stroke="#0a1a3c" stroke-width="2.3"/><line x1="1793.8" y1="1037.65" x2="1793.8" y2="1048.26" stroke="#0a1a3c" stroke-width="2.3"/><line x1="1790.45" y1="1044.55" x2="1790.45" y2="1052.35" stroke="#3a86c4" stroke-width="3.4" stroke-linecap="round"/><path d="M1894.5,1017.85 L1898.5,1008.15 Q1899.1,1007.15 1900.3,1007.15 L1923.9,1007.15 Q1925.1,1007.15 1925.7,1008.15 L1929.3,1017.85" fill="none" stroke="#0a1a3c" stroke-width="2.2" stroke-linejoin="round"/><rect x="1891.1" y="1017.85" width="40.2" height="14.8" rx="3.5" fill="none" stroke="#0a1a3c" stroke-width="2.2"/><path d="M1892.1,1032.65 L1892.1,1035.55 Q1892.1,1037.35 1893.9,1037.35 L1897.2,1037.35 Q1899,1037.35 1899,1035.55 L1899,1032.65" fill="none" stroke="#0a1a3c" stroke-width="2.1"/><path d="M1923.5,1032.65 L1923.5,1035.55 Q1923.5,1037.35 1925.3,1037.35 L1928.6,1037.35 Q1930.4,1037.35 1930.4,1035.55 L1930.4,1032.65" fill="none" stroke="#0a1a3c" stroke-width="2.1"/><rect x="1895.4" y="1023.55" width="5.6" height="4.4" fill="none" stroke="#0a1a3c" stroke-width="1.8"/><rect x="1920.7" y="1023.55" width="6" height="4.4" fill="none" stroke="#0a1a3c" stroke-width="1.8"/><line x1="1906.5" y1="1024.85" x2="1916.3" y2="1024.85" stroke="#0a1a3c" stroke-width="1.7"/><line x1="1906.5" y1="1027.25" x2="1916.3" y2="1027.25" stroke="#0a1a3c" stroke-width="1.7"/><path d="M1914.1,1017.55 A5.2,5.2 0 0 1 1924.3,1017.55" fill="none" stroke="#0a1a3c" stroke-width="2"/><line x1="1889.4" y1="1043.75" x2="1932.6" y2="1043.75" stroke="#3a86c4" stroke-width="3.5" stroke-linecap="round"/><text x="1549.2" y="1080.75" font-size="16.4" fill="#0f1b35" font-weight="bold" text-anchor="middle" >1</text><text x="1549.2" y="1100.15" font-size="16.4" fill="#0f1b35" font-weight="normal" text-anchor="middle" >LEVEL</text><text x="1549.2" y="1119.45" font-size="16.4" fill="#0f1b35" font-weight="normal" text-anchor="middle" >ACCESS</text><text x="1549.2" y="1138.75" font-size="16.4" fill="#0f1b35" font-weight="normal" text-anchor="middle" >DOORS</text><text x="1669.7" y="1080.75" font-size="16.4" fill="#0f1b35" font-weight="bold" text-anchor="middle" >8M</text><text x="1669.7" y="1100.15" font-size="16.4" fill="#0f1b35" font-weight="normal" text-anchor="middle" >CLEAR</text><text x="1669.7" y="1119.45" font-size="16.4" fill="#0f1b35" font-weight="normal" text-anchor="middle" >INTERNAL</text><text x="1669.7" y="1138.75" font-size="16.4" fill="#0f1b35" font-weight="normal" text-anchor="middle" >HEIGHT</text><text x="1790.2" y="1080.75" font-size="16.4" fill="#0f1b35" font-weight="bold" text-anchor="middle" >4</text><text x="1790.2" y="1100.15" font-size="16.4" fill="#0f1b35" font-weight="normal" text-anchor="middle" >EV</text><text x="1790.2" y="1119.45" font-size="16.4" fill="#0f1b35" font-weight="normal" text-anchor="middle" >CHARGING</text><text x="1790.2" y="1138.75" font-size="16.4" fill="#0f1b35" font-weight="normal" text-anchor="middle" >POINTS</text><text x="1910.7" y="1080.75" font-size="16.4" fill="#0f1b35" font-weight="bold" text-anchor="middle" >11</text><text x="1910.7" y="1100.15" font-size="16.4" fill="#0f1b35" font-weight="normal" text-anchor="middle" >CAR</text><text x="1910.7" y="1119.45" font-size="16.4" fill="#0f1b35" font-weight="normal" text-anchor="middle" >PARKING</text><text x="1910.7" y="1138.75" font-size="16.4" fill="#0f1b35" font-weight="normal" text-anchor="middle" >SPACES</text>
<line x1="69.3" y1="1178.3" x2="511.7" y2="1178.3" stroke="#3a86c4" stroke-width="1.3"/>
<path d="M114.1,1217 L141.4,1217 L147.1,1250.4 L108.2,1250.4 Z" fill="none" stroke="#0a1a3c" stroke-width="2.5" stroke-linejoin="round"/>
<text x="127.65" y="1237.7" font-size="10.6" fill="#3a86c4" font-weight="bold" text-anchor="middle" textLength="21.3" lengthAdjust="spacingAndGlyphs">KN</text>
<line x1="282.9" y1="1208.5" x2="282.9" y2="1215.6" stroke="#0a1a3c" stroke-width="2.9" stroke-linecap="round"/>
<line x1="255.6" y1="1235.2" x2="262.6" y2="1235.2" stroke="#0a1a3c" stroke-width="2.9" stroke-linecap="round"/>
<line x1="303.2" y1="1235.2" x2="310" y2="1235.2" stroke="#0a1a3c" stroke-width="2.9" stroke-linecap="round"/>
<line x1="263.5" y1="1216.4" x2="268.3" y2="1220.9" stroke="#0a1a3c" stroke-width="2.9" stroke-linecap="round"/>
<line x1="297" y1="1220.9" x2="301.6" y2="1216.4" stroke="#0a1a3c" stroke-width="2.9" stroke-linecap="round"/>
<line x1="263.5" y1="1254" x2="268.3" y2="1249.6" stroke="#0a1a3c" stroke-width="2.9" stroke-linecap="round"/>
<line x1="297" y1="1249.6" x2="301.6" y2="1254" stroke="#0a1a3c" stroke-width="2.9" stroke-linecap="round"/>
<path d="M277.4,1250.2 L277.4,1244.3 A11.6,11.6 0 1 1 288.6,1244.3 L288.6,1250.2 Z" fill="none" stroke="#3a86c4" stroke-width="2.7" stroke-linejoin="miter"/>
<path d="M279.5,1251.8 L286.6,1251.8 L286.6,1256 Q286.6,1259.8 283,1259.8 Q279.5,1259.8 279.5,1256 Z" fill="#0a1a3c"/>
<path d="M450.2,1210.1 L424.4,1230.5 L429.5,1240.6 L425.5,1256.8 L444.3,1231.4 L438.7,1226.9 Z" fill="none" stroke="#3a86c4" stroke-width="2.2" stroke-linejoin="round"/>
<text x="127.5" y="1285" font-size="16.4" fill="#0f1b35" font-weight="normal" text-anchor="middle" >UP TO</text>
<text x="127.5" y="1304.5" font-size="16.4" fill="#0f1b35" font-weight="bold" text-anchor="middle" >50KN/M2</text>
<text x="127.5" y="1324" font-size="16.4" fill="#0f1b35" font-weight="normal" text-anchor="middle" >FLOOR LOADING</text>
<text x="283" y="1285" font-size="16.4" fill="#0f1b35" font-weight="bold" text-anchor="middle" >LED</text>
<text x="283" y="1304.5" font-size="16.4" fill="#0f1b35" font-weight="normal" text-anchor="middle" >LIGHTING</text>
<text x="438" y="1285" font-size="16.4" fill="#0f1b35" font-weight="bold" text-anchor="middle" >2 MVA</text>
<text x="438" y="1304.5" font-size="16.4" fill="#0f1b35" font-weight="normal" text-anchor="middle" >POWER SUPPLY</text>
<text x="438" y="1324" font-size="16.4" fill="#0f1b35" font-weight="normal" text-anchor="middle" >PARK WIDE*</text>
<text x="290.5" y="1350.4" font-size="15" fill="#0f1b35" font-weight="normal" text-anchor="middle" textLength="219" lengthAdjust="spacingAndGlyphs">*Additional 7MVA upon request</text>
<text x="1677.6" y="1344.6" font-size="19" font-weight="bold" fill="#0c1a38" textLength="161" lengthAdjust="spacingAndGlyphs">panattoni.co.uk/</text>
<text x="1839" y="1344.6" font-size="19" font-weight="bold" fill="#1b4f9e" textLength="106.5" lengthAdjust="spacingAndGlyphs">burgesshill</text>
</svg></body></html>
